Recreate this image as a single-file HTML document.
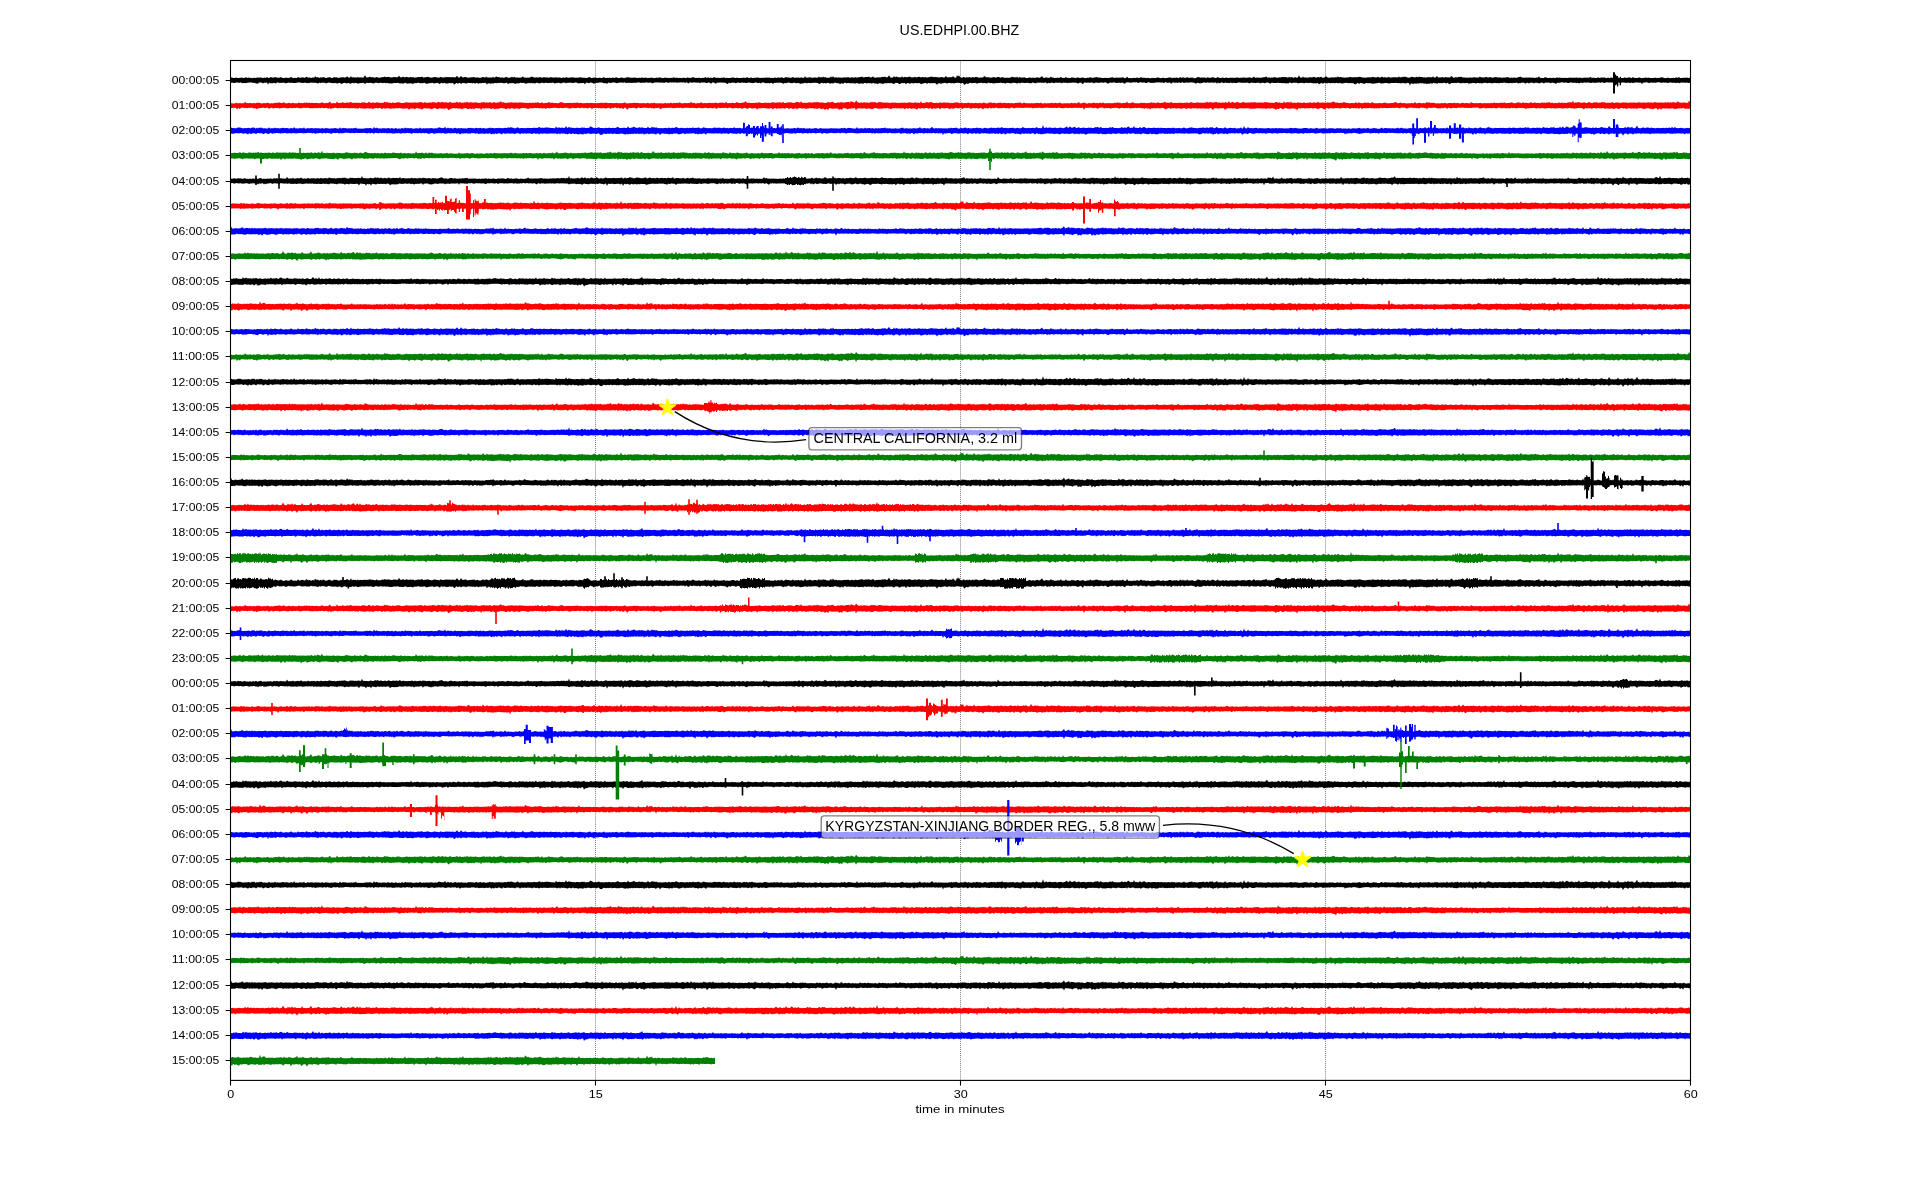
<!DOCTYPE html>
<html><head><meta charset="utf-8"><style>
html,body{margin:0;padding:0;background:#fff;}
svg{display:block;}
text{font-family:"Liberation Sans",sans-serif;}
.g{filter:url(#gs);}
</style></head><body>
<svg width="1920" height="1200" viewBox="0 0 1920 1200">
<rect width="1920" height="1200" fill="#fff"/>
<defs>
<path id="n0" d="M0-12l1 2 1-1 1 0 1-1 1 0 1 1 1 0 1 0 1-1 1-3 1 4 1 1 1-4 1 1 1 2 1 0 1 1 1-1 1-3 1 2 1-1 1 2 1-1 1-1 1 2 1-3 1 3 1-5 1 3 1 3 1-3 1 2 1 0 1 0 1-1 1 0 1 1 1-1 1-2 1 3 1-1 1 2 1-5 1 4 1 1 1-3 1 0 1-1 1 3 1-3 1 3 1-2 1 1 1-1 1 1 1-1 1 1 1 1 1-2 1-2 1 5 1-4 1 1 1 1 1-1 1 1 1 1 1-1 1 1 1-1 1 0 1 1 1-1 1 0 1 1 1 0 1-1 1 0 1 0 1 1 1-3 1 1 1 3 1-1 1-3 1 3 1 0 1-2 1-1 1 3 1-1 1-8 1 10 1-2 1 2 1-1 1-2 1 3 1-2 1 1 1 1 1-2 1 1 1-2 1 3 1 0 1-2 1 1 1 0 1 0 1 1 1 0 1-1 1 1 1-2 1-2 1 1 1 0 1 2 1-1 1 2 1-1 1 1 1-2 1-1 1 3 1-2 1 2 1 0 1-3 1 1 1 2 1 0 1-1 1-5 1 1 1 3 1 0 1 2 1-1 1 1 1-1 1 1 1 0 1-2 1 2 1 0 1-2 1 3 1-1 1 0 1-2 1 3 1-1 1-3 1 2 1 1 1 0 1-2 1 2 1 0 1-1 1-2 1 0 1 2 1 0 1 0 1 1 1-1 1 1 1-4 1 5 1-1 1 0 1-2 1 3 1-1 1-1 1 1 1 0 1 1 1 0 1-1 1 0 1 1 1-9 1 7 1 1 1-2 1 1 1 0 1-2 1 2 1 2 1-1 1-4 1 5 1 0 1-5 1 4 1-2 1 0 1 1 1 2 1-1 1 1 1 0 1 0 1 0 1-1 1 0 1 0 1 2 1-2 1 1 1-1 1-2 1 3 1 1 1-3 1 2 1-1 1 1 1 1 1 0 1-1 1 1 1-1 1-4 1 4 1 0 1 0 1 0 1 0 1-1 1 1 1-2 1 1 1 1 1 0 1-1 1-1 1 1 1 1 1 1 1 0 1-2 1 1 1 1 1-2 1 1 1-1 1 2 1 0 1 0 1-2 1-1 1 2 1 0 1-1 1-1 1 2 1 0 1-3 1 1 1 1 1 0 1 0 1 0 1 0 1 1 1-2 1 2 1-2 1 1 1 0 1 0 1 0 1 1 1-3 1 1 1-1 1 3 1 0 1-3 1 2 1 0 1 1 1 0 1-1 1 1 1-1 1 0 1-2 1 3 1-2 1 0 1 2 1-2 1 0 1 0 1 2 1-1 1 1 1-1 1 1 1-3 1 3 1-1 1-1 1 1 1 1 1-1 1-2 1 2 1 1 1-1 1 0 1 0 1-2 1 3 1-4 1 1 1 3 1-1 1-2 1-5 1 7 1 0 1 0 1-1 1 1 1-1 1-1 1 0 1-1 1 2 1 1 1 0 1 0 1-3 1 3 1 0 1-1 1 1 1 0 1 0 1-2 1 2 1-1 1 1 1-2 1 0 1 2 1-4 1 2 1 2 1-2 1 0 1 0 1-2 1 0 1 2 1 1 1-3 1 3 1-2 1 1 1 0 1-1 1-1 1 4 1-1 1-1 1 1 1-1 1 0 1-3 1 3 1-4 1 0 1 6 1-3 1 1 1-1 1 1 1 1 1-5 1 0 1 4 1-3 1 2 1 2 1-1 1-1 1 2 1-2 1 2 1 0 1-2 1 0 1 2 1-4 1 1 1 3 1-2 1 1 1-3 1 4 1 1 1-5 1 1 1 3 1 0 1 0 1 0 1 0 1-2 1 2 1 0 1 1 1-2 1-7 1 4 1 4 1-1 1 1 1-2 1 1 1 1 1-4 1 3 1 1 1 0 1 0 1-3 1 4 1-3 1-1 1 4 1-3 1 2 1-2 1-2 1 5 1-3 1 3 1-3 1 1 1 1 1-4 1 5 1-6 1 4 1-1 1 1 1 0 1 1 1 1 1-2 1 2 1 0 1-2 1 0 1 1 1-3 1 4 1-2 1 0 1 1 1 0 1 1 1 0 1 0 1-5 1 4 1 0 1-1 1-3 1 5 1-1 1 0 1-2 1 3 1 0 1 0 1 0 1-1 1 1 1 0 1-1 1 2 1-7 1 5 1-1 1 1 1 1 1 1 1 0 1-6 1 5 1-1 1 1 1-1 1 1 1 0 1-3 1 1 1 1 1 2 1-2 1 2 1-1 1 0 1 0 1-2 1-1 1 4 1 0 1 0 1-1 1-1 1 1 1 1 1-1 1 1 1 0 1-2 1 1 1 1 1-2 1-2 1 3 1 0 1 0 1 0 1 0 1 0 1-1 1 0 1 0 1 0 1 2 1 1 1-1 1 0 1 0 1-1 1-4 1 4 1 1 1-2 1 1 1 1 1-2 1 1 1 1 1-3 1 2 1 1 1 0 1-2 1 2 1 1 1-1 1-1 1 0 1 0 1-2 1 2 1 2 1-1 1 0 1 1 1-3 1 0 1 3 1-3 1 1 1 2 1-2 1-1 1 3 1 0 1 0 1-2 1 0 1 0 1-1 1 2 1-1 1-1 1 0 1 2 1-1 1 1 1-3 1 1 1 3 1-5 1-1 1 5 1 0 1 0 1-1 1 1 1 1 1-1 1-2 1 2 1-1 1 1 1 0 1 0 1-2 1 1 1-1 1-1 1 3 1 0 1-1 1-1 1 2 1-1 1 1 1-2 1 1 1-1 1 1 1 0 1-3 1 3 1 1 1-6 1 2 1 3 1 0 1 1 1 0 1-1 1 0 1-3 1 2 1-5 1 5 1 1 1-2 1 2 1 0 1-1 1 2 1-1 1-1 1 0 1 1 1-1 1 1 1 1 1 0 1-3 1 2 1-3 1 2 1-1 1 0 1 0 1 2 1-1 1 0 1 1 1 0 1-1 1 1 1-8 1 8 1-3 1 3 1-2 1 2 1 0 1 0 1-4 1 4 1 0 1 0 1-3 1 1 1 1 1-2 1 3 1-1 1-1 1 2 1 0 1-3 1-1 1 3 1 1 1-2 1-1 1 1 1 2 1-1 1-3 1 4 1 0 1-1 1-2 1 3 1-3 1 1 1-2 1 2 1 2 1-3 1 2 1 0 1-1 1 0 1-2 1-2 1 3 1 0 1 2 1 0 1-3 1 4 1-6 1 4 1-1 1 1 1-1 1 2 1-1 1 1 1-1 1 1 1-4 1 3 1-3 1 5 1-3 1 2 1-2 1 3 1-1 1 0 1 0 1-1 1 1 1-2 1 0 1 2 1-4 1 4 1-1 1 1 1 0 1-4 1-1 1 2 1 3 1 0 1 0 1-1 1-1 1 1 1-2 1 3 1-2 1 2 1-5 1 5 1-1 1-2 1 4 1-4 1 1 1 1 1 2 1-4 1 2 1-1 1 1 1 2 1 0 1-3 1 0 1 1 1 1 1 1 1-2 1 0 1 0 1-2 1-4 1 7 1 0 1 1 1-2 1 0 1 2 1-1 1-2 1 3 1-1 1 0 1-1 1 1 1-3 1 2 1 2 1-2 1-1 1 2 1 1 1-2 1 1 1-1 1 0 1 0 1 1 1-5 1 5 1-2 1 1 1-4 1 6 1 0 1 0 1 0 1-1 1 1 1 0 1-1 1 1 1 0 1-2 1 0 1 0 1 1 1 0 1-1 1 2 1-1 1 2 1-1 1 1 1 0 1-2 1-2 1 1 1 1 1-1 1 0 1 0 1 3 1-3 1 0 1 2 1 0 1 1 1 0 1-3 1 1 1 2 1 0 1-2 1-2 1 2 1 1 1 0 1-2 1 3 1 0 1 0 1 0 1-1 1-1 1 1 1 1 1-1 1 1 1 0 1 0 1 1 1-1 1 0 1 0 1-4 1 5 1-2 1-1 1 2 1-1 1 1 1 1 1-1 1-3 1 3 1-1 1-1 1 1 1 1 1 1 1 0 1-1 1-1 1 0 1 0 1 0 1 1 1-1 1 1 1 1 1-1 1 0 1-1 1 0 1 1 1-1 1 2 1-4 1 3 1 0 1-1 1-4 1 4 1 1 1 0 1 0 1 0 1-1 1 0 1-1 1 2 1 0 1 0 1-1 1-1 1 1 1-3 1 4 1-1 1 1 1-1 1 1 1-6 1 5 1 1 1 1 1-1 1 1 1-1 1-1 1 1 1 0 1-2 1 2 1 0 1 0 1 0 1 0 1-2 1 2 1-1 1 1 1 0 1-2 1 2 1 0 1-1 1 1 1 0 1-1 1 1 1-6 1 5 1 1 1-1 1-1 1 2 1 0 1 0 1-4 1 3 1 1 1-1 1 0 1 0 1-3 1 3 1 1 1 0 1-1 1 0 1-2 1-1 1 4 1-2 1 0 1 1 1-1 1 2 1 0 1-1 1-2 1 0 1 2 1-2 1-3 1 1 1 3 1 2 1-3 1 0 1 2 1-1 1 2 1-3 1 2 1 0 1 0 1-3 1 2 1-2 1 1 1-2 1 3 1 1 1 0 1 0 1 0 1 0 1-2 1 1 1-1 1 2 1-1 1-1 1 1 1-1 1 0 1 1 1-1 1 1 1 0 1-8 1 6 1-1 1 4 1-1 1 0 1 1 1 0 1-1 1 0 1 0 1-3 1 3 1 0 1 0 1-3 1 1 1 2 1-3 1 1 1 1 1 1 1-1 1 0 1 1 1 0 1-1 1 0 1-1 1 2 1 0 1 0 1 0 1 0 1 0 1 0 1 1 1-6 1 5 1 0 1 0 1-2 1 1 1 1 1-2 1 1 1-1 1 0 1 1 1 1 1-1 1-2 1 2 1 2 1-1 1 0 1 0 1 0 1-5 1 4 1-1 1 2 1 0 1-3 1 2 1 0 1-2 1 1 1 1 1 0 1 1 1 1 1-1 1-3 1 1 1 1 1 1 1 0 1-1 1 2 1-3 1 0 1 2 1 0 1 0 1 0 1 1 1-4 1 2 1 0 1-4 1 5 1 1 1-1 1 0 1 0 1-1 1 1 1-4 1 4 1-1 1 1 1-1 1 0 1 2 1 0 1-6 1 4 1 2 1-3 1 2 1 0 1-2 1 2 1 0 1 0 1-2 1 3 1-2 1 0 1-1 1 2 1-2 1 0 1 3 1 1 1-2 1-1 1 2 1 1 1-2 1-2 1 0 1 1 1 2 1 0 1 0 1 1 1-3 1 1 1 0 1-2 1 1 1 2 1-1 1-1 1 0 1-3 1 3 1-1 1 3 1 0 1-2 1 0 1 1 1 0 1 0 1 2 1-2 1 2 1-3 1 3 1 0 1 0 1-4 1 3 1 0 1-1 1 0 1 2 1 0 1-1 1 1 1-3 1 3 1 0 1 0 1-1 1-1 1 1 1 2 1-2 1 1 1-3 1 0 1 3 1 1 1-2 1 0 1-1 1 2 1 1 1-3 1 2 1 1 1-2 1 1 1-1 1 2 1-1 1 1 1 0 1-1 1 1 1-1 1-1 1 1 1 1 1-1 1-1 1 2 1-1 1 0 1 0 1 0 1 0 1 0 1-2 1 3 1-3 1 1 1 1 1 0 1 0 1-2 1 0 1 1 1 1 1-1 1 2 1-1 1-6 1 7 1-3 1 2 1-2 1 2 1-1 1 1 1 0 1-2 1 2 1 0 1 0 1 0 1 1 1-1 1 0 1 0 1-1 1 1 1 0 1 0 1 0 1 0 1 0 1 1 1-1 1-1 1 1 1 0 1-1 1-2 1 2 1 1 1-2 1 0 1 2 1 0 1-1 1-1 1 1 1 1 1-2 1 2 1-1 1 0 1 1 1 0 1-2 1 1 1 1 1 0 1-1 1-1 1 1 1 0 1-1 1 2 1-4 1 3 1 0 1 0 1 1 1-1 1-4 1 3 1 1 1-1 1-1 1 2 1 0 1 0 1-3 1 1 1 2 1-1 1 1 1-3 1 3 1 0 1 0 1-4 1 2 1 1 1 0 1-1 1 1 1 1 1 0 1-3 1 3 1 0 1-7 1 7 1-1 1-2 1 1 1 1 1-8 1 6 1 3 1 0 1 0 1-2 1-2 1 3 1 1 1 0 1-3 1 1 1 2 1-2 1 0 1 2 1-3 1 2 1-3 1 2 1 1 1 0 1 0 1-1 1 1 1-2 1-3 1 5 1 0 1-2 1 3 1-5 1 0 1-1 1 5 1 0 1-1 1-3 1 4 1-2 1 1 1 1 1-5 1 4 1 1 1-2 1 2 1 0 1-2 1 2 1 0 1 1 1-1 1-3 1 3 1 0 1-1 1-3 1 3 1-1 1 0 1 2 1-1 1-1 1 1 1-1 1 1 1-4 1 3 1 1 1-5 1 6 1 1 1-1 1 0 1 0 1-1 1-3 1 5 1-4 1 3 1 1 1-1 1 0l0 24l-1 1-1 0-1-2-1 1-1-1-1 0-1-1-1 2-1 0-1 0-1 0-1 0-1 1-1-3-1 0-1 0-1 3-1-3-1 2-1-1-1 2-1-3-1 1-1 5-1-5-1-1-1 1-1 6-1-4-1 1-1-4-1 1-1 0-1 0-1 2-1-1-1-3-1 2-1-1-1 0-1 0-1 0-1 0-1 0-1 2-1-1-1-1-1 0-1 1-1-2-1 1-1 5-1-6-1 2-1-1-1 0-1 0-1-1-1 1-1 0-1 0-1 0-1-1-1 0-1 3-1 1-1-4-1 0-1 0-1 1-1-1-1 2-1 0-1 0-1-1-1 6-1-5-1-1-1-1-1 3-1-3-1 0-1 1-1 2-1-1-1 1-1-2-1 0-1-1-1 3-1-2-1 0-1-1-1 0-1 0-1 4-1-3-1-1-1 0-1 2-1-2-1 2-1-1-1 0-1 0-1 0-1-1-1 4-1-5-1 3-1-1-1-2-1 3-1 0-1-3-1 0-1 2-1 0-1 0-1 0-1 0-1 0-1-1-1 0-1 2-1-3-1 3-1-2-1 1-1 0-1 0-1-2-1 3-1-2-1 0-1 0-1 3-1-2-1 1-1-2-1-1-1 2-1 0-1-1-1-1-1 0-1 1-1 0-1 2-1 0-1-3-1 0-1 0-1 1-1 0-1-1-1 0-1 2-1-2-1 0-1 0-1 1-1 0-1 0-1 0-1 1-1-2-1 2-1-2-1 1-1-1-1-1-1 0-1 1-1-1-1 1-1 1-1-2-1 3-1-2-1 0-1 1-1-1-1-1-1 0-1 2-1 0-1-1-1 1-1 2-1-3-1 1-1 0-1 0-1-1-1 0-1 0-1-1-1 3-1 2-1-4-1 2-1-1-1-2-1 3-1-1-1 1-1-3-1 0-1 2-1-2-1 5-1-1-1-2-1 1-1-3-1 1-1 5-1-5-1 0-1 1-1 0-1-1-1 2-1-2-1 2-1-2-1 0-1 0-1 1-1-1-1 0-1 0-1 3-1-3-1 0-1 2-1-2-1 0-1 0-1 1-1-1-1 1-1-1-1 3-1 0-1-1-1 1-1 0-1-2-1 0-1 1-1 0-1 1-1 0-1-2-1 2-1 0-1-2-1 1-1-2-1 0-1 1-1-1-1 0-1 0-1 0-1 0-1 1-1 0-1 1-1 2-1-3-1 1-1 0-1-1-1 1-1-2-1 6-1-4-1 0-1 1-1-2-1 1-1 0-1 1-1 0-1-2-1 3-1-2-1-1-1 2-1-2-1 1-1 2-1-2-1 2-1-1-1-1-1-1-1 2-1-1-1 2-1-1-1-2-1 0-1 0-1 1-1-1-1 7-1-4-1-1-1 1-1-2-1 4-1-4-1 0-1 1-1-1-1-1-1 3-1 1-1 0-1-3-1 1-1 0-1 0-1-1-1 1-1 4-1-4-1 0-1 1-1-2-1 2-1-1-1-1-1-1-1 2-1 1-1 0-1-2-1 2-1 0-1 1-1-2-1 2-1 3-1-6-1 4-1-2-1-2-1 0-1 10-1-5-1-2-1 1-1-3-1 0-1-2-1 2-1-1-1 1-1-1-1 1-1 1-1-2-1 1-1 2-1 0-1-1-1-2-1 0-1 3-1-3-1 0-1 3-1-4-1 2-1-2-1 1-1 0-1 6-1-7-1 0-1 5-1-5-1 0-1 1-1 0-1 2-1-2-1 8-1-8-1 0-1-1-1 3-1 1-1 0-1-1-1 0-1 1-1-2-1 2-1-4-1 1-1 1-1 1-1-1-1 2-1-3-1 4-1 0-1-4-1-1-1 4-1-4-1 2-1 0-1-1-1 0-1-1-1 0-1 0-1 2-1-1-1 2-1-1-1-2-1 3-1 2-1-4-1 1-1 0-1-2-1 0-1 0-1 2-1-1-1-1-1 0-1 0-1 0-1 0-1 3-1-2-1 0-1-1-1-1-1 1-1 2-1-1-1 0-1 0-1-2-1 2-1-1-1 1-1 1-1-2-1 0-1 0-1-1-1 3-1 3-1-4-1 4-1-5-1 1-1 2-1-4-1 4-1 1-1-3-1-2-1 3-1-1-1 0-1-2-1 0-1 0-1 0-1 0-1 1-1 1-1-1-1-1-1 2-1-2-1 1-1 0-1 1-1-1-1-1-1 3-1-1-1-2-1-1-1 1-1 0-1-1-1 2-1-1-1 1-1-1-1 0-1 0-1 3-1-3-1 0-1 2-1-2-1 1-1 0-1-1-1 1-1 6-1-6-1 2-1-3-1-1-1 1-1 1-1-1-1-1-1 2-1-1-1 0-1 0-1 0-1 1-1 0-1 0-1-2-1 0-1 1-1-1-1 1-1-1-1 1-1 0-1 0-1 1-1 2-1-4-1 2-1-2-1 1-1 1-1-1-1 0-1-1-1 0-1 1-1 1-1 0-1-1-1 1-1 1-1-3-1 0-1 1-1-1-1 0-1 2-1 0-1 1-1 1-1-4-1 2-1-1-1 2-1 1-1-2-1-1-1 2-1 1-1-2-1 2-1-2-1 0-1-1-1 0-1 1-1 1-1-2-1 0-1 2-1 0-1-1-1 0-1-1-1 1-1 0-1 0-1-1-1 1-1 5-1-5-1 3-1-4-1 1-1 2-1-2-1 5-1-6-1 0-1 4-1-3-1 3-1-2-1 1-1-1-1-1-1 2-1-1-1 2-1 2-1-4-1-1-1 3-1-3-1 0-1 0-1 2-1-2-1 1-1 1-1 1-1-3-1 2-1-1-1 3-1-3-1 2-1 1-1-4-1 1-1 1-1 0-1-2-1 2-1-1-1-1-1 0-1 2-1 0-1 0-1 3-1-5-1 2-1-2-1 0-1 1-1 0-1 1-1 0-1-2-1 4-1-2-1 0-1 1-1-1-1 2-1-4-1 1-1 0-1 1-1 2-1-3-1 1-1 0-1-2-1 1-1 2-1 1-1 0-1 0-1-4-1 1-1 0-1 1-1-1-1 2-1 2-1-5-1 1-1 0-1 2-1-1-1-2-1 2-1-1-1-1-1 0-1 5-1-4-1 0-1 2-1 1-1-1-1-3-1 0-1 1-1 2-1-1-1 0-1 1-1-3-1 1-1 0-1 2-1 1-1-1-1 0-1-1-1-1-1 1-1 3-1-5-1 2-1-1-1 2-1 2-1-4-1 2-1-2-1 0-1 3-1-3-1 2-1-1-1-2-1 2-1 0-1-2-1 3-1-1-1 0-1 0-1 4-1-4-1 1-1-1-1 0-1-1-1 0-1 0-1 0-1 1-1 1-1 1-1-3-1 2-1-2-1 0-1 0-1 1-1 0-1-1-1 1-1 0-1 1-1-2-1-1-1 1-1 2-1 0-1-1-1 1-1-2-1 1-1-1-1 0-1 3-1-4-1 0-1 1-1 3-1-3-1-1-1 0-1 4-1-1-1-3-1 0-1 2-1-2-1 0-1 1-1 0-1-1-1 3-1-1-1-3-1 1-1 1-1 0-1-2-1 2-1 0-1-1-1 1-1-2-1 2-1-2-1 3-1-1-1-1-1 1-1 0-1-2-1 2-1 0-1-1-1 0-1 1-1-2-1 0-1 1-1 2-1-3-1 1-1 0-1 1-1-1-1 1-1 0-1 0-1 1-1-3-1 0-1 1-1-1-1 0-1 2-1-1-1 1-1-1-1-1-1 1-1-1-1 0-1 0-1 0-1 0-1 1-1 0-1-1-1 1-1 0-1 0-1 1-1-2-1 1-1-1-1-1-1 0-1 0-1 1-1 0-1 2-1-2-1 2-1-3-1 6-1-5-1 3-1-4-1 2-1 1-1-2-1 1-1-2-1 2-1 1-1-2-1 1-1-1-1 0-1 2-1-3-1 3-1 1-1-2-1-2-1 1-1 1-1 0-1-2-1 3-1-1-1 2-1-2-1 1-1-1-1-2-1 0-1 2-1-1-1 1-1-1-1 1-1 0-1 1-1-2-1 1-1 0-1-1-1 1-1 0-1-2-1 1-1-1-1 1-1 1-1 1-1 1-1-3-1 0-1 2-1-2-1 1-1-1-1 1-1 2-1-2-1-1-1 0-1 3-1 1-1-4-1 2-1-2-1 1-1 2-1-1-1-2-1 5-1-2-1-2-1-1-1 0-1 1-1 2-1-2-1 0-1 0-1 3-1-4-1 4-1-4-1 7-1-3-1-1-1-1-1 0-1 1-1-1-1-1-1 0-1 0-1 3-1-3-1 0-1 2-1-3-1 1-1 5-1-3-1-2-1 1-1 0-1 1-1-2-1 2-1-2-1 3-1-1-1-2-1 6-1-6-1 2-1-1-1 0-1-1-1 0-1 2-1 0-1 0-1-1-1 0-1-1-1 2-1 0-1-1-1 0-1 1-1-1-1 0-1 1-1 0-1-2-1 1-1 2-1-3-1 0-1 0-1 1-1 2-1-2-1 3-1-2-1-1-1 0-1 2-1-2-1 1-1 1-1 0-1-1-1-1-1 0-1 1-1-1-1 3-1-4-1 3-1 0-1-2-1 0-1 3-1-3-1 1-1-1-1-1-1 2-1-2-1 3-1 0-1 2-1-2-1-2-1 0-1 5-1-5-1 1-1-1-1 3-1-2-1 1-1-1-1-1-1 0-1 1-1 2-1-3-1 0-1 2-1 2-1-2-1-1-1 6-1-5-1-1-1 1-1 1-1-3-1 2-1 0-1-2-1 6-1-6-1 0-1 3-1-3-1 1-1 0-1 0-1 1-1 0-1-1-1 1-1-2-1 2-1 0-1-1-1 2-1-3-1 1-1-1-1-1-1 3-1 2-1-1-1-2-1 2-1-3-1 2-1-1-1 0-1-1-1 4-1-5-1 1-1-1-1 0-1 0-1 1-1 1-1-1-1-1-1 0-1 0-1 1-1 0-1 4-1-5-1 0-1 0-1 0-1 4-1-1-1-3-1 1-1-1-1 3-1-3-1 3-1-2-1 0-1 1-1-2-1 0-1 0-1 6-1-6-1 0-1 1-1-1-1 0-1 0-1 0-1 0-1-1-1 2-1-1-1 3-1-3-1 1-1-2-1 8-1-7-1-1-1 0-1 1-1 2-1-3-1 1-1-1-1 1-1 0-1 0-1 1-1-2-1 3-1 0-1-3-1 2-1 0-1-2-1 2-1-1-1 0-1 0-1-1-1 2-1-2-1 2-1-2-1 0-1 2-1 0-1-1-1-2-1 3-1-2-1 3-1-1-1-2-1 0-1 2-1-1-1 2-1-2-1 0-1-1-1 0-1 0-1 0-1 0-1 2-1-1-1-1-1 0-1 1-1-1-1 1-1-1-1 2-1-1-1 1-1-1-1-1-1 1-1-1-1-1-1 1-1 0-1 4-1-3-1-1-1 0-1-1-1 2-1 1-1-2-1 1-1 0-1 3-1-4-1 0-1 1-1 0-1-1-1 0-1-1-1 2-1-2-1 1-1 0-1 2-1-2-1-1-1 2-1-2-1 3-1-1-1-2-1 2-1-1-1 1-1-2-1 2-1 0-1-1-1 1-1 0-1-1-1 0-1 2-1-2-1 0-1 0-1 1-1 2-1-3-1 0-1 5-1-3-1 0-1 2-1-4-1 0-1 1-1 1-1-2-1 0-1 0-1 1-1-1-1 2-1 0-1-2-1 1-1 1-1 0-1-1-1 1-1 3-1-1-1-2-1-2-1 0-1 0-1 0-1 1-1-1-1 1-1 0-1 1-1-2-1 3-1-2-1 0-1 3-1-3-1 0-1 1-1 0-1-1-1 0-1 1-1-1-1-1-1 2-1 2-1-3-1 2-1-3-1 1-1 3-1-2-1 0-1 1-1 1-1-3-1 0-1 0-1 1-1-1-1 0-1 1-1 0-1 1-1-2-1 1-1 4-1-2-1-2-1-1-1 0-1 2-1-1-1 1-1 2-1-2-1-1-1-1-1 0-1 1-1 6-1-5-1 0-1-2-1 4-1-1-1 0-1-1-1 1-1-1-1 0-1-1-1-1-1 1-1 0-1 0-1 1-1-1-1 4-1-2-1-1-1-1-1-1-1 0-1 3-1-1-1-1-1 0-1 1-1 1-1 0-1 3-1-6-1 1-1 1-1 1-1 0-1 5-1-8-1 4-1-2-1 0-1 0-1-1-1 0-1 1-1 0-1 0-1-1-1 1-1 0-1-1-1 0-1 5-1-5-1 0-1 1-1 6-1-7-1 0-1 2-1-2-1 1-1 0-1 0-1-1-1 2-1-2-1 0-1-1-1 2-1 2-1-3-1 0-1 2-1 0-1 1-1-4-1 2-1-1-1 0-1 0-1 0-1 3-1-1-1-3-1 2-1-1-1 1-1-1-1 1-1-2-1 0-1 2-1-2-1 4-1-1-1-2-1 0-1-1-1 0-1 2-1-2-1 4-1-3-1 0-1 0-1 0-1 1z"/>
<path id="n1" d="M0-10l1-2 1 2 1 0 1 1 1 0 1-2 1 1 1 1 1 0 1-1 1 0 1-1 1 2 1 0 1-2 1 0 1 0 1 2 1-3 1 4 1-2 1 1 1 1 1-3 1 2 1 0 1-2 1 0 1 1 1-1 1 0 1 1 1 1 1-1 1-1 1 2 1-4 1 3 1 1 1-2 1-2 1 2 1 0 1 1 1-4 1 3 1 0 1 1 1 0 1-1 1-2 1 3 1 1 1 0 1 0 1-2 1 1 1 1 1-1 1 0 1-4 1 3 1 2 1 0 1-1 1 1 1 0 1-5 1 4 1 0 1-1 1 0 1-1 1 2 1 0 1-3 1-1 1 4 1-1 1 0 1 2 1-1 1-2 1 3 1-7 1 3 1 2 1-2 1 4 1-2 1-1 1 2 1-3 1 1 1 2 1 1 1-1 1-1 1-1 1 0 1 2 1 1 1-1 1-3 1 2 1-1 1 1 1 1 1 0 1 0 1-3 1 3 1-3 1 2 1 0 1-1 1-3 1 2 1 3 1-1 1-6 1 7 1-3 1 2 1 0 1-1 1 2 1-4 1 4 1-2 1 1 1 0 1 0 1-1 1 0 1 1 1-1 1 1 1-2 1-1 1 2 1 0 1 0 1 1 1 1 1-2 1-1 1 3 1-1 1 1 1-1 1-2 1 1 1-1 1-2 1 3 1-1 1 0 1-1 1 3 1-1 1 1 1-1 1-1 1 0 1 1 1 0 1 0 1-7 1 6 1 2 1-1 1-3 1 3 1 1 1-3 1 1 1 1 1 1 1-2 1 0 1 2 1-2 1 2 1 1 1-2 1 1 1-2 1 0 1 1 1-1 1-2 1 4 1 0 1-1 1 0 1-1 1-1 1 2 1 1 1 0 1 1 1-2 1 0 1-2 1 3 1-1 1 1 1 1 1-2 1-2 1 3 1 0 1-1 1 1 1-3 1 2 1-1 1 1 1-1 1 2 1-2 1 1 1 0 1 1 1-2 1-5 1 5 1 3 1-2 1-6 1 5 1 2 1-1 1-1 1 0 1 2 1 1 1-1 1 0 1 0 1-2 1 2 1-3 1 3 1 1 1-2 1 1 1 1 1 0 1 0 1-2 1-1 1 1 1 2 1-5 1 4 1-1 1 2 1-2 1 2 1-1 1-2 1 2 1 0 1-4 1 1 1 2 1-1 1 2 1 1 1-2 1 2 1 0 1-1 1-3 1 2 1 2 1 0 1-1 1 0 1-4 1 5 1-4 1 2 1 2 1-2 1 2 1-1 1 1 1-1 1-1 1-4 1 6 1-1 1 1 1 0 1-1 1 1 1-1 1-4 1 2 1-1 1 4 1-2 1 2 1-3 1 3 1-2 1 0 1 0 1 2 1-1 1-2 1 2 1 0 1-1 1 2 1-1 1 0 1-2 1 2 1 0 1 0 1 0 1-1 1 1 1 1 1-2 1 2 1 0 1 1 1-2 1 0 1 2 1-4 1 2 1 1 1 0 1-1 1 0 1-1 1 1 1-1 1 3 1-2 1 1 1 0 1-1 1-1 1 1 1 0 1 1 1 0 1 0 1 1 1 0 1-2 1-1 1-1 1 4 1 0 1-1 1-1 1 1 1-1 1 2 1 0 1-1 1 0 1 1 1 0 1-2 1-2 1 4 1 0 1-1 1 1 1-1 1 0 1 1 1-1 1-1 1 2 1-1 1-2 1 1 1 2 1 0 1 0 1-2 1 0 1 2 1-1 1 2 1-4 1 2 1-4 1 4 1-1 1 1 1 0 1 0 1-1 1 1 1-1 1 2 1 0 1-1 1 0 1 1 1-3 1 3 1-1 1 0 1-1 1 3 1-2 1 1 1-1 1 0 1-1 1 2 1 0 1 0 1-1 1-1 1 2 1-2 1-1 1 3 1-1 1 1 1 0 1-2 1 1 1 1 1-1 1 2 1-2 1 1 1-1 1 0 1-2 1 2 1 1 1-2 1 2 1 0 1-1 1 1 1 1 1-3 1 2 1-1 1 2 1-3 1 0 1 2 1-1 1 1 1-2 1-2 1 2 1 2 1-1 1 1 1 0 1-2 1 2 1 0 1 0 1-1 1 1 1-3 1 0 1 4 1-5 1 4 1-1 1 0 1 0 1 1 1-4 1 2 1 2 1-2 1 2 1-1 1 1 1-1 1 0 1 0 1-2 1 3 1 0 1-1 1 1 1 0 1 0 1-1 1-1 1 0 1 0 1 2 1 0 1-2 1 2 1 0 1 0 1-1 1 1 1-1 1-1 1 2 1-1 1-2 1 1 1 2 1 0 1-3 1 3 1 0 1-1 1 1 1-2 1 1 1-2 1 3 1-1 1 1 1-1 1 0 1 1 1-2 1 1 1-1 1 1 1-1 1 1 1 1 1-1 1 1 1 0 1-3 1 3 1-1 1-1 1 1 1-1 1 1 1-3 1 4 1 0 1-2 1-2 1 2 1 0 1 0 1 1 1 0 1-1 1-2 1 3 1 0 1-1 1 1 1-1 1 0 1 2 1-3 1 2 1 0 1 1 1-8 1 7 1-1 1 1 1-2 1 0 1 1 1 1 1 0 1-1 1 0 1 0 1 1 1-1 1-4 1 5 1-4 1 4 1-5 1 4 1-2 1 2 1 1 1 0 1 0 1-1 1-5 1 6 1-7 1 6 1 0 1-1 1 1 1 1 1-2 1 2 1-1 1 1 1-1 1 0 1-1 1 1 1 0 1-2 1 2 1 1 1-1 1-1 1 1 1 1 1-3 1 2 1 0 1 0 1-1 1-1 1 0 1-2 1 3 1 1 1-2 1 0 1 0 1 0 1-2 1 4 1-1 1 0 1-4 1 5 1 1 1-1 1 0 1-1 1 1 1-1 1 1 1-3 1 1 1 0 1-2 1 3 1 1 1-3 1-6 1 7 1 3 1-1 1 0 1-6 1 6 1-4 1 1 1 2 1 0 1 0 1 1 1-5 1 5 1-1 1-2 1 2 1 0 1-1 1-1 1-1 1 4 1-1 1 1 1-1 1-2 1 3 1-1 1-1 1-1 1 1 1 2 1-2 1 0 1 2 1-2 1 1 1 1 1 0 1-2 1 1 1-4 1 3 1-1 1 2 1-1 1 0 1 1 1 0 1 1 1-1 1 0 1-1 1 1 1 2 1-3 1-5 1 7 1-1 1 0 1 0 1-1 1 2 1-6 1 4 1 3 1 0 1-10 1 5 1-5 1 8 1 1 1 1 1-2 1-2 1 4 1-1 1-2 1 3 1-3 1 1 1 2 1-2 1-1 1 3 1-3 1 0 1 0 1 2 1 1 1-1 1 0 1 0 1 0 1-5 1 0 1 5 1-2 1 2 1-1 1 1 1 1 1-1 1-1 1-1 1 2 1 1 1-3 1 0 1 0 1 2 1 1 1-3 1 1 1 2 1 0 1 0 1 0 1 0 1 0 1 0 1-2 1-2 1 1 1 2 1-2 1 3 1-5 1 5 1-1 1-3 1 5 1-3 1 2 1-2 1 1 1 2 1 0 1 0 1-2 1 0 1 1 1 1 1-2 1 1 1 1 1-2 1 0 1-1 1 3 1-2 1-2 1-4 1 6 1 2 1-1 1-2 1 2 1-1 1 2 1-2 1-4 1 5 1-2 1 3 1 0 1-1 1 1 1-2 1 2 1-2 1-3 1 5 1-1 1 1 1-1 1-4 1 5 1-1 1 1 1 0 1-1 1-2 1 2 1-1 1 2 1 0 1-2 1 0 1 1 1 1 1-1 1 0 1-2 1 3 1 1 1-1 1 0 1-2 1 2 1-4 1 2 1 2 1-2 1 1 1-2 1 0 1-1 1 2 1 1 1-1 1 1 1 1 1 0 1 0 1-1 1 1 1-1 1 1 1 1 1-4 1 3 1-5 1 4 1 0 1 0 1 0 1-1 1 1 1 0 1-1 1 1 1-1 1-1 1 2 1 2 1-1 1-6 1 5 1 2 1-1 1 0 1 1 1-1 1-1 1 1 1 0 1-2 1 1 1 2 1-3 1-1 1 1 1 2 1-2 1 2 1-1 1 2 1-2 1 1 1 1 1 0 1-2 1 1 1 0 1 0 1 1 1-4 1 2 1-1 1 3 1-1 1 1 1-3 1 2 1 1 1-1 1 0 1-1 1-1 1 0 1 0 1 2 1 0 1-2 1 2 1-2 1 1 1 0 1 2 1-5 1 2 1 2 1-4 1 4 1-2 1 3 1-6 1 4 1 0 1 0 1 0 1-1 1 1 1 2 1 0 1-1 1-2 1-3 1 3 1-1 1 3 1-3 1 2 1-1 1 0 1 2 1-1 1-3 1 4 1-1 1 0 1-2 1 0 1 1 1 2 1 0 1-2 1-2 1 4 1-1 1 1 1-1 1-1 1 2 1 0 1-3 1 3 1-1 1 1 1-1 1-1 1 2 1-2 1 2 1-1 1-1 1 1 1-2 1 3 1-1 1 0 1-1 1 1 1-2 1 2 1 0 1 0 1-1 1 0 1-1 1 3 1-1 1-1 1-4 1 5 1 0 1-1 1 1 1-1 1 1 1 0 1-1 1 0 1-2 1 2 1-5 1 4 1 3 1-4 1 4 1-2 1 0 1 1 1-3 1 1 1 1 1 1 1 0 1-2 1 1 1-1 1-1 1 0 1 1 1-1 1 1 1 0 1 2 1-4 1 3 1-1 1-1 1 3 1 0 1-3 1 2 1 1 1-2 1-8 1 9 1 0 1 1 1-5 1 5 1-2 1 1 1 1 1-1 1 0 1-2 1 2 1-1 1 0 1-2 1 2 1 2 1-2 1-1 1 2 1-2 1-1 1 3 1 1 1-1 1-1 1-5 1 5 1 1 1 1 1 0 1-2 1 1 1-1 1 1 1 0 1-2 1 2 1-5 1 5 1-2 1 0 1 2 1-1 1 2 1-1 1 1 1-2 1 1 1-1 1-1 1 0 1 2 1-1 1 0 1 0 1-1 1 2 1-2 1-1 1 1 1 0 1 2 1 0 1 1 1-1 1 1 1-1 1-1 1 1 1-2 1 3 1-4 1 1 1 1 1 0 1 1 1-1 1-2 1 3 1 0 1-1 1-3 1 4 1-1 1 0 1 1 1 0 1-1 1-2 1 4 1-1 1 0 1-1 1 0 1 0 1 0 1 1 1-1 1-3 1 4 1-2 1 2 1-4 1 3 1-3 1 2 1 1 1 2 1-1 1 1 1-4 1 1 1 0 1 1 1 1 1-2 1-1 1 3 1-4 1 2 1 0 1 0 1 2 1-1 1 1 1 0 1 0 1-3 1 3 1-2 1 1 1 1 1-5 1 5 1 0 1-1 1-6 1 7 1 0 1-1 1 1 1-1 1-1 1 3 1-2 1-1 1 2 1-1 1 1 1 0 1-5 1 0 1 5 1 1 1-1 1-2 1 2 1-1 1-2 1 2 1-3 1 3 1 1 1 0 1 0 1 1 1-1 1 1 1 0 1-2 1 2 1-1 1 0 1-1 1 0 1 2 1-2 1 2 1-2 1-3 1 4 1-1 1 1 1 0 1-1 1-1 1 0 1 3 1-2 1-1 1 2 1 0 1 1 1-2 1 0 1-1 1 1 1 1 1 0 1 0 1 0 1 1 1 0 1-2 1 2 1-1 1-2 1 1 1 1 1 1 1 0 1-1 1 2 1-3 1 2 1 0 1 0 1-2 1-1 1-1 1 0 1 4 1-1 1 1 1 0 1-1 1 0 1 1 1-1 1 0 1 1 1-1 1 1 1 0 1 1 1-2 1 0 1 0 1-5 1 7 1-1 1 1 1 0 1 0 1-4 1 2 1 1 1 1 1 0 1-1 1 1 1 0 1-1 1 0 1 1 1 0 1-3 1 2 1 0 1-1 1 2 1-1 1 1 1-1 1 1 1-1 1 1 1 0 1-2 1 2 1-3 1 3 1-1 1-1 1 2 1-2 1 0 1 2 1-2 1 2 1-2 1 3 1-2 1 0 1-1 1 1 1 0 1-1 1 2 1-5 1 3 1 1 1 0 1 0 1 1 1 0 1 0 1-3 1 2 1 1 1-2 1 0 1 1 1-2 1 2 1 1 1 0 1-2 1 2 1 0 1-3 1 3 1-2 1 2 1-1 1 0 1 0 1 1 1 0 1 0 1 0 1 0 1 0 1-1 1-2 1 3 1-1 1-1 1 0 1-1 1 4 1-2 1-3 1 4 1-1 1 1 1 0 1 0 1-3 1 2 1 1 1 1 1-2 1 1 1-1 1-2 1 4 1-3 1 1 1 1 1 0 1 0 1 0 1 0 1-2 1 2 1 0 1-1 1 1 1-1 1-2 1 1 1-1 1 4 1-1 1 0 1 0 1-2 1 2 1 1 1-1 1 0 1-1 1 1 1 0 1-3 1 2 1 0 1-3 1 4 1 0 1 0 1-1 1 0 1 0 1 0 1-1 1 2 1 0 1-2l0 23l-1-2-1 1-1-2-1 1-1 0-1-1-1 1-1-1-1 0-1 2-1 1-1-3-1 2-1 0-1-1-1 0-1 0-1 0-1-1-1 0-1 0-1 3-1-2-1-1-1 1-1-1-1 0-1 1-1 0-1-1-1-1-1 0-1 0-1 3-1-2-1 1-1 0-1-1-1 0-1 1-1 2-1-3-1 0-1-1-1 1-1 1-1-1-1 7-1-6-1-1-1 1-1-1-1 0-1 0-1 0-1 1-1 2-1-3-1 1-1 2-1-3-1 1-1 0-1 1-1-2-1 1-1-2-1 2-1-1-1 1-1 0-1-2-1 2-1 3-1-4-1-1-1 1-1 0-1 0-1 0-1 0-1 0-1-1-1 1-1 1-1 1-1-2-1-1-1 2-1 0-1-2-1 2-1-1-1 1-1 0-1 1-1-3-1 3-1-1-1 1-1-2-1 0-1 0-1 1-1-1-1 0-1 1-1 2-1-4-1 4-1 0-1-1-1-1-1 2-1-3-1 1-1 1-1-2-1 0-1 0-1 2-1 0-1-1-1-1-1 0-1 1-1-1-1-1-1 1-1 1-1 0-1 0-1 0-1 5-1-3-1-1-1-1-1-1-1 3-1-1-1-2-1 1-1-1-1 1-1-1-1 5-1-4-1-1-1 1-1 2-1 0-1-1-1-1-1 0-1 0-1 3-1-3-1 0-1-1-1 2-1 2-1-3-1 0-1 2-1 2-1-5-1 1-1 0-1 0-1 3-1-3-1 4-1-5-1 1-1 1-1 0-1-1-1 3-1-3-1 1-1 1-1 0-1-2-1 2-1-3-1 1-1 0-1 1-1 0-1-1-1 3-1-2-1 0-1 1-1-2-1 1-1 1-1 0-1 0-1-1-1-1-1 2-1 0-1-2-1 1-1-1-1 1-1 3-1-4-1 3-1-2-1 0-1-1-1 4-1-3-1 0-1 0-1-1-1 4-1-4-1 5-1-3-1-2-1 2-1-1-1 1-1-2-1 2-1 0-1 0-1-2-1 0-1 0-1 2-1-2-1 1-1 0-1 0-1 0-1 5-1-1-1-4-1-1-1 4-1-4-1 0-1 1-1 1-1-1-1 1-1-1-1 0-1 4-1-4-1 2-1-3-1 1-1 4-1-4-1 3-1-1-1 1-1 1-1-1-1-2-1 3-1-4-1 2-1-2-1 1-1 1-1 0-1-1-1 3-1-3-1 2-1 0-1 0-1-2-1 9-1-9-1-1-1-1-1 4-1-3-1 2-1-3-1 2-1 0-1 0-1-1-1 1-1-1-1-1-1 1-1 0-1 0-1 0-1-1-1 3-1-1-1 1-1-2-1 0-1 0-1 1-1 1-1-2-1 4-1-5-1 0-1 1-1 0-1 2-1-1-1 2-1-1-1 1-1-2-1 0-1-1-1 2-1-2-1 0-1 3-1 0-1-1-1-1-1-1-1 0-1 5-1-6-1 2-1 4-1 0-1-1-1-5-1 3-1-3-1 2-1-1-1 1-1-2-1 1-1-1-1 2-1 0-1 1-1 0-1-3-1 2-1 0-1-1-1-1-1 3-1-3-1 2-1-1-1 0-1 2-1-3-1 1-1 2-1-2-1 0-1-1-1 5-1-4-1 1-1 1-1 4-1-6-1 0-1 3-1-4-1 4-1-3-1 1-1-2-1 0-1 2-1-2-1 1-1-1-1 1-1 2-1-3-1 1-1-1-1 1-1 0-1 2-1-3-1 0-1 0-1 0-1 0-1 2-1-1-1-2-1 1-1 4-1-4-1 4-1-3-1 1-1-1-1 1-1-1-1 0-1 0-1-2-1 2-1 0-1 0-1 0-1 0-1-2-1 3-1 2-1-4-1 0-1-1-1 1-1 2-1-1-1-1-1 0-1 1-1 2-1-4-1 1-1 0-1 1-1 0-1-1-1 1-1-2-1 1-1 1-1 2-1-4-1 1-1 0-1 0-1 1-1-2-1 2-1-1-1-1-1 0-1 0-1 2-1 0-1 0-1-1-1 0-1 2-1-3-1 1-1 2-1-2-1 1-1-1-1-1-1 3-1-2-1-1-1 0-1 3-1-1-1-2-1 5-1-5-1 0-1 1-1 0-1-1-1 0-1 1-1 0-1-1-1 0-1 1-1 0-1-2-1 2-1 1-1 1-1 0-1 0-1-2-1 0-1 4-1-2-1-3-1 1-1-2-1 1-1 0-1 0-1 1-1-1-1 0-1 1-1 1-1-2-1-1-1 2-1 1-1-3-1 2-1 1-1-3-1 4-1-4-1 1-1 1-1 5-1-7-1 2-1 0-1 0-1-2-1 0-1 4-1-3-1 0-1 1-1-2-1 1-1 0-1-1-1 1-1 1-1 0-1 1-1-1-1 1-1-1-1-2-1 0-1 3-1 0-1-1-1-2-1 2-1-1-1-1-1 0-1 2-1 1-1-3-1 0-1 1-1-1-1 0-1 2-1-1-1 1-1-1-1-1-1 1-1 0-1 4-1 1-1-5-1 1-1 0-1 1-1-2-1 1-1 1-1 0-1-2-1 0-1 0-1 1-1 0-1-1-1 3-1 1-1-1-1-3-1-1-1 2-1 0-1-1-1 0-1 1-1 0-1 0-1 0-1-1-1 1-1 3-1-3-1-1-1 0-1 1-1 0-1-1-1 1-1 0-1-1-1 0-1 7-1-3-1-4-1 1-1 0-1 4-1-4-1 1-1-2-1 1-1-1-1 1-1 0-1 1-1-2-1 3-1-1-1-2-1 2-1-2-1 1-1 1-1 1-1-3-1 1-1 0-1 0-1-1-1 1-1 2-1-2-1 0-1-1-1 3-1-1-1-1-1 4-1-5-1 0-1 2-1-1-1 0-1 0-1-1-1 1-1 0-1-1-1 4-1-2-1 0-1-2-1 1-1 3-1-2-1 1-1-2-1 0-1 1-1 0-1 0-1-1-1 0-1 0-1 3-1-3-1 1-1 3-1-3-1 0-1-1-1 0-1 1-1 2-1-1-1-1-1 0-1-1-1 2-1 2-1-4-1 2-1-1-1-1-1 0-1 1-1 1-1-2-1 2-1 0-1 0-1 1-1-2-1 0-1 1-1-2-1 0-1 3-1-1-1-1-1 0-1 1-1-2-1 0-1 1-1 0-1 0-1 4-1-5-1 1-1 0-1 0-1 1-1-1-1-1-1 2-1 3-1-2-1 0-1 4-1 1-1-8-1 2-1 0-1-1-1 0-1-1-1 0-1 1-1 0-1 2-1-1-1-1-1 2-1-3-1 1-1 0-1 3-1-3-1-1-1 1-1 1-1 0-1 3-1-3-1 0-1 1-1 6-1-6-1-1-1-1-1 1-1 0-1-1-1 2-1-2-1 0-1 4-1-4-1 0-1 1-1 1-1 1-1 2-1-4-1-1-1 1-1 0-1-1-1 0-1 2-1-1-1 0-1-1-1 3-1-1-1-2-1 0-1 6-1-6-1 0-1 1-1-1-1 1-1 3-1 0-1-4-1 0-1-1-1 2-1 3-1-1-1-2-1-2-1 3-1-2-1 0-1 1-1 0-1 0-1 0-1 4-1-3-1 0-1-1-1 0-1 3-1-1-1-2-1 2-1-2-1-2-1 4-1-2-1-1-1 2-1-3-1 3-1-1-1-1-1 0-1 4-1-3-1 1-1 0-1 1-1-1-1-2-1 1-1 2-1-2-1 0-1 0-1 0-1 0-1 0-1-2-1 3-1-2-1-1-1 0-1 6-1-5-1 2-1 3-1-4-1 0-1 0-1-2-1 0-1 0-1 4-1-3-1 2-1 0-1-1-1-2-1 1-1 2-1-2-1 1-1 0-1-2-1 2-1 1-1 3-1-5-1 0-1-1-1 0-1 0-1 1-1-1-1 2-1-1-1 0-1-1-1 3-1-2-1-1-1 2-1 0-1 1-1 0-1 2-1-5-1 2-1-1-1 1-1-1-1-2-1 2-1 1-1-1-1 0-1-2-1 0-1 2-1 1-1-2-1 3-1 1-1-4-1 1-1-2-1 1-1 0-1 0-1 0-1 1-1-1-1 6-1-6-1 1-1 1-1 0-1-1-1 1-1-1-1 1-1-3-1 0-1 0-1 4-1-3-1 0-1 2-1-2-1-1-1 0-1 2-1 1-1-2-1 1-1-1-1-1-1 0-1 2-1 0-1-1-1 0-1 0-1-1-1 1-1 1-1-1-1-1-1 1-1 2-1-1-1-2-1 1-1-1-1 2-1 1-1-3-1 5-1 1-1-4-1-1-1 0-1-1-1 1-1-1-1 0-1 1-1 0-1-1-1 5-1-2-1-3-1 0-1 0-1 6-1-5-1-1-1 0-1 2-1 0-1-2-1 0-1 0-1 0-1 0-1 3-1-3-1 0-1 2-1-3-1 2-1-2-1 1-1 1-1-1-1-1-1 3-1 2-1-5-1 1-1 2-1-3-1 1-1 0-1-1-1 1-1 0-1 0-1 1-1-1-1-1-1 2-1-2-1 1-1 0-1-1-1 2-1 0-1-1-1-1-1 1-1 2-1-2-1 1-1-1-1 0-1 1-1-2-1 1-1 0-1 0-1 0-1 3-1 0-1-3-1 0-1 1-1 0-1-1-1 0-1 0-1 2-1-2-1 1-1 1-1-2-1 0-1 0-1 0-1 1-1 1-1-2-1 2-1-1-1 1-1-1-1 0-1 1-1-2-1 3-1-3-1-1-1 3-1-2-1 0-1 0-1 1-1 0-1 2-1-1-1-2-1 0-1 0-1 1-1 0-1 2-1-3-1 1-1 5-1-4-1 1-1 0-1-1-1-2-1 0-1 0-1 0-1 2-1-1-1 1-1-1-1 6-1-5-1 0-1-2-1 0-1 3-1-1-1-1-1-1-1 8-1-6-1 0-1 0-1 1-1-1-1 2-1-1-1-2-1-1-1 0-1 1-1 2-1-2-1 0-1 0-1 0-1 0-1 0-1 3-1-4-1 1-1-1-1 3-1 0-1 0-1-2-1 0-1 2-1-2-1 4-1-3-1-1-1-1-1 3-1-2-1 1-1 0-1 0-1-1-1 0-1 3-1-3-1 0-1 1-1 1-1 1-1-2-1-1-1 0-1 4-1-3-1 1-1 0-1-2-1 3-1-3-1 2-1 0-1 2-1-1-1-3-1 1-1 0-1-1-1 0-1 3-1-1-1 1-1-1-1 4-1-5-1 1-1-1-1 1-1 0-1 0-1 4-1-6-1 0-1 2-1 0-1 0-1-2-1 1-1-1-1 2-1-2-1 2-1-1-1 0-1 1-1 2-1-4-1 6-1-5-1 3-1-3-1 7-1-7-1-1-1 1-1 0-1 0-1 2-1-3-1 4-1-1-1-2-1 0-1 3-1-3-1 1-1 0-1-1-1 0-1 0-1-1-1 2-1 2-1-3-1 1-1-2-1 2-1 3-1-4-1 0-1 3-1-3-1 0-1 5-1 1-1-6-1 0-1 2-1-3-1 2-1 0-1 2-1-2-1 0-1-2-1 3-1-2-1-1-1 5-1-1-1-3-1-1-1 2-1-1-1 3-1-3-1-1-1 2-1-1-1 1-1 1-1 1-1 0-1-3-1-1-1 2-1 0-1-1-1 2-1-3-1 0-1 1-1 1-1-1-1 1-1 3-1-2-1 0-1-1-1 1-1 0-1 1-1-3-1-1-1 3-1 0-1 0-1-1-1 1-1-1-1-2-1 1-1 0-1 0-1 0-1 1-1 1-1 0-1-1-1 1-1-2-1 0-1 1-1-1-1-1-1 2-1-1-1-1-1 0-1 2-1-1-1-1-1 0-1 0-1 3-1 0-1-2-1 0-1-1-1 1-1 0-1-1-1 1-1-1-1 2-1-2-1 1-1 0-1 1-1 0-1 2-1-2-1-1-1-1-1 3-1-3-1 1-1 2-1 1-1-3-1 0-1 2-1-1-1-2-1 1-1 0-1 4-1-1-1-4-1 1-1 1-1 2-1-4-1 2-1-1-1 1-1-1-1 0-1-1-1-1-1 1-1 1-1 2-1-3-1 0-1 0-1-1-1 3-1-2-1 0-1 4-1-3-1 0-1-1-1 0-1 0-1 0-1-1-1 1-1 2-1-2-1 2-1-2-1 0-1 0-1 1-1 0-1-1-1-1-1 0-1 0-1 1-1 0-1 1-1 0-1 0-1-1-1 0-1 1-1-2-1 1-1 1-1 1-1 0-1-3-1 1-1 0-1 1-1-1-1 1-1-2-1 0-1 4-1-1-1-2-1 2-1 0-1 0-1 0-1-3-1 9-1-9-1 1-1 0-1 0-1 3-1-3-1-1-1 0-1 0-1 5-1-1-1 0-1-2-1-1-1 1-1-2-1 0-1 0-1 0-1 1-1 0-1 2-1-1-1 0-1 1-1-1-1-2-1 0-1 2-1-2-1 0-1 0-1 2-1 0-1-1-1 0-1 0-1-1z"/>
<path id="n2" d="M0-11l1-3 1 3 1 0 1 1 1-1 1 2 1-3 1-1 1 0 1 0 1 1 1 2 1 0 1 0 1-1 1 1 1-1 1 0 1-1 1 2 1 0 1-4 1 3 1-3 1 4 1 1 1-4 1 4 1-4 1 2 1-2 1 1 1 3 1-1 1 0 1 1 1 0 1 0 1-5 1 5 1-1 1 0 1 0 1 0 1-3 1 3 1 0 1-1 1 2 1-1 1 0 1-1 1-1 1 1 1 1 1-1 1 0 1 1 1 1 1 0 1-3 1 2 1 1 1-6 1 5 1 1 1-1 1 1 1 0 1-3 1 3 1-2 1 2 1-5 1 6 1-1 1 0 1-3 1 4 1-3 1 1 1-1 1 1 1 1 1-1 1-1 1 2 1-2 1 2 1-1 1 2 1-4 1 3 1 0 1 0 1-3 1 3 1-2 1 3 1-1 1 0 1-1 1 1 1-1 1-1 1 1 1 1 1 0 1 1 1-6 1 5 1 0 1-3 1 2 1-1 1 1 1 1 1 0 1-1 1 1 1-1 1 0 1 1 1-2 1 1 1-3 1 5 1-1 1 0 1 1 1-1 1 1 1-1 1 1 1-3 1 2 1-3 1 3 1-2 1 0 1 1 1 1 1 1 1-8 1 7 1-3 1 0 1 3 1-1 1 1 1 0 1 0 1-2 1 2 1-2 1 3 1-2 1-1 1 1 1 1 1 0 1-3 1 4 1-1 1 0 1-3 1 4 1 0 1-2 1 2 1-1 1-2 1 1 1 2 1-5 1 2 1 2 1-3 1 3 1-2 1 1 1 0 1 2 1-1 1 0 1-1 1 0 1 1 1 0 1-4 1 3 1 2 1-2 1 0 1 1 1-1 1 0 1 0 1 1 1-2 1 1 1-1 1 2 1 0 1-1 1 0 1 1 1-3 1-2 1 2 1 0 1 2 1-2 1 2 1-7 1 8 1-1 1-3 1 3 1 0 1-2 1 3 1 0 1-1 1-2 1 1 1 2 1-1 1-1 1 2 1-2 1 1 1 0 1 1 1-1 1 1 1 0 1-2 1-1 1 2 1-2 1 2 1-1 1 2 1-1 1-2 1 1 1 1 1 0 1-2 1 1 1 2 1-2 1 0 1 2 1 0 1-1 1 0 1-1 1-2 1 3 1-2 1 1 1 1 1 0 1-1 1 0 1 1 1-2 1 1 1 1 1-1 1 1 1-1 1-1 1 1 1 0 1-3 1 2 1-1 1-1 1 1 1 1 1 2 1 0 1 0 1-3 1-1 1 4 1 0 1-1 1 0 1 0 1 1 1-1 1 1 1-1 1-1 1 1 1 0 1 0 1 0 1 0 1-2 1 2 1-1 1 1 1-1 1-3 1 1 1 4 1-3 1 1 1 1 1-2 1 0 1 0 1 0 1 1 1 0 1 1 1 0 1 0 1 1 1 0 1-7 1 5 1 0 1-1 1 0 1 2 1-2 1 1 1 1 1-1 1-7 1 7 1 0 1-4 1 4 1-1 1 1 1 1 1-1 1 2 1-2 1 0 1 0 1 1 1 0 1-1 1-2 1 3 1-3 1 3 1 0 1 0 1-1 1 1 1-6 1 0 1 3 1 1 1 3 1-2 1 1 1 0 1-2 1-1 1 3 1 0 1 0 1 0 1 1 1-1 1-1 1 1 1 0 1-2 1 2 1 0 1 0 1-1 1 1 1 0 1-1 1-2 1-2 1 4 1 1 1 0 1 0 1-1 1 0 1 0 1 1 1 0 1-7 1 6 1 1 1-1 1-1 1-1 1-3 1 4 1 1 1 0 1 1 1-4 1 3 1-1 1 0 1 0 1 2 1 0 1 0 1 0 1-6 1 6 1 0 1-1 1-5 1 5 1-3 1 3 1-1 1 0 1 3 1-1 1 1 1-1 1 1 1 0 1-1 1 0 1-1 1 2 1 0 1-4 1 4 1-1 1-1 1 0 1 1 1-1 1-4 1 3 1 1 1 2 1-1 1-1 1 1 1-1 1 2 1-1 1 1 1-3 1 3 1-1 1-1 1 1 1 0 1-3 1 3 1 0 1-1 1 1 1-2 1 0 1 3 1 0 1 0 1-3 1-1 1 3 1-1 1 2 1-1 1 1 1-1 1 1 1 0 1-1 1-2 1 1 1-1 1 3 1-3 1 1 1 0 1 1 1 1 1-2 1-1 1 2 1 1 1-2 1 2 1 0 1-2 1 1 1 0 1 1 1-4 1 2 1 2 1-1 1-1 1 2 1-2 1 2 1 1 1-2 1-2 1 2 1 0 1-2 1 4 1-2 1-1 1 1 1-3 1 3 1 1 1-1 1 2 1 0 1 0 1-1 1 0 1 0 1 1 1 0 1-3 1 1 1-2 1 3 1 0 1 1 1-1 1 0 1 0 1 0 1-1 1 0 1 2 1-3 1 2 1 0 1 1 1-3 1 2 1 1 1 0 1 0 1 0 1-1 1 0 1 1 1 0 1 0 1-1 1 1 1-2 1 0 1 2 1-1 1-4 1 5 1-3 1 3 1-2 1 2 1-3 1 3 1 1 1-2 1 2 1-2 1 0 1 2 1-1 1 0 1 0 1-2 1 1 1 0 1 2 1 0 1-3 1 1 1 1 1 0 1 0 1 0 1 0 1 0 1 0 1 0 1 0 1-2 1 2 1-1 1 1 1-1 1 1 1-1 1 2 1-2 1 2 1-3 1 0 1 2 1-3 1 1 1 2 1 0 1-3 1 1 1 0 1 0 1 2 1-1 1 2 1-1 1 0 1-6 1 6 1 0 1 0 1-2 1 2 1-1 1 2 1-5 1 4 1-1 1 0 1-1 1 0 1 3 1-3 1 1 1 2 1-1 1-2 1 3 1-3 1 2 1-1 1 0 1-1 1 0 1 1 1-4 1 5 1-1 1 0 1 1 1-2 1 3 1-1 1 0 1 1 1-2 1 0 1 2 1-1 1 0 1 0 1-3 1 1 1-2 1 5 1-2 1 1 1-2 1 3 1-2 1 1 1 0 1 0 1-1 1 0 1 0 1 1 1-1 1 0 1-1 1-4 1 6 1-1 1 1 1-2 1 0 1 2 1-1 1 0 1 1 1 0 1-3 1-4 1 5 1 2 1 0 1-3 1 3 1-1 1 0 1 0 1 0 1 0 1 1 1-1 1 1 1-1 1 1 1 0 1-3 1 3 1-4 1 3 1-1 1 0 1 0 1-2 1 2 1 2 1 0 1 0 1-3 1 2 1 0 1-1 1-2 1 1 1 3 1-2 1 0 1 2 1-1 1 1 1-2 1 0 1 1 1-1 1-2 1 2 1 1 1-2 1 2 1 1 1 0 1-2 1-1 1 1 1 1 1 1 1-3 1 2 1-3 1 1 1 1 1-1 1 1 1 1 1-2 1-1 1 2 1-2 1 2 1-5 1 5 1 0 1 0 1-1 1 2 1-1 1 1 1-2 1 1 1 0 1-2 1 3 1 0 1 0 1-2 1 1 1 1 1 0 1 0 1-2 1-4 1 5 1-1 1 2 1-1 1 1 1-2 1 2 1-1 1 0 1-1 1 1 1 1 1-4 1 0 1 4 1-1 1 0 1 1 1-1 1-12 1 11 1 2 1-5 1 3 1 1 1-2 1 0 1 1 1 1 1-1 1 1 1-2 1 1 1 2 1-1 1-1 1 0 1-1 1 2 1 1 1-2 1 0 1-3 1-2 1 6 1-2 1-5 1 5 1 1 1-1 1-2 1-1 1 5 1 0 1-2 1-1 1 3 1 0 1-1 1 0 1-1 1 2 1 0 1 0 1-1 1-1 1 2 1-2 1 2 1 0 1 0 1-4 1 2 1-2 1-1 1 6 1-4 1-1 1 4 1 0 1 0 1 0 1-1 1 1 1 0 1-1 1-3 1 4 1-4 1 1 1 3 1 0 1 0 1 0 1 1 1-2 1 2 1-3 1-2 1 4 1-1 1-2 1 3 1-2 1-4 1 1 1 5 1 0 1-2 1 2 1-9 1 9 1-2 1 2 1 0 1 0 1-5 1 5 1 0 1-3 1-1 1 1 1 4 1 0 1-2 1 0 1 1 1 0 1 0 1-1 1 0 1 0 1 1 1 0 1-1 1 0 1 2 1-3 1 2 1 0 1 0 1 0 1 0 1 1 1-2 1 1 1 0 1 1 1-3 1 3 1-3 1 3 1 0 1-1 1 1 1-2 1 2 1 0 1 0 1-1 1-3 1 4 1 0 1 0 1 0 1-2 1-1 1 1 1-3 1 5 1-2 1 1 1 0 1 1 1 0 1-2 1 1 1-1 1 0 1-1 1 0 1 3 1-3 1 0 1 1 1 2 1-6 1 5 1-5 1 4 1 2 1-1 1-2 1-3 1 6 1-1 1 0 1 0 1 1 1 0 1 0 1-5 1 4 1 2 1-1 1-1 1-1 1 1 1 0 1 1 1-1 1-1 1 3 1 0 1-1 1 0 1 0 1-4 1 5 1 0 1-11 1 10 1 0 1 1 1-7 1 6 1-1 1 1 1-1 1 2 1-2 1 0 1-1 1 1 1 2 1-1 1-1 1 1 1 0 1 0 1 1 1-1 1 1 1-1 1-1 1 0 1 2 1-1 1 1 1-2 1 2 1-1 1-1 1 1 1 1 1-2 1 1 1 0 1 0 1 0 1 1 1 0 1-1 1 1 1-1 1 1 1-3 1 1 1 0 1 1 1 0 1-2 1 2 1-1 1 2 1 0 1 0 1 0 1 0 1-1 1-1 1 0 1 0 1 0 1 2 1 0 1 0 1-3 1 4 1-2 1 2 1-1 1-3 1 1 1 2 1 0 1 0 1 0 1-1 1 1 1-2 1 2 1-1 1 2 1-1 1-1 1 0 1 0 1 0 1 0 1 1 1 1 1-1 1-1 1-1 1 3 1-3 1 1 1 2 1-1 1 0 1 0 1 0 1 1 1-1 1-1 1 2 1 0 1-1 1-1 1 0 1 1 1 0 1-1 1 0 1-1 1-1 1 4 1-1 1-1 1 0 1 1 1 0 1-1 1-2 1 3 1 1 1-1 1 0 1-1 1-2 1 3 1-2 1 3 1 0 1 0 1 0 1-4 1 0 1 4 1-2 1-1 1 0 1 1 1 0 1 0 1 0 1 1 1-1 1 0 1 1 1 0 1-1 1 0 1-3 1 4 1-1 1-2 1 0 1 3 1-1 1 1 1 0 1 0 1 1 1-3 1 1 1-2 1 4 1-1 1-1 1 1 1-1 1 0 1 1 1 0 1-3 1 1 1 2 1-2 1 1 1-1 1 1 1 0 1-1 1-1 1 2 1 1 1-1 1 0 1 1 1-4 1 3 1-2 1 2 1 1 1-1 1 0 1 0 1 0 1-1 1 2 1-1 1-4 1 5 1-1 1 0 1 0 1-3 1 3 1 1 1-4 1 3 1-3 1 0 1 4 1-2 1-1 1 2 1 0 1-2 1 3 1-2 1 0 1 2 1-6 1 5 1-1 1 1 1 0 1 0 1-3 1 2 1 1 1 0 1-1 1-3 1 1 1 3 1-1 1 0 1 1 1 1 1-5 1 2 1-5 1 7 1-3 1 3 1 0 1 0 1-2 1 1 1 0 1 0 1 0 1-1 1 1 1 0 1-1 1 1 1 0 1 1 1-2 1 2 1-3 1 1 1 1 1 0 1-2 1 1 1 0 1 1 1 1 1-2 1 1 1-2 1 1 1 1 1-1 1 1 1-3 1 1 1 1 1-2 1 2 1 2 1 0 1-1 1-1 1 0 1 1 1 0 1-2 1 1 1 1 1-2 1 3 1-1 1-3 1-1 1 4 1-1 1-1 1 2 1 0 1-1 1-2 1 1 1 0 1-2 1 4 1 0 1-1 1 0 1 1 1-6 1 6 1-3 1-3 1 6 1 0 1-5 1-1 1 3 1 1 1 2 1-4 1 2 1 0 1 3 1-2 1-1 1 2 1-3 1-4 1 7 1 0 1-1 1 0 1 0 1-2 1 0 1 0 1 2 1 0 1 0 1 1 1 0 1-3 1 3 1 0 1-3 1 3 1 0 1 0 1-2 1-1 1-1 1 2 1 2 1-2 1 2 1 1 1-2 1-8 1 6 1 3 1 0 1 0 1 1 1-1 1 0 1-1 1-6 1 7 1 0 1 0 1 0 1 0 1 0 1-4 1 3 1 0 1-5 1 5 1-2 1 2 1-4 1 5 1 1 1 0 1-4 1-7 1 9 1 1 1 1 1 0 1-2 1-1 1 0 1 3 1-2 1-1 1 0 1 1 1 2 1-3 1 1 1 1 1 0 1 1 1 0 1-2 1 2 1-2 1 2 1-1 1 0 1-1 1 1 1 1 1-3 1 2 1 0 1-2 1 1 1 1 1-4 1 3 1 1 1-5 1 5 1 0 1 1 1-1 1 0 1-1 1 1 1 1 1 0 1 0 1 0 1-2 1 2 1-1 1-1l0 22l-1 1-1 1-1-1-1-1-1 4-1-1-1-3-1 1-1 1-1-2-1 1-1 0-1-1-1 1-1 1-1-2-1 3-1-2-1 1-1 0-1-2-1 0-1 1-1 0-1 1-1-1-1 1-1-2-1 3-1-2-1 0-1 0-1 0-1 0-1 0-1 1-1-1-1 0-1 1-1 2-1-3-1 1-1-1-1 0-1 1-1-1-1 0-1-1-1 4-1-4-1 1-1 0-1 0-1 1-1-1-1 0-1 5-1-5-1 1-1-1-1 0-1 5-1-4-1-1-1 0-1 2-1 7-1-8-1-1-1-1-1 4-1-2-1 1-1-2-1 0-1 1-1-1-1-1-1 2-1-1-1 5-1-4-1-1-1 0-1 1-1 2-1-2-1-2-1 3-1 0-1-3-1 0-1 1-1 1-1 0-1 6-1-7-1 3-1-1-1-2-1 0-1 0-1 1-1-1-1 2-1-2-1 2-1-1-1-1-1 1-1 2-1-3-1 2-1-3-1 1-1 1-1 0-1-2-1 2-1 0-1-2-1 1-1 3-1-3-1 2-1 0-1-1-1 0-1 1-1 1-1 0-1-1-1 0-1 0-1-1-1 2-1-3-1 1-1-1-1 1-1 1-1-1-1 1-1-2-1 0-1 0-1-1-1 1-1 4-1-4-1 0-1 1-1 0-1 1-1-2-1 1-1-2-1 2-1 0-1-1-1 0-1 1-1-1-1 0-1-1-1 3-1-1-1 0-1 0-1 0-1 1-1-3-1 2-1-2-1 2-1 0-1-2-1 0-1 3-1-1-1 1-1-2-1 0-1 1-1 0-1 0-1-1-1 1-1-1-1-1-1 0-1 2-1 0-1-1-1 0-1 0-1 2-1-1-1-1-1 0-1 0-1-1-1 1-1-1-1 5-1-4-1-1-1 2-1-2-1 1-1 0-1-2-1 1-1 5-1-4-1-1-1 8-1-7-1 0-1-1-1 1-1-1-1 0-1-1-1 4-1-3-1 0-1 0-1 2-1-3-1 2-1 0-1 3-1-3-1 2-1-1-1-1-1-2-1 3-1-3-1 1-1 0-1 1-1 0-1-2-1 1-1-1-1 3-1-3-1 1-1-1-1 1-1 2-1-3-1 0-1 0-1 2-1-2-1 0-1 1-1-1-1 2-1-2-1 0-1 1-1 0-1 0-1-1-1 0-1 0-1 6-1-4-1-2-1 2-1-2-1 1-1 3-1-4-1 3-1-2-1-1-1 0-1 1-1 1-1-2-1 0-1 3-1-3-1 0-1 1-1 0-1 0-1 0-1-1-1 1-1-1-1-1-1 1-1-1-1 2-1-2-1 0-1 2-1 0-1-1-1 0-1-1-1 2-1-2-1 1-1 2-1 0-1-3-1 2-1-1-1 0-1 0-1 1-1 0-1 1-1-3-1 1-1-1-1 1-1-1-1 2-1-1-1 2-1 0-1 1-1 1-1-3-1 1-1-2-1 0-1-1-1 1-1 1-1 1-1-2-1 1-1 0-1 2-1-2-1 5-1-6-1 0-1 0-1-1-1 1-1 0-1-1-1 1-1 0-1 1-1 0-1-1-1 0-1-1-1 3-1-1-1-1-1 2-1-2-1 2-1-1-1 2-1-2-1-2-1 1-1 0-1 2-1-2-1 3-1-1-1-1-1-2-1 1-1 0-1 1-1 0-1-1-1 2-1-2-1 0-1 2-1 1-1-2-1 0-1 0-1 2-1-1-1-1-1 0-1-1-1 2-1-2-1 3-1-2-1 0-1-1-1 1-1 0-1 0-1-1-1 0-1 0-1 1-1-1-1 1-1-1-1 3-1-2-1 0-1 0-1-1-1 2-1 0-1-1-1-1-1 1-1-1-1 1-1 3-1-3-1 0-1 0-1 1-1-2-1 1-1 0-1 0-1-1-1 1-1 1-1 1-1 0-1 0-1-2-1-1-1 0-1 5-1-2-1-1-1 0-1 0-1 3-1 2-1-7-1 1-1 0-1 1-1-1-1-1-1 3-1-2-1 0-1 0-1 0-1 1-1-1-1 2-1 2-1-3-1 0-1 3-1-3-1 0-1 0-1 1-1-1-1 5-1-7-1 3-1 1-1-1-1 5-1-6-1 2-1-3-1 0-1 3-1-3-1 0-1 2-1-2-1 0-1 0-1 5-1-3-1 4-1-5-1 0-1 0-1-1-1 1-1 0-1 0-1 0-1 0-1 1-1 0-1-2-1 0-1 2-1-1-1 1-1-2-1 2-1-2-1 0-1 1-1 0-1-1-1 0-1 4-1-3-1 1-1-1-1 2-1-2-1 1-1 1-1-2-1 2-1-1-1-2-1 1-1 1-1-1-1 0-1 3-1 0-1 0-1 0-1-2-1 0-1 3-1-3-1-2-1 4-1-1-1 1-1-2-1 1-1-3-1 1-1 0-1 4-1-2-1-2-1 3-1-3-1 3-1-2-1-1-1-1-1 1-1 0-1 2-1-3-1 0-1 5-1-5-1 2-1 0-1 0-1 1-1-1-1 0-1-2-1 1-1 0-1 3-1-3-1 1-1-1-1 0-1 4-1-4-1 2-1-1-1 0-1 2-1 0-1-1-1 1-1-1-1-2-1 0-1 3-1-1-1-2-1 1-1-1-1 2-1-3-1 2-1-1-1 1-1-1-1 1-1 1-1 3-1-2-1-2-1-1-1 3-1-3-1 0-1 4-1-4-1 2-1-2-1 3-1-2-1-1-1-1-1 2-1 0-1 2-1-3-1 2-1-2-1 2-1-1-1-1-1 0-1 1-1 2-1 0-1-2-1-1-1 2-1-1-1 1-1-1-1-1-1 1-1-1-1 1-1-2-1 1-1 0-1 2-1-2-1 4-1-3-1 3-1-3-1 0-1 1-1-3-1 1-1 5-1-5-1-1-1 0-1 2-1 1-1-2-1 0-1 1-1-1-1 0-1 2-1-2-1-1-1 5-1-1-1-2-1 1-1-2-1 1-1 1-1-3-1 0-1 0-1 0-1 2-1-1-1-1-1 0-1 4-1 1-1-5-1 1-1 3-1-1-1-3-1 1-1 2-1-2-1 0-1 2-1-3-1 0-1 2-1-2-1 2-1 0-1-1-1 0-1 0-1-2-1 2-1-1-1 0-1 0-1 3-1-2-1 0-1-1-1 3-1-3-1 0-1 1-1 1-1-1-1-2-1 1-1 4-1-2-1-3-1 2-1-1-1 2-1-3-1 1-1 0-1 2-1-1-1 0-1-2-1 2-1-2-1 2-1 2-1-1-1-3-1 0-1 1-1 0-1 0-1 2-1-3-1 9-1-9-1 1-1 0-1 0-1 1-1-2-1 1-1 1-1-2-1 0-1 1-1 0-1-1-1 1-1-1-1 2-1-2-1 0-1 3-1-2-1-1-1 0-1 1-1-1-1 1-1 2-1-3-1 2-1 4-1-5-1-1-1 0-1 5-1-4-1 1-1 1-1-2-1-1-1 1-1 0-1 0-1 3-1-3-1-2-1 1-1 1-1-1-1 2-1-1-1-1-1 2-1-2-1-1-1 1-1 1-1 0-1-2-1 1-1 1-1-2-1 3-1-2-1 2-1-2-1 2-1-2-1 0-1 3-1-2-1-1-1 3-1-4-1 1-1 0-1 0-1-1-1 2-1-2-1 2-1-1-1 0-1 0-1 1-1 0-1 0-1 1-1-1-1 0-1-1-1 0-1-1-1 1-1-1-1 1-1 0-1 1-1 1-1-1-1-2-1 1-1-1-1 1-1 2-1-3-1 0-1 2-1-1-1 1-1 0-1-1-1 0-1-1-1 1-1 1-1 0-1 1-1 0-1-2-1 0-1 1-1 3-1-4-1-1-1 1-1 0-1 0-1 2-1-1-1-1-1 0-1 0-1 2-1-2-1 0-1 2-1-1-1-1-1 1-1-1-1 3-1-2-1-2-1 2-1-1-1 0-1 0-1 2-1 1-1-3-1 2-1 0-1 0-1 0-1-1-1 0-1-1-1 0-1 1-1 1-1-2-1 0-1 1-1 0-1 0-1-1-1 0-1 1-1-1-1 2-1-2-1 1-1-1-1 1-1-1-1 2-1 0-1 2-1-2-1-1-1 0-1 2-1-2-1 0-1 3-1-2-1-1-1-1-1 1-1 0-1-1-1 5-1-3-1-1-1 1-1 2-1-3-1 1-1-1-1 1-1-1-1 0-1 0-1 4-1-4-1 1-1 1-1 1-1-2-1 1-1-1-1 0-1-1-1-1-1 4-1-1-1-1-1-1-1 2-1-2-1 1-1 1-1 0-1-2-1 1-1 0-1 0-1-1-1 1-1 0-1 0-1 0-1 0-1-1-1 0-1 0-1 0-1 6-1-4-1-2-1 1-1 1-1 2-1-3-1 2-1 2-1-3-1 0-1 1-1-3-1 0-1 1-1 0-1 0-1 0-1 1-1-1-1 0-1 3-1-3-1-1-1 1-1 2-1 0-1 2-1-2-1-2-1 0-1 1-1-2-1 2-1 2-1-2-1 1-1 2-1-3-1 1-1-1-1 0-1 0-1-2-1 1-1 1-1 6-1-7-1 0-1 0-1 5-1-3-1-1-1 0-1-1-1 1-1 0-1 2-1-2-1-2-1 4-1-3-1 6-1-7-1 3-1-1-1 0-1 1-1-1-1-1-1 2-1-1-1-1-1 3-1-3-1 2-1 0-1-1-1 4-1-5-1 4-1-1-1 0-1-2-1-1-1 1-1-1-1 3-1-2-1 1-1 0-1-2-1 1-1 0-1 2-1-4-1 2-1 1-1-2-1 1-1 1-1-1-1-1-1 1-1 5-1-1-1 0-1-5-1-1-1 3-1 0-1-2-1 1-1-1-1 1-1 1-1-1-1-1-1 0-1 0-1 2-1 0-1-3-1 7-1-5-1 3-1-4-1 4-1-1-1-1-1-1-1 1-1 0-1-3-1 2-1 2-1-3-1 0-1 3-1 0-1-2-1 1-1-3-1 2-1-1-1-1-1 5-1-5-1 2-1 2-1-3-1 0-1 0-1 0-1 0-1 0-1 0-1 0-1 1-1 0-1-1-1 0-1 0-1 0-1 1-1-1-1 0-1 4-1-4-1 0-1 2-1-2-1-1-1 1-1 3-1-3-1 0-1 0-1-1-1 1-1 1-1-2-1 1-1 1-1-2-1 1-1 4-1-5-1 0-1 0-1 0-1 4-1-3-1 1-1-2-1 2-1-1-1 0-1 0-1-1-1 2-1 0-1-1-1-2-1 7-1-5-1 1-1-3-1 2-1 2-1-1-1-2-1 5-1-4-1 3-1 0-1-4-1 0-1 3-1-3-1 2-1-1-1 2-1-2-1 0-1 1-1-1-1 2-1-1-1-3-1 3-1-1-1-2-1 1-1-1-1 1-1 2-1-2-1 2-1-2-1 0-1 1-1-1-1 2-1-2-1 2-1 3-1-4-1-2-1 4-1-3-1-1-1 1-1 0-1-1-1 2-1-1-1 0-1-1-1 2-1 0-1 1-1-2-1-1-1 1-1 0-1 0-1-1-1 1-1 0-1 0-1 1-1 2-1-4-1 1-1-1-1 3-1-1-1 2-1-4-1 0-1 1-1 0-1-1-1 0-1 2-1-2-1 0-1 1-1 0-1-1-1 1-1-1-1-1-1 5-1-2-1-2-1 1-1-1-1-1-1 2-1 0-1 0-1-1-1 1-1 1-1 0-1-2-1 1-1 0-1-1-1 2-1 0-1 0-1 0-1-2-1 1-1 0-1-1-1 3-1-4-1 1-1 1-1-2-1 2-1-1-1-1-1 2-1 0-1-1-1 0-1-1-1 4-1-2-1-2-1 2-1 0-1-2-1 2-1 0-1 0-1-2-1 1-1-1-1 1-1 0-1 0-1 0-1 0-1 0-1-1-1 1-1 1-1-1-1-1-1 2-1-1-1 0-1-1-1 0-1 0-1 0-1 1-1 1-1 0-1 0-1-1-1 3-1-4-1 1-1 0-1 1-1-2-1 1-1 2-1 1-1-2-1 0-1-1-1-1-1 3-1-2-1-1-1 3-1-1-1-1-1 0-1 0-1 2-1-3-1 5-1-2-1-2-1 1-1 1-1-3-1 1-1 0-1-1-1 1-1 1-1-1-1 2-1-1-1-1-1 0-1 0-1 0-1 1-1-1-1 3-1-3-1 1-1-1-1 1-1 1-1-2-1 1-1 0-1 1-1-2-1 0-1 0-1 2-1-2-1 2-1 0-1-2-1 1-1-1-1 0-1 2-1-2-1 3-1-1-1-2-1 0-1 4-1-1-1 0-1-3-1 1-1 2-1 2-1-4-1-1-1 2-1-2-1 0-1 1-1 4-1-4-1 1-1-2-1 3-1 1-1-2-1-1-1 6-1-5-1 1-1-3-1 3-1 0-1-3-1 1-1-1-1 2-1-1-1 0-1-1-1 2-1 0-1 1-1 0-1-1-1 1z"/>
<path id="n3" d="M0-10l1 0 1 1 1-1 1 0 1-1 1 2 1 0 1-3 1 2 1-1 1 1 1 1 1 0 1-1 1-2 1 4 1-1 1 0 1 1 1-2 1 1 1 1 1-3 1 2 1 0 1-3 1 3 1 1 1-3 1 0 1-1 1 3 1 1 1-2 1 2 1-1 1 0 1-1 1 1 1-1 1 0 1 2 1-1 1-3 1 2 1 0 1-2 1 3 1-1 1 0 1-2 1 3 1-2 1 2 1-1 1 1 1-8 1 6 1 2 1-2 1 1 1 0 1-3 1 4 1-1 1 0 1-1 1-1 1 2 1-1 1-3 1 3 1 2 1-1 1 0 1 0 1 1 1-4 1 3 1 0 1 0 1-2 1 2 1-2 1 2 1 1 1-3 1 1 1 1 1 0 1-3 1 3 1-1 1 1 1-2 1 1 1 0 1 1 1-4 1 1 1 2 1-1 1 2 1-2 1 2 1 0 1-1 1-1 1 1 1-2 1 3 1-4 1 3 1-3 1 1 1 1 1 2 1 0 1 0 1-3 1 0 1 1 1-1 1 2 1-1 1 0 1 1 1-2 1 0 1 2 1-1 1-8 1 9 1-1 1 1 1 0 1 0 1 1 1-1 1-1 1-1 1 2 1 0 1 0 1-4 1 2 1 0 1-2 1 4 1-1 1-2 1 3 1 0 1 0 1-2 1 2 1 1 1-3 1-1 1 3 1 0 1 0 1-2 1 1 1 0 1 0 1-1 1 2 1-1 1-4 1 6 1-1 1-1 1 0 1 2 1-1 1 1 1-1 1 0 1 0 1 0 1-3 1 4 1-1 1-1 1 1 1 1 1-1 1 0 1-2 1 2 1 0 1-3 1 3 1-2 1 3 1-1 1 0 1-1 1 1 1 1 1 0 1-3 1 3 1-2 1 2 1 0 1 0 1-2 1-1 1-1 1-1 1 4 1 1 1 0 1-1 1 2 1 0 1-1 1-2 1 0 1 0 1 3 1-2 1 0 1 1 1 1 1-1 1 1 1-2 1 2 1-2 1 0 1 1 1-2 1 1 1-2 1 3 1 1 1-1 1 1 1-1 1 1 1-2 1 2 1-1 1 2 1-1 1 0 1 0 1 1 1-2 1 1 1 0 1-2 1 1 1 1 1 0 1-1 1 1 1 0 1 1 1-3 1 2 1 0 1 1 1-1 1-1 1 0 1 0 1 0 1 0 1-1 1 2 1 0 1 1 1-3 1-1 1 2 1 0 1 0 1 0 1 2 1-2 1 1 1-2 1 1 1 1 1 1 1-1 1-1 1 1 1 0 1 1 1-1 1-1 1 0 1-4 1 3 1 2 1-2 1 2 1-1 1 0 1 0 1 0 1 0 1 0 1 0 1-1 1 0 1-1 1 3 1-1 1 0 1 1 1-1 1 1 1 0 1-2 1 2 1-2 1 1 1-1 1 1 1 0 1-2 1 1 1 0 1 1 1-2 1 0 1 1 1-2 1 3 1-1 1-2 1 3 1-11 1 12 1-3 1 1 1 1 1 0 1 0 1-1 1 0 1-2 1 3 1 0 1-3 1-2 1 3 1 1 1-4 1 4 1 1 1-3 1 3 1-1 1-2 1-2 1 5 1-2 1 1 1-3 1-1 1 4 1 1 1 0 1-2 1 2 1 0 1-1 1-2 1-1 1 2 1 1 1-1 1 1 1-1 1 1 1-1 1-1 1 2 1-1 1 1 1-1 1 0 1 0 1-2 1 1 1 3 1 0 1-5 1 5 1-2 1 0 1-1 1-3 1 3 1-1 1 3 1 0 1 0 1-2 1-1 1 0 1 2 1-1 1 3 1-2 1 1 1-1 1-2 1 0 1 4 1-1 1-2 1-1 1 2 1 1 1-1 1 0 1 2 1-2 1-1 1 0 1 3 1-2 1 0 1-1 1 2 1-1 1 0 1 0 1 2 1-4 1 2 1 0 1 1 1-2 1-2 1 5 1 0 1-2 1 0 1 0 1 1 1 0 1 0 1 1 1-4 1 4 1 0 1 0 1-2 1-1 1 3 1-1 1-1 1 0 1-2 1 4 1-1 1 1 1 0 1-1 1 1 1-1 1 2 1 0 1-2 1 2 1-1 1 1 1-2 1 0 1 0 1 1 1 1 1-3 1 3 1-2 1 1 1 0 1 0 1 1 1 0 1-2 1 2 1-1 1-2 1 3 1 0 1 0 1 0 1 0 1 0 1 0 1-2 1 0 1 1 1-1 1 2 1 0 1-1 1 0 1 0 1-1 1 3 1-2 1-1 1 1 1 2 1-1 1-2 1 1 1 1 1 0 1-1 1 0 1 0 1 0 1 1 1 1 1-3 1 3 1-1 1-1 1 2 1-1 1-1 1-6 1 7 1-4 1 2 1 2 1-1 1 1 1 0 1-1 1 1 1-1 1 1 1 0 1 0 1 1 1-1 1-1 1 1 1 0 1-1 1 0 1 2 1-3 1 1 1 1 1-2 1 2 1-2 1 2 1-1 1 0 1-2 1 2 1 0 1 0 1-5 1 5 1 0 1-1 1-1 1 1 1 2 1-2 1 2 1-1 1 0 1 0 1-1 1-3 1 4 1 0 1-1 1-2 1 0 1 3 1-2 1 0 1 3 1-2 1 1 1-2 1-4 1 3 1 2 1 2 1-3 1 2 1-3 1 3 1-1 1 0 1-3 1 4 1-1 1-1 1 0 1 0 1 1 1 1 1-3 1 3 1 0 1-1 1-1 1 1 1-1 1-1 1 0 1 1 1 1 1 0 1-2 1-3 1 5 1 0 1 0 1-1 1 0 1 1 1-1 1 0 1-2 1 2 1 1 1 0 1-1 1 1 1-1 1-2 1 2 1 0 1 0 1-2 1 3 1-1 1 1 1 0 1-2 1-3 1 4 1 0 1 0 1 0 1 1 1 0 1-1 1 0 1 0 1 1 1 0 1 0 1 0 1-1 1 0 1 0 1 1 1-3 1 3 1-3 1 2 1 1 1 0 1 1 1-1 1-1 1 1 1 0 1-3 1 1 1-1 1 4 1 0 1-5 1 3 1-1 1 2 1 0 1 0 1 1 1-1 1-1 1-1 1 2 1-1 1 0 1-1 1 3 1-1 1-2 1 1 1 1 1 0 1 1 1-2 1-1 1 3 1-1 1 1 1-3 1 2 1 0 1 0 1-3 1 2 1 2 1-1 1 0 1 0 1 0 1 1 1 1 1-3 1 2 1 0 1 0 1 0 1-1 1 1 1-4 1 3 1-6 1 8 1-1 1-2 1 3 1-2 1 2 1-2 1 0 1 2 1 0 1-2 1 2 1 0 1-1 1 1 1-3 1 1 1 2 1-1 1 0 1 1 1 0 1 0 1-1 1 1 1-1 1 2 1-1 1 0 1 0 1-1 1 1 1 1 1-9 1 7 1 1 1 1 1 0 1-2 1 0 1 0 1 1 1 0 1 0 1 1 1-3 1 0 1 2 1 1 1-4 1 4 1-1 1 0 1 0 1 0 1-1 1-1 1 2 1-1 1 0 1-1 1 1 1 0 1 1 1 0 1-1 1 1 1-1 1 1 1 0 1 0 1 0 1 0 1-2 1 2 1-2 1 0 1 1 1 1 1 0 1-1 1 1 1-2 1 2 1-1 1 2 1-1 1-1 1 0 1 0 1-2 1 1 1 2 1 0 1-2 1-2 1 3 1 0 1 0 1 1 1-2 1 1 1 1 1-1 1-2 1 2 1 1 1-1 1 0 1-2 1-1 1-1 1 4 1-1 1 0 1 0 1 2 1 0 1-4 1 1 1 0 1 2 1 1 1-2 1 1 1-1 1-2 1 1 1-2 1 3 1-1 1 1 1-2 1 2 1 0 1 0 1 1 1-1 1-1 1 1 1 1 1-1 1-1 1 1 1-1 1 2 1 0 1-2 1 0 1 1 1-7 1 5 1 1 1-2 1 4 1-2 1-1 1 2 1 0 1-2 1 0 1 1 1 0 1 1 1 0 1 0 1 1 1-1 1-3 1 3 1 0 1 0 1 0 1 0 1 0 1 0 1-2 1-1 1 0 1 3 1-1 1 0 1 1 1 0 1 0 1 0 1 1 1-1 1 0 1-1 1 0 1 0 1 1 1 0 1 0 1 0 1 0 1-1 1 1 1-1 1 0 1 2 1-1 1 0 1-1 1-1 1 2 1 1 1-1 1-1 1 0 1 1 1 1 1-1 1-2 1-1 1 2 1 1 1-1 1 1 1 1 1 0 1-4 1 3 1 0 1-1 1 1 1 1 1 0 1 0 1 0 1 0 1-1 1-1 1 2 1-2 1 1 1 0 1 0 1 0 1 0 1 0 1 2 1-1 1-1 1 1 1 0 1-3 1 1 1-2 1 5 1-5 1 4 1 0 1 1 1-1 1 0 1-1 1 1 1 0 1 0 1 1 1-1 1 1 1-2 1 2 1-2 1 2 1 0 1-3 1-1 1 3 1 1 1-3 1 1 1-1 1 3 1 0 1-3 1 2 1-1 1 1 1-4 1 5 1 0 1-2 1 2 1 0 1-2 1 3 1-2 1 1 1-1 1-1 1 3 1-2 1 0 1-2 1 4 1-3 1 1 1 0 1 2 1-7 1 3 1-2 1 3 1 0 1-7 1 8 1 1 1-1 1-1 1 3 1-2 1 1 1-2 1-3 1 6 1-2 1 1 1 0 1-3 1 3 1-3 1 2 1-3 1 2 1 2 1 0 1-2 1 3 1-4 1 1 1 0 1 0 1 0 1 2 1 0 1 0 1 0 1 0 1 0 1-1 1-2 1 2 1 0 1 0 1 1 1 0 1-2 1 1 1-3 1 3 1 0 1 1 1 0 1-1 1 0 1 0 1 0 1-1 1 1 1 1 1-1 1-1 1 1 1 0 1-1 1 1 1 0 1 1 1-2 1 1 1 0 1 0 1-7 1 6 1 1 1 0 1 0 1-2 1 2 1-3 1 3 1-1 1-1 1 1 1 0 1-1 1 1 1-2 1 1 1 1 1 1 1 0 1 0 1-4 1 3 1-5 1 6 1-2 1 0 1 1 1 0 1 1 1-1 1-1 1 1 1 1 1 0 1 0 1-1 1 0 1-2 1-1 1 1 1 1 1 0 1 0 1-1 1 2 1 0 1 1 1-2 1 0 1 0 1-3 1 3 1-5 1-1 1 8 1-3 1 1 1 0 1-1 1 2 1-2 1 0 1 1 1 0 1 0 1 1 1-2 1 2 1-4 1 3 1 1 1-2 1 0 1 1 1 0 1 0 1 1 1 1 1-3 1 3 1-1 1-2 1 0 1 1 1 1 1-1 1 2 1-4 1 3 1-1 1-2 1 4 1-2 1 1 1 0 1 0 1 1 1-1 1 1 1-1 1-1 1 1 1-1 1 2 1-2 1 2 1 0 1-1 1 0 1 0 1 1 1 0 1-1 1 0 1 2 1-8 1 5 1 1 1-2 1 3 1 1 1-3 1 2 1-1 1 0 1 1 1 0 1-1 1 0 1 0 1-1 1 3 1-3 1 2 1-2 1 3 1-2 1 1 1-3 1 2 1-1 1-2 1 0 1 5 1-2 1 2 1-3 1 2 1 1 1-1 1-3 1 3 1 0 1-1 1 2 1-1 1 1 1-1 1 0 1 0 1 1 1-1 1 1 1 1 1-3 1 1 1 0 1-1 1 1 1-1 1 0 1 2 1 0 1-6 1 5 1 1 1 0 1-1 1 1 1 0 1-1 1 1 1 0 1-2 1 1 1 1 1-5 1 5 1 0 1-4 1 4 1 1 1-2 1-2 1 3 1 0 1-1 1 1 1-2 1 2 1 0 1-3 1 3 1 0 1 0 1 0 1 1 1-1 1 0 1-1 1 1 1 0 1-2 1 2 1-2 1 2 1 0 1-1 1-1 1 2 1-1 1 0 1 1 1 0 1-1 1 1 1-5 1 3 1 2 1-1 1 1 1 0 1 0 1 0 1 0 1 0 1-1 1-4 1 3 1 1 1-1 1 0 1 2 1-1 1 0 1 0 1-2 1 3 1-2 1-1 1-1 1 3 1-3 1 3 1-1 1-1 1 1 1 1 1 1 1-2 1 1 1-3 1 1 1 2 1-2 1 2 1-1 1-3 1 3 1 0 1 1 1 0 1 0 1-1 1 0 1-3 1 2 1 1 1-1 1 0 1 2 1-8 1 6 1-1 1 3 1-1 1 1 1-2 1 0 1-2 1 3 1 0 1-1 1 1 1-3 1 3 1 0 1-2 1 1 1 0 1 0 1 1 1-1 1 2 1 0 1-1 1-1 1 2 1-2 1 1 1 0 1 0 1 1 1-4 1-2 1 1 1 3 1 0 1-9 1 10 1 0 1 1 1-2 1 0 1 0 1 1 1-2 1 0 1-1 1 3 1-1 1 0 1 0 1 1 1-1 1 0 1 2 1-1 1-1 1 0 1-3 1 4 1-1 1 0 1 0 1-1 1 0 1 3 1-2l0 27l-1-2-1 3-1-6-1 1-1 3-1-4-1 3-1 0-1 4-1-6-1 1-1 0-1-1-1-1-1 1-1-1-1 1-1 3-1-1-1-1-1-1-1 0-1 1-1-1-1 2-1-2-1 0-1 0-1 3-1-3-1 4-1-4-1 0-1 2-1-1-1-2-1 1-1 0-1 1-1 0-1 1-1-2-1 0-1 1-1-1-1 0-1 0-1 0-1 0-1-1-1 2-1-1-1 6-1-5-1-1-1-1-1 0-1 2-1-2-1 1-1 7-1-6-1-2-1 3-1-3-1 1-1-1-1 2-1 0-1-2-1 5-1 2-1-6-1 1-1-2-1 3-1 5-1-5-1-3-1 2-1-2-1 3-1-2-1-1-1 0-1 2-1-1-1 3-1-2-1-2-1-1-1 2-1-1-1 0-1-1-1 5-1-4-1 2-1-1-1-2-1 2-1-2-1 0-1 3-1-3-1 4-1-4-1 0-1 0-1 2-1-2-1 1-1 2-1-2-1 2-1-1-1 0-1-2-1 0-1 0-1 2-1-2-1 2-1-2-1 1-1 0-1-1-1 1-1 1-1-2-1 0-1 0-1 0-1 1-1-1-1 2-1-2-1 0-1 0-1 0-1 1-1 0-1-1-1 3-1-2-1-1-1 0-1 2-1-1-1-1-1 2-1-2-1 1-1-1-1 1-1-2-1 1-1 1-1-1-1 1-1 0-1 0-1 1-1-1-1-2-1 2-1-1-1 2-1-1-1-2-1 2-1-1-1 0-1-1-1 2-1 0-1 0-1 1-1-1-1 0-1-1-1 1-1-2-1 6-1-5-1 0-1-1-1 2-1 1-1-2-1 3-1-3-1 0-1 1-1 0-1 5-1-5-1-1-1 0-1 2-1-1-1 0-1 2-1-3-1 1-1 0-1 1-1-1-1 0-1 1-1 1-1-2-1 0-1 0-1 1-1-1-1 1-1-1-1 0-1 0-1 1-1 0-1-1-1 3-1-1-1-3-1 3-1-1-1 1-1 1-1-4-1 3-1-1-1 1-1 0-1-1-1-1-1 1-1 4-1-4-1-1-1 3-1-2-1 1-1-2-1 0-1 3-1-3-1 2-1 0-1-2-1 1-1 0-1 1-1-2-1 4-1-4-1 1-1 1-1-1-1-1-1 0-1 1-1 2-1 0-1-1-1-1-1 0-1 1-1-1-1 2-1-1-1-1-1 0-1 0-1 1-1-1-1 1-1-1-1 1-1-1-1 1-1-1-1 1-1 0-1 1-1 0-1-2-1 3-1-4-1 1-1 4-1-3-1-1-1 0-1-1-1 2-1 5-1-6-1 1-1-1-1 1-1-1-1-1-1 1-1 0-1 0-1-1-1 3-1-2-1 0-1 1-1 2-1-1-1 0-1-2-1 0-1 1-1 1-1-3-1 5-1-5-1 2-1 0-1-2-1 1-1 1-1 0-1 0-1-2-1 1-1-1-1 1-1 0-1 3-1-3-1 0-1 0-1 0-1-1-1 4-1-4-1 0-1 1-1-1-1 0-1 7-1-7-1 0-1 0-1 1-1-1-1 0-1 3-1-3-1-1-1 2-1-1-1 0-1 2-1-3-1 0-1 1-1 0-1 0-1 1-1-1-1-1-1 2-1 0-1-2-1 0-1 2-1 0-1 0-1 1-1-3-1 0-1 4-1-1-1-3-1 3-1-3-1 0-1 0-1 3-1-1-1-1-1 2-1-1-1-2-1 1-1-1-1 1-1-1-1 0-1 0-1 3-1-2-1-1-1 0-1 0-1 2-1-1-1-1-1 0-1 2-1-2-1 1-1 1-1 0-1-1-1-1-1 0-1-1-1 3-1-2-1 3-1-3-1 3-1-3-1-1-1 0-1 1-1-1-1 9-1-9-1 1-1 1-1-2-1 1-1 2-1-2-1 1-1-1-1 2-1 0-1-2-1 0-1 0-1-1-1 1-1 0-1 1-1-2-1 1-1 1-1 0-1 1-1-1-1-1-1 1-1-1-1 0-1 2-1-1-1-1-1 2-1-2-1 3-1 0-1-3-1 3-1-1-1-2-1 1-1 0-1 0-1 3-1-4-1 0-1 1-1-1-1 1-1 0-1 0-1 0-1-1-1 1-1 0-1 2-1-2-1 0-1 0-1 0-1 1-1-1-1 2-1-1-1 3-1-4-1 3-1-3-1 0-1 0-1 1-1 0-1 2-1-2-1 5-1-6-1 2-1 2-1-3-1 0-1-1-1 0-1 2-1-1-1-1-1 3-1-3-1 1-1 0-1-1-1 2-1-1-1-1-1 1-1-1-1 4-1-3-1 1-1-1-1 1-1-1-1 1-1-2-1 1-1 2-1-2-1 3-1-2-1 0-1 1-1-1-1 1-1-1-1 0-1-1-1 3-1 0-1-3-1 0-1 0-1 1-1 2-1-2-1-1-1 1-1 0-1 2-1-2-1-1-1 6-1-1-1-4-1 0-1 0-1 1-1-3-1 3-1-2-1 5-1-2-1-3-1-1-1 0-1 1-1 0-1 1-1-2-1 2-1-1-1 2-1-3-1 1-1 0-1 0-1-1-1 0-1 1-1 2-1-1-1-1-1 4-1-2-1-3-1 3-1-1-1-2-1 1-1-1-1 1-1-1-1 4-1-4-1 0-1 0-1 4-1-3-1 0-1 0-1-1-1 1-1 0-1-1-1 0-1 0-1 0-1 1-1 1-1-2-1 1-1-1-1 1-1-1-1-1-1 4-1-3-1 1-1-1-1 0-1-1-1 1-1 3-1-3-1-1-1 2-1-1-1-1-1 1-1 0-1-1-1 1-1 0-1 0-1 0-1 4-1-5-1 0-1 1-1 1-1-1-1 4-1-3-1-3-1 3-1-2-1 2-1-3-1 2-1 2-1-4-1 1-1 1-1-1-1 2-1-3-1 0-1 2-1-1-1 1-1 0-1-1-1 0-1 0-1 1-1 0-1-1-1 1-1-2-1 2-1-2-1 1-1-1-1 1-1 2-1-3-1 2-1-2-1 1-1 0-1 1-1-1-1 1-1 0-1-1-1-1-1 1-1 0-1 0-1 3-1 1-1-4-1 0-1 1-1 0-1 2-1 0-1-3-1 2-1 0-1 0-1-2-1 1-1 1-1-2-1 0-1 0-1 1-1 1-1 1-1-2-1-1-1 0-1 2-1 0-1-2-1 1-1 2-1-2-1 2-1-1-1-2-1 1-1-1-1 3-1-2-1 2-1-3-1 1-1 0-1 2-1-1-1-1-1 1-1-1-1 1-1-1-1 0-1 0-1 0-1 0-1 1-1 7-1-6-1 0-1-2-1 0-1 3-1-3-1 2-1 1-1-1-1 0-1 4-1-6-1 3-1-3-1 3-1-2-1 1-1 0-1-2-1 4-1-1-1 0-1-3-1 1-1 0-1-1-1 2-1 1-1-3-1 3-1-1-1-1-1 2-1 0-1-1-1-1-1 1-1-1-1 1-1 4-1-2-1-2-1 0-1 2-1-3-1 0-1 0-1 6-1-4-1-1-1 0-1 3-1-4-1 3-1-1-1-1-1 0-1-1-1 1-1 0-1-1-1 3-1-1-1-1-1 0-1-2-1 1-1 1-1-1-1 1-1-1-1 1-1 3-1 1-1-3-1-1-1-1-1 2-1 1-1 1-1-4-1 3-1-4-1 1-1 0-1 2-1 0-1-3-1 0-1 2-1 1-1 0-1 1-1-4-1 1-1-1-1 2-1-1-1 4-1-4-1 0-1-1-1 1-1-1-1 4-1-4-1 2-1 4-1-6-1 0-1 1-1-1-1 2-1-1-1-1-1-1-1 2-1 1-1 0-1-1-1 1-1-2-1 0-1-1-1 2-1 0-1 2-1-3-1-1-1 4-1 0-1-4-1 5-1-5-1 0-1 1-1 1-1-2-1 0-1 1-1 6-1-5-1-2-1 2-1 1-1 0-1-3-1 0-1 2-1 1-1-2-1 1-1-2-1 0-1 2-1-2-1 2-1 0-1-1-1-1-1 1-1-1-1 1-1 0-1-1-1 2-1-2-1 3-1-4-1 3-1-2-1 0-1 1-1 0-1 5-1-2-1-3-1-2-1 4-1-2-1-1-1-1-1 3-1-3-1 2-1 0-1-1-1 0-1 0-1 1-1-1-1 3-1-4-1 3-1-2-1 1-1 4-1-1-1-2-1-2-1 1-1 0-1-1-1 2-1 0-1-2-1-1-1 0-1 5-1-3-1 0-1 2-1-2-1-1-1 0-1 2-1-1-1 0-1-1-1 3-1-3-1 0-1 3-1-2-1-1-1 3-1 1-1-2-1-1-1-1-1 0-1 0-1 0-1 1-1 1-1 0-1 0-1-1-1-1-1 1-1 0-1 1-1 1-1-2-1 0-1 2-1 0-1 0-1-1-1 1-1-2-1 2-1-3-1 2-1 1-1-2-1 1-1-1-1 0-1 0-1 1-1-1-1 1-1 0-1 0-1 0-1 0-1 6-1-6-1 0-1 0-1-1-1 0-1 2-1 0-1-2-1 6-1-4-1 1-1-2-1-1-1 1-1-1-1 1-1-1-1 1-1 1-1-2-1 3-1-3-1 1-1 0-1 0-1 1-1 1-1 0-1 2-1 0-1-3-1 0-1 0-1 0-1-1-1 2-1 0-1-1-1 2-1-1-1-2-1 2-1 1-1-3-1 1-1 3-1-1-1-2-1-1-1 3-1-3-1 1-1 8-1-10-1 2-1 2-1-3-1 0-1 0-1 1-1 0-1 1-1-2-1 0-1 0-1 1-1-1-1 0-1 9-1-10-1 1-1 3-1-2-1 0-1-1-1-1-1 0-1 2-1-1-1 0-1 1-1-1-1 1-1-1-1 0-1 0-1 2-1 0-1-1-1 0-1-1-1-1-1 3-1 2-1-2-1-2-1 2-1-2-1 1-1 1-1-3-1 1-1-1-1 2-1-2-1 2-1 2-1-3-1-1-1 0-1 0-1 0-1-1-1 1-1-1-1 1-1 0-1-1-1 0-1 1-1 0-1 1-1-2-1 1-1 0-1-1-1 1-1 0-1 0-1 0-1 1-1-1-1-1-1 1-1-1-1 3-1-3-1 0-1 4-1 0-1-4-1 0-1 1-1 0-1-1-1 0-1 1-1-1-1-1-1 1-1 1-1-2-1 0-1 2-1-1-1 0-1 2-1-2-1 3-1-4-1 2-1 0-1 0-1-2-1 1-1 0-1 0-1 1-1 0-1-1-1 1-1 0-1-1-1 0-1 0-1 0-1 0-1 4-1-4-1-1-1 3-1-1-1-1-1 0-1-1-1 2-1-1-1 0-1 0-1 4-1-2-1-1-1-1-1 1-1 0-1-1-1 0-1 1-1-2-1 1-1 1-1 1-1-1-1-1-1-1-1 2-1-1-1 0-1 4-1-4-1 2-1-1-1-1-1 1-1-1-1 0-1 6-1-6-1 1-1-1-1 2-1-1-1 0-1 0-1 0-1 1-1 1-1-3-1 3-1-2-1 4-1-4-1 0-1 0-1 0-1 0-1 0-1 2-1-1-1-1-1 1-1-1-1 4-1-3-1 5-1-5-1 3-1-4-1 0-1 0-1 1-1-1-1 6-1-6-1 0-1 0-1 2-1-1-1 0-1 1-1-1-1 4-1-4-1 0-1 2-1-3-1 1-1-1-1 2-1-2-1 0-1 1-1 0-1 1-1-1-1 0-1-1-1 3-1 0-1 1-1-1-1 1-1-1-1 0-1 1-1 4-1-7-1 0-1-1-1 3-1-1-1-1-1 1-1 0-1-1-1 1-1 0-1-1-1 0-1 4-1-3-1 1-1-2-1 0-1 8-1-8-1 2-1 0-1-2-1 8-1-7-1 0-1 0-1-1-1-1-1 1-1 7-1-6-1-1-1 0-1 1-1 0-1 0-1-1-1 1-1-2-1 4-1-2-1 0-1-1-1 4-1-3-1-1-1 0-1-1-1 1-1-1-1 1-1 3-1-3-1 1-1-1-1-1-1 1-1-1-1 0-1 4-1-3-1 2-1-3-1 2-1-1-1-1-1 2-1 0-1 0-1-1-1 0-1 1-1 0-1-2-1 3-1-3-1 0-1 1-1-1-1 1-1-1-1 1-1-2-1 3-1-2-1 3-1-2-1 0-1-1-1 1-1-1-1 2-1 0-1-2-1 2-1-1-1 1-1-1-1 0-1-2-1 2-1 0-1-2-1 2-1-1-1 0-1-1-1 0-1 0-1 5-1-4-1 0-1 0-1-1-1 0-1 2-1 0-1-2-1-1-1 2-1 0-1 0-1 3-1-3-1 4-1-5-1 0-1 2-1-1-1 0-1 4-1-4-1 2-1-2-1-1-1 0-1 1-1 0-1 0-1 2-1-2-1-1-1 0-1 0-1 2-1-1-1 1-1-2-1 0-1 1-1-1-1 0-1-1-1 2-1 1-1-3-1 1-1-1-1 1z"/>
<path id="n4" d="M0-9l1 0 1 0 1 1 1 0 1 0 1-4 1 3 1 0 1 0 1-1 1 1 1 1 1-2 1 1 1-6 1 4 1 2 1-1 1 1 1-2 1 2 1 0 1 0 1-2 1 3 1-2 1-1 1 0 1 0 1 1 1 1 1 1 1-1 1-1 1 1 1 0 1-2 1 0 1 2 1 1 1-1 1 0 1 1 1-3 1 2 1-3 1 2 1-1 1-2 1 2 1 0 1 2 1-3 1-1 1 4 1 0 1 0 1 0 1-3 1 3 1 0 1-1 1-1 1 2 1 0 1 0 1 0 1 0 1-4 1 4 1-1 1 0 1 1 1-2 1-1 1 3 1-5 1 5 1-3 1 2 1 0 1-1 1 1 1 0 1 0 1 0 1-1 1 2 1 0 1-1 1-1 1-2 1 2 1 2 1-1 1 1 1-2 1 2 1-4 1-3 1 7 1 0 1 0 1-1 1 1 1 0 1-8 1 7 1 0 1-1 1 1 1-2 1-1 1 3 1-1 1 1 1-3 1 2 1-1 1 0 1-3 1 5 1-1 1 0 1 0 1 0 1 0 1 0 1 0 1 1 1 0 1-3 1 1 1-1 1 1 1 2 1 0 1-2 1-3 1 3 1 2 1-1 1-2 1 2 1 1 1-2 1-1 1 1 1 1 1 0 1 1 1-1 1 1 1-3 1-3 1 5 1-4 1 3 1 1 1-1 1 2 1 0 1-3 1 3 1-1 1 1 1-4 1 2 1-1 1 1 1 2 1 0 1 0 1-1 1 0 1-2 1 0 1 2 1-1 1 0 1 1 1-1 1 1 1-1 1-1 1 2 1-1 1 0 1 0 1-2 1 2 1-2 1 4 1-1 1-4 1 5 1-2 1 2 1-2 1 0 1 0 1 0 1-3 1 3 1-1 1 2 1 0 1-4 1 1 1 2 1 0 1-3 1 1 1 3 1-3 1 2 1 0 1 1 1-1 1-3 1 3 1 1 1 0 1 0 1-1 1 0 1-4 1 5 1-1 1-2 1 3 1 0 1-1 1 1 1-3 1 3 1-4 1 2 1 2 1-2 1 0 1 1 1 0 1 1 1-2 1 0 1 2 1 0 1 1 1-1 1 0 1-2 1 1 1-3 1 4 1-1 1-1 1 2 1-2 1 0 1 1 1 2 1-2 1-2 1 2 1 2 1-2 1 0 1 0 1-3 1-2 1 6 1-3 1 2 1 1 1 1 1 0 1-3 1 3 1-4 1 3 1-3 1 3 1 0 1-2 1 2 1-1 1 1 1-1 1-1 1 2 1-2 1 2 1 0 1 0 1 1 1-1 1 1 1-1 1 0 1 0 1 1 1-2 1 2 1-1 1-2 1 3 1-5 1 5 1 0 1 0 1-4 1 5 1 0 1-1 1 0 1 0 1-2 1-2 1 4 1-2 1 2 1-2 1 3 1-1 1 0 1 1 1 0 1-1 1-2 1-1 1-1 1 3 1 1 1 1 1-1 1 0 1-1 1 1 1 0 1-1 1 2 1-2 1 1 1-2 1 3 1-4 1 2 1 2 1-2 1 1 1 0 1 1 1 0 1-1 1 1 1-2 1 1 1 1 1-2 1 1 1 0 1 0 1 1 1-1 1 2 1-3 1 2 1-1 1-1 1 1 1-2 1 3 1-2 1 0 1 0 1 0 1 2 1-1 1 0 1 0 1 0 1 1 1-1 1 1 1-2 1 1 1 1 1-1 1 1 1 0 1-1 1 1 1-3 1 0 1 2 1 2 1-1 1 0 1-1 1 1 1-1 1 0 1-1 1 0 1 1 1-1 1 1 1 0 1 2 1-2 1 1 1 0 1-1 1 1 1 1 1-2 1-1 1 3 1-1 1 0 1-1 1 1 1-3 1 3 1 0 1 0 1 1 1-2 1 2 1-1 1 0 1 1 1 0 1-3 1 2 1 1 1-2 1 1 1 0 1-3 1 3 1 0 1-2 1 2 1-1 1-1 1 2 1-3 1 0 1 3 1 0 1 1 1-2 1 0 1 1 1-1 1 1 1-2 1 2 1-7 1 5 1 2 1-3 1 3 1 1 1-1 1-1 1 1 1-1 1-3 1 2 1 2 1 0 1-2 1 2 1-1 1 1 1-2 1 0 1 2 1-2 1 2 1-2 1 1 1-2 1 2 1 1 1-1 1-2 1 1 1 0 1-1 1 2 1 1 1-7 1 6 1 1 1-1 1 0 1 1 1-3 1 2 1 0 1 1 1-3 1-2 1 3 1 1 1 0 1-1 1 1 1-3 1 2 1-5 1 0 1 6 1 0 1-2 1 2 1 0 1 0 1 0 1-1 1 2 1-4 1 4 1-3 1 0 1-1 1 3 1 0 1 0 1 0 1-2 1 1 1 1 1-2 1 2 1 0 1-1 1-2 1 1 1-1 1 2 1 0 1-1 1 0 1 0 1-2 1 3 1 0 1-4 1 4 1 1 1 0 1-2 1 0 1-1 1 1 1-1 1 2 1 0 1 1 1-1 1-3 1-1 1 2 1 0 1 2 1-6 1 5 1 2 1-1 1 0 1 0 1 0 1 0 1-3 1 3 1-2 1 2 1-1 1-1 1-1 1 3 1-5 1 4 1-2 1 3 1-1 1-1 1 2 1 0 1 1 1-1 1 0 1-4 1 3 1 0 1-2 1 1 1-3 1 5 1 1 1 0 1-1 1-2 1 2 1-1 1-1 1 0 1 1 1 0 1 1 1-3 1 0 1 0 1-1 1 4 1-7 1 3 1 1 1 2 1 0 1-8 1 4 1 4 1 0 1 2 1-4 1 3 1 0 1-3 1 2 1 1 1-2 1 2 1 1 1-3 1 1 1-4 1 4 1-2 1 0 1 3 1 0 1-1 1-2 1 1 1-1 1 2 1 0 1 1 1-1 1 0 1 1 1-1 1 2 1-1 1 1 1-3 1 2 1 0 1-1 1 1 1 0 1 1 1-1 1 1 1-2 1 1 1 1 1-3 1 3 1-2 1 2 1-1 1-2 1 1 1 0 1 1 1 0 1 1 1-5 1 5 1-2 1 1 1 0 1 1 1-8 1 8 1 0 1-1 1 1 1-4 1 2 1-2 1 4 1-4 1 1 1-1 1 4 1 0 1 0 1-1 1 0 1 2 1-2 1-2 1 3 1-2 1 2 1-4 1 4 1-3 1 2 1 0 1-1 1 3 1-1 1-1 1 2 1-3 1 1 1-2 1 2 1-3 1 5 1-1 1-1 1 0 1 1 1 1 1-1 1 0 1 1 1-3 1 1 1 1 1 1 1-2 1 2 1 0 1-2 1 1 1 1 1-1 1 1 1-2 1 2 1 0 1-2 1-2 1 4 1 0 1 0 1 0 1-3 1 0 1 0 1 1 1 2 1-3 1 2 1 1 1 0 1-2 1 1 1-2 1 1 1 2 1-1 1-1 1 1 1 0 1 1 1-1 1 0 1 1 1 0 1-2 1 3 1-1 1-1 1 0 1-1 1 0 1 1 1-4 1 5 1 0 1 0 1-4 1 3 1 1 1-1 1 2 1-2 1 2 1-1 1-1 1 2 1-1 1-1 1 1 1-2 1 1 1 1 1-1 1-2 1 4 1 0 1-1 1-1 1 2 1-1 1 0 1 0 1-1 1 1 1-3 1 3 1 0 1-2 1 1 1 1 1-1 1 1 1-4 1 5 1-1 1 1 1-1 1 0 1 1 1-2 1 1 1 1 1-1 1-1 1-1 1 3 1-2 1-1 1 3 1-1 1-3 1-2 1 6 1-1 1 0 1-2 1 0 1-1 1 4 1 0 1 0 1-3 1 2 1 0 1 0 1-3 1 1 1 1 1 1 1-2 1 2 1 0 1-3 1 2 1 1 1-4 1 4 1 0 1 0 1 0 1-1 1 1 1-1 1 1 1 0 1 0 1-1 1-2 1 3 1-4 1 2 1 0 1 0 1 2 1 0 1-1 1 0 1-1 1 1 1-6 1 6 1 1 1-1 1 1 1-4 1 0 1 3 1 1 1 0 1 0 1 0 1 0 1 0 1-3 1 2 1 0 1-1 1 1 1 1 1-1 1 1 1-2 1 1 1-3 1 1 1 1 1 0 1 0 1 2 1-2 1-2 1 2 1 1 1-1 1 1 1-2 1 0 1-4 1 5 1 0 1-1 1 1 1 0 1-3 1 2 1 2 1 0 1-1 1 1 1 0 1-1 1 0 1 1 1-2 1 2 1 0 1-1 1 0 1 1 1-3 1 3 1-1 1 0 1-3 1 2 1 1 1 0 1 1 1-2 1 1 1-2 1 1 1 2 1-2 1 1 1 0 1 0 1-1 1 1 1-5 1 4 1 0 1-2 1 1 1 1 1 1 1-2 1 1 1-4 1 3 1 2 1-1 1 0 1 2 1-2 1 0 1 1 1-1 1-2 1 3 1-1 1-6 1 8 1-2 1-1 1-2 1 4 1 0 1-2 1 0 1-1 1 3 1 0 1 0 1 0 1-4 1 2 1 1 1 1 1-1 1 0 1 0 1 1 1-2 1 0 1 1 1-1 1 0 1 1 1 1 1-1 1 0 1 0 1 0 1 1 1-1 1 1 1-3 1 1 1 0 1 1 1 0 1 1 1 0 1 0 1 0 1 1 1-2 1-2 1 0 1 3 1-1 1 0 1 2 1-1 1 1 1-7 1 7 1-2 1-2 1 2 1-2 1 4 1-7 1 7 1-1 1 0 1 0 1 0 1 1 1-4 1 3 1 0 1-1 1 2 1 0 1-4 1 4 1 0 1 0 1-2 1 2 1-4 1 3 1 0 1 0 1-2 1 2 1-1 1 1 1-5 1 5 1 0 1 0 1-1 1 0 1 1 1-1 1 1 1 0 1-3 1 4 1-2 1 0 1-1 1-3 1 1 1 2 1 3 1-3 1 2 1 1 1-1 1 0 1 1 1-3 1 0 1 0 1 3 1-1 1 1 1 1 1 0 1-1 1 0 1 0 1 1 1-2 1-2 1 3 1 1 1-5 1 5 1-2 1 2 1 0 1-3 1 1 1-1 1 3 1-4 1 3 1 1 1-1 1-3 1 1 1 3 1 0 1 0 1 0 1 0 1-1 1 0 1 1 1 0 1-1 1-1 1-1 1 2 1 1 1 0 1 0 1 0 1-1 1 0 1-1 1 1 1-5 1 2 1 3 1 1 1-1 1-1 1-1 1 4 1-2 1 0 1 1 1 0 1 1 1-1 1 0 1 0 1 0 1-2 1 3 1-2 1-4 1 4 1 2 1-2 1-1 1 1 1 0 1 2 1-3 1 2 1 0 1-2 1-4 1 5 1-3 1 2 1 0 1 1 1-1 1 0 1 2 1 1 1-1 1 0 1 1 1-1 1 0 1-1 1 1 1 0 1-2 1 2 1 1 1-1 1-1 1 0 1 0 1 0 1 1 1-2 1 0 1 3 1-3 1 1 1 1 1 1 1-1 1-2 1 0 1 2 1 0 1-1 1 0 1 1 1 0 1 1 1-6 1 3 1 1 1 0 1 2 1-3 1 2 1 0 1-1 1 0 1 0 1 2 1-1 1 0 1-1 1 1 1 0 1-1 1 1 1 0 1-2 1 2 1-1 1-3 1 4 1-2 1 1 1 1 1-2 1 1 1-1 1-1 1 3 1-4 1 2 1 2 1-1 1 0 1 0 1-1 1-1 1-1 1 3 1 1 1 0 1-1 1-1 1-3 1 3 1-1 1 3 1-1 1-4 1 4 1 0 1-2 1 2 1 0 1 1 1-3 1-1 1 2 1 2 1-3 1 0 1 2 1 0 1-1 1 1 1 1 1-2 1-2 1 3 1-3 1 3 1-1 1-1 1 0 1-2 1 3 1 1 1-2 1 2 1 1 1-1 1-1 1 2 1-1 1-3 1 3 1-1 1 0 1 0 1 1 1-1 1 1 1 0 1-4 1 3 1-3 1 1 1 1 1-7 1 9 1-1 1-2 1 2 1-3 1 1 1 1 1 1 1 1 1-2 1-1 1 1 1 2 1 0 1-2 1-3 1 4 1 0 1 1 1-1 1-2 1 1 1-1 1 0 1 3 1-2 1 1 1-1 1-2 1 1 1 0 1 0 1 3 1-1 1 0 1 0 1 0 1 0 1-2 1 0 1 3 1 0 1-3 1 2 1-2 1 2 1 1 1-1 1 0 1-2 1 1 1 0 1 0 1 1 1 0 1 0 1-1 1 0 1 1 1-1 1 0 1 0 1 1 1 0 1-1 1-2 1 3 1-1 1 1 1-1 1-1 1 3 1-2 1 0 1 0 1-1 1 2 1-2 1 2 1 0 1-2 1-1 1 2 1 0 1 0 1 1 1-2 1 2 1-2 1 2 1 0 1-2 1 1 1 1 1-4 1 5 1-4 1 3 1-2 1 0 1 0 1 1 1 1 1-2 1-5 1 7 1-3 1 4 1-2 1 1 1-1 1-1 1 3 1-1 1 0 1-9 1 7l0 26l-1 0-1 0-1 0-1-1-1 2-1-4-1 0-1 2-1-1-1 1-1-1-1 1-1 0-1 3-1-3-1 3-1-4-1 0-1 1-1 1-1-2-1 2-1-1-1-1-1 2-1-2-1 1-1 0-1 4-1-4-1 0-1 6-1-5-1-3-1 3-1-1-1 3-1-1-1-2-1 2-1-3-1 0-1 0-1 2-1-1-1 4-1-4-1 0-1-2-1 1-1 0-1-1-1 5-1-4-1 1-1 0-1 0-1 0-1 1-1-2-1 0-1 0-1 2-1 1-1-4-1 3-1-2-1-1-1 0-1 1-1 3-1 0-1-3-1 0-1 1-1 2-1-1-1-1-1-1-1 3-1-2-1 0-1 0-1-1-1 4-1-5-1 1-1-1-1 2-1-1-1 0-1-1-1 1-1 2-1-3-1 0-1 1-1 2-1-1-1-2-1 2-1-2-1 3-1-3-1 1-1 5-1-3-1-3-1 0-1 1-1-1-1 0-1 1-1 0-1 1-1 1-1-2-1 1-1-1-1-1-1 0-1 1-1 1-1-2-1 1-1 1-1-1-1 2-1-2-1-1-1 1-1-1-1 2-1-1-1 1-1 0-1-2-1 1-1 1-1-2-1 0-1 0-1 1-1 1-1 0-1 0-1-2-1 0-1 1-1 1-1-3-1 2-1 0-1 2-1-4-1 1-1 0-1 0-1 1-1 0-1-1-1 3-1-4-1 7-1-5-1 0-1-2-1 2-1-2-1 1-1-1-1 2-1-1-1 2-1-2-1-1-1 2-1-1-1-1-1 3-1 0-1-3-1 3-1-2-1 2-1-3-1 2-1 0-1 0-1-2-1 0-1 0-1 3-1-1-1 0-1-1-1-1-1 2-1 0-1-1-1 0-1 1-1-1-1 3-1-3-1-1-1 1-1 1-1 0-1 2-1-3-1-1-1-1-1 0-1 1-1 0-1-1-1 2-1 0-1-1-1 1-1 0-1-1-1 0-1 1-1-1-1-1-1 1-1 0-1 0-1 0-1-1-1 3-1-1-1 0-1-1-1 1-1-1-1 4-1-3-1-1-1 1-1 4-1-5-1 0-1 0-1 3-1-2-1-1-1 5-1-5-1 4-1-3-1 0-1-1-1-1-1 1-1 1-1-1-1 1-1-1-1 0-1 7-1-7-1 3-1-3-1 0-1 0-1-1-1 2-1 3-1-4-1 2-1-1-1 0-1-1-1 2-1-3-1 1-1 0-1-1-1 4-1-1-1 1-1-3-1-1-1 1-1-1-1 1-1 2-1 0-1-2-1 0-1 0-1 1-1-1-1 1-1-1-1 1-1 0-1 0-1 0-1 1-1-1-1 0-1-1-1 2-1 0-1-2-1 1-1 3-1-3-1 2-1-1-1 0-1 2-1-4-1 3-1-2-1 0-1 0-1 1-1-1-1 2-1-2-1 1-1-1-1 6-1-7-1 0-1 5-1-3-1-2-1 4-1-4-1 2-1 0-1-1-1 1-1 3-1-4-1 0-1-1-1 2-1-1-1 0-1-1-1 1-1 1-1 2-1-3-1 1-1-1-1 1-1-1-1 2-1 0-1-1-1 0-1-1-1 4-1-3-1 0-1 0-1 4-1 0-1-2-1-3-1 0-1 1-1 1-1 3-1-3-1-1-1 0-1-1-1 3-1-3-1 0-1 1-1 0-1 1-1-2-1 1-1 2-1-3-1 1-1-1-1 2-1 0-1-2-1 2-1 9-1-10-1 4-1-4-1 1-1 0-1 0-1 2-1-2-1 1-1-1-1-2-1 1-1 1-1 3-1-1-1-4-1 0-1 4-1 0-1-2-1 7-1-6-1 0-1-2-1 0-1 0-1 2-1-2-1 0-1 2-1 0-1-1-1 0-1 0-1 0-1 0-1-1-1 0-1 1-1-2-1 2-1 1-1-1-1 1-1 0-1-1-1 2-1-3-1 0-1 0-1 0-1 1-1-1-1 1-1-1-1 0-1 0-1 1-1 1-1 1-1 0-1-3-1 0-1 1-1-1-1 0-1 1-1-1-1-1-1 3-1-1-1 7-1-8-1-1-1 2-1-1-1-1-1 3-1-1-1-1-1 0-1 0-1 0-1 8-1-6-1-2-1-1-1 2-1 2-1-3-1 3-1-3-1 2-1-3-1 2-1 0-1 0-1-1-1 2-1-2-1 1-1-1-1 1-1-2-1 1-1 3-1-2-1-2-1 2-1-1-1 4-1-4-1-1-1 1-1 2-1 0-1-1-1-1-1 0-1 1-1 0-1-1-1-1-1 2-1-2-1 4-1-3-1-1-1 1-1 1-1 3-1 0-1-5-1 0-1-1-1 1-1 3-1-3-1 1-1 0-1 0-1 0-1 0-1 0-1 1-1-1-1 6-1-7-1 3-1-1-1-3-1 3-1 1-1-3-1 2-1-2-1 0-1-1-1 1-1 1-1-1-1-1-1 1-1 1-1-1-1 1-1 2-1-4-1 1-1 1-1-2-1 2-1 0-1-1-1-1-1 1-1 1-1 2-1-3-1 0-1-1-1 1-1-1-1 1-1 0-1 3-1-2-1-1-1 0-1 1-1-2-1 2-1 1-1-3-1-1-1 1-1 0-1 0-1 5-1-3-1-1-1-1-1 1-1 1-1-2-1 0-1-1-1 1-1 1-1-1-1 0-1 1-1 8-1-9-1 0-1 1-1 0-1-1-1 0-1 1-1-1-1 0-1 0-1 1-1 0-1 0-1-1-1 0-1 2-1-2-1 0-1 0-1 2-1 0-1-1-1 1-1-2-1-1-1 1-1 1-1 0-1-1-1 0-1 1-1 0-1-1-1 1-1-1-1 0-1-1-1 1-1 0-1 1-1-1-1 3-1-3-1 1-1-2-1 2-1-1-1 1-1-1-1 1-1 2-1-3-1 0-1 1-1-2-1 2-1-2-1 1-1 0-1 0-1 1-1 0-1-1-1 0-1 0-1 0-1 0-1 0-1 1-1 3-1-4-1 0-1-1-1 4-1-1-1 1-1-3-1 3-1-2-1 0-1-1-1 1-1 2-1-3-1 3-1-1-1-2-1 0-1 0-1 3-1-3-1 1-1 2-1-3-1 0-1 5-1-5-1 3-1-2-1 1-1 5-1-4-1-2-1 0-1 2-1 1-1-4-1 2-1 0-1-1-1 1-1-1-1 5-1-4-1-2-1 0-1 2-1-2-1 1-1 0-1 2-1 3-1-6-1 0-1 3-1-1-1 0-1-2-1 1-1 3-1-1-1 1-1-3-1 4-1 0-1-4-1 0-1 1-1 0-1 1-1-1-1-1-1 1-1 5-1-6-1 1-1 0-1 0-1 3-1-4-1 2-1 3-1-4-1-1-1 3-1-1-1-2-1 0-1 0-1 3-1-2-1 0-1 0-1 3-1-4-1 1-1 6-1-3-1-2-1 0-1-1-1 2-1 0-1-2-1-1-1 4-1-3-1-1-1 6-1-4-1-1-1 1-1-2-1 3-1-2-1 0-1 1-1-1-1-1-1 2-1-2-1 2-1 3-1-3-1 1-1-3-1 0-1 2-1-1-1 0-1 1-1 1-1-2-1 3-1-3-1 3-1-3-1 0-1-1-1 1-1 3-1-1-1 2-1-3-1 0-1-1-1 3-1-1-1-2-1 1-1 0-1 0-1 0-1-1-1 0-1 1-1 0-1 8-1-9-1-1-1 2-1-1-1 1-1 1-1-1-1 3-1 0-1-4-1 1-1-2-1 1-1 7-1-4-1 1-1 2-1-4-1-2-1 2-1-1-1 0-1 1-1 0-1-1-1-2-1 2-1 7-1-6-1 1-1 4-1-5-1 0-1 0-1 2-1-4-1-1-1 3-1 0-1-1-1 0-1 1-1-2-1-1-1 2-1-2-1 2-1 0-1 1-1 0-1-1-1-2-1 3-1-1-1-1-1-1-1 1-1 0-1 6-1-7-1 3-1-1-1 2-1-2-1-1-1-1-1 7-1-7-1 0-1 0-1 3-1-1-1-2-1 2-1-1-1 2-1-2-1 0-1 3-1-2-1-2-1 1-1 5-1-4-1-2-1 2-1 0-1 1-1-2-1 1-1-2-1 0-1 1-1-1-1 1-1 0-1 1-1-1-1 6-1-6-1-1-1 2-1-2-1 4-1-4-1-1-1 1-1 3-1 0-1-2-1-1-1-1-1 3-1 1-1-1-1-3-1 2-1 0-1-1-1-1-1 2-1-1-1 3-1-2-1-1-1-1-1 0-1 1-1 2-1-3-1 0-1 2-1-2-1 1-1 0-1 1-1-2-1 0-1 3-1 2-1-5-1 0-1 3-1-1-1-1-1-1-1 2-1 0-1-1-1-1-1 0-1 1-1 1-1 0-1 0-1-2-1 1-1-1-1 3-1-2-1 0-1 0-1-1-1 0-1 1-1 0-1-1-1 0-1 0-1 0-1 0-1 0-1 2-1 0-1-3-1 2-1-1-1 1-1-2-1 3-1-2-1 2-1 0-1-2-1 0-1 0-1 0-1 1-1-1-1 1-1 1-1-3-1 4-1-3-1 7-1-3-1-3-1-1-1 1-1 1-1-2-1 6-1-6-1 2-1 0-1-3-1 3-1-1-1-1-1 0-1 0-1-1-1 1-1 1-1 0-1 0-1-2-1 1-1 2-1 2-1-4-1 0-1 1-1-1-1 1-1 0-1-1-1 5-1 3-1-7-1-2-1 4-1 2-1-4-1 0-1 3-1-4-1 0-1 3-1-4-1 0-1 1-1 2-1-2-1 3-1 1-1-5-1 3-1-2-1 5-1-4-1 1-1-1-1 1-1 1-1-3-1 2-1 0-1-2-1 1-1-1-1 2-1-2-1 7-1-6-1-1-1 0-1 3-1-1-1-1-1-1-1 3-1-3-1 0-1 0-1 3-1-3-1 0-1 1-1 0-1 1-1-1-1-1-1 2-1-1-1 3-1-1-1-2-1-1-1 0-1 0-1 1-1 1-1-1-1 0-1-1-1 3-1-2-1 0-1-1-1 0-1 0-1 1-1-1-1 2-1-1-1 2-1-2-1 0-1 4-1-2-1-3-1 4-1-2-1-1-1 2-1-2-1 0-1 0-1 1-1-2-1 2-1 0-1 0-1 0-1 0-1 1-1 3-1-3-1-1-1 0-1-1-1 0-1 0-1 1-1 1-1 3-1-3-1-1-1 1-1 0-1 3-1-4-1 0-1-1-1 5-1-3-1-1-1 2-1 2-1-2-1-2-1 1-1-2-1 1-1-1-1 4-1-3-1 4-1-4-1 5-1-3-1-2-1 2-1 1-1-2-1-2-1 2-1-1-1 0-1 0-1 2-1-2-1 0-1 8-1-9-1 3-1-2-1 0-1-1-1 2-1 3-1-4-1 3-1-1-1-1-1 1-1 2-1-2-1-3-1 2-1-2-1 4-1-1-1 1-1-3-1 2-1-1-1-1-1 0-1 1-1-2-1 1-1 0-1 3-1-1-1 6-1-2-1-6-1 0-1 1-1 1-1-1-1 1-1-1-1-1-1 1-1 2-1 0-1-2-1-1-1-1-1 2-1 3-1-1-1-2-1 0-1-1-1 2-1-2-1 0-1 0-1 1-1 4-1-2-1-2-1 1-1-2-1-1-1 2-1 2-1-1-1-1-1 0-1-1-1 2-1 4-1-5-1-1-1 1-1 0-1 0-1 2-1-3-1 1-1-2-1 1-1 0-1 0-1 0-1 0-1 2-1-2-1 1-1 1-1-1-1 0-1-1-1-1-1 2-1 1-1-2-1 0-1 4-1-4-1-1-1 0-1 2-1-2-1 1-1-1-1 2-1 3-1-4-1 1-1 1-1-2-1 1-1-2-1 3-1-1-1 1-1-1-1-1-1 1-1-2-1-1-1 6-1-5-1 2-1 0-1-2-1 0-1 2-1-2-1 2-1-1-1-1-1 1-1-1-1 1-1-1-1 2-1-3-1 1-1 1-1-2-1 3-1-1-1-2-1 0-1 1-1 2-1-2-1 6-1-6-1 1-1 3-1-5-1 1-1 0-1 1-1-1-1-1-1 1-1 1-1-2-1 2-1-1-1 2-1-3-1 2-1 0-1 0-1 0-1 0-1-1-1-1-1 0-1 1-1-1-1 0-1 0-1 2-1-1-1 3-1-4-1 1-1-1-1 0-1 2-1-2-1 1-1 1-1-1-1-1-1 2-1 1-1-1-1 0-1-2-1 0-1 1-1 0-1 0-1 3-1-2-1-2-1 1-1 0-1-1-1 2-1 1-1-3-1 0-1 2-1 3-1-5-1 0-1 0-1 2-1-2-1 0-1 0-1 1-1 1-1-1-1 1-1 4-1-3-1-1-1 1-1-1-1-3-1 1-1 1-1-1-1 1-1 1-1-2-1 1-1 0-1-2-1 2-1-2-1 7-1-4-1-1-1 7-1-8-1 0-1 1-1-1-1 1-1 1-1 1z"/>
<filter id="gs" x="-5%" y="-20%" width="110%" height="140%"><feColorMatrix type="saturate" values="0"/></filter>
<clipPath id="ax"><rect x="230" y="60" width="1460" height="1020"/></clipPath>
<clipPath id="lt"><rect x="230" y="1040" width="485" height="40"/></clipPath>
</defs>
<text class="g" x="959.4" y="34.8" font-size="14.6" text-anchor="middle" textLength="119.6" lengthAdjust="spacingAndGlyphs">US.EDHPI.00.BHZ</text>
<line x1="595.5" y1="60.5" x2="595.5" y2="1080" stroke="#333" stroke-width="0.8" stroke-dasharray="0.8 1.23"/>
<line x1="960.5" y1="60.5" x2="960.5" y2="1080" stroke="#333" stroke-width="0.8" stroke-dasharray="0.8 1.23"/>
<line x1="1325.5" y1="60.5" x2="1325.5" y2="1080" stroke="#333" stroke-width="0.8" stroke-dasharray="0.8 1.23"/>
<g clip-path="url(#ax)">
<use href="#n1" transform="translate(230.00 80.35) scale(1 0.2500)" fill="#000000"/>
<use href="#n4" transform="translate(230.00 105.49) scale(1 0.2500)" fill="#ff0000"/>
<use href="#n2" transform="translate(230.00 130.64) scale(1 0.2500)" fill="#0000ff"/>
<use href="#n0" transform="translate(230.00 155.78) scale(1 0.2500)" fill="#008000"/>
<use href="#n3" transform="translate(230.00 180.93) scale(1 0.2500)" fill="#000000"/>
<use href="#n1" transform="translate(1690.00 206.07) scale(-1 0.2500)" fill="#ff0000"/>
<use href="#n4" transform="translate(1690.00 231.22) scale(-1 0.2500)" fill="#0000ff"/>
<use href="#n2" transform="translate(1690.00 256.37) scale(-1 0.2500)" fill="#008000"/>
<use href="#n0" transform="translate(1690.00 281.51) scale(-1 0.2500)" fill="#000000"/>
<use href="#n3" transform="translate(1690.00 306.65) scale(-1 0.2500)" fill="#ff0000"/>
<use href="#n1" transform="translate(230.00 331.80) scale(1 0.2500)" fill="#0000ff"/>
<use href="#n4" transform="translate(230.00 356.94) scale(1 0.2500)" fill="#008000"/>
<use href="#n2" transform="translate(230.00 382.09) scale(1 0.2500)" fill="#000000"/>
<use href="#n0" transform="translate(230.00 407.24) scale(1 0.2500)" fill="#ff0000"/>
<use href="#n3" transform="translate(230.00 432.38) scale(1 0.2500)" fill="#0000ff"/>
<use href="#n1" transform="translate(1690.00 457.52) scale(-1 0.2500)" fill="#008000"/>
<use href="#n4" transform="translate(1690.00 482.67) scale(-1 0.2500)" fill="#000000"/>
<use href="#n2" transform="translate(1690.00 507.81) scale(-1 0.2625)" fill="#ff0000"/>
<use href="#n0" transform="translate(1690.00 532.96) scale(-1 0.2700)" fill="#0000ff"/>
<use href="#n3" transform="translate(1690.00 558.11) scale(-1 0.2875)" fill="#008000"/>
<use href="#n1" transform="translate(230.00 583.25) scale(1 0.2875)" fill="#000000"/>
<use href="#n4" transform="translate(230.00 608.39) scale(1 0.2500)" fill="#ff0000"/>
<use href="#n2" transform="translate(230.00 633.54) scale(1 0.2500)" fill="#0000ff"/>
<use href="#n0" transform="translate(230.00 658.69) scale(1 0.2625)" fill="#008000"/>
<use href="#n3" transform="translate(230.00 683.83) scale(1 0.2500)" fill="#000000"/>
<use href="#n1" transform="translate(1690.00 708.98) scale(-1 0.2500)" fill="#ff0000"/>
<use href="#n4" transform="translate(1690.00 734.12) scale(-1 0.2500)" fill="#0000ff"/>
<use href="#n2" transform="translate(1690.00 759.26) scale(-1 0.2625)" fill="#008000"/>
<use href="#n0" transform="translate(1690.00 784.41) scale(-1 0.2500)" fill="#000000"/>
<use href="#n3" transform="translate(1690.00 809.56) scale(-1 0.2500)" fill="#ff0000"/>
<use href="#n1" transform="translate(230.00 834.70) scale(1 0.2500)" fill="#0000ff"/>
<use href="#n4" transform="translate(230.00 859.85) scale(1 0.2500)" fill="#008000"/>
<use href="#n2" transform="translate(230.00 884.99) scale(1 0.2500)" fill="#000000"/>
<use href="#n0" transform="translate(230.00 910.13) scale(1 0.2500)" fill="#ff0000"/>
<use href="#n3" transform="translate(230.00 935.28) scale(1 0.2500)" fill="#0000ff"/>
<use href="#n1" transform="translate(1690.00 960.42) scale(-1 0.2500)" fill="#008000"/>
<use href="#n4" transform="translate(1690.00 985.57) scale(-1 0.2500)" fill="#000000"/>
<use href="#n2" transform="translate(1690.00 1010.72) scale(-1 0.2500)" fill="#ff0000"/>
<use href="#n0" transform="translate(1690.00 1035.86) scale(-1 0.2500)" fill="#0000ff"/>
<g clip-path="url(#lt)"><use href="#n3" transform="translate(1690.00 1061.00) scale(-1 0.3000)" fill="#008000"/></g>
<path d="M364.2 75.8H365.8V83.8H364.2zM1613.0 72.3H1615.0V93.6H1613.0zM1615.0 74.6H1616.0V85.3H1615.0zM1616.0 75.7H1617.0V84.4H1616.0zM1617.0 76.0H1618.0V86.6H1617.0zM1618.0 76.7H1618.3V86.0H1618.0zM1619.7 76.8H1621.0V85.3H1619.7z" fill="#000000"/>
<path d="M743.0 122.7H744.9V133.6H743.0zM745.8 126.6H747.7V136.3H745.8zM747.0 126.0H748.0V134.7H747.0zM748.0 124.2H749.0V133.5H748.0zM749.0 125.0H750.0V133.9H749.0zM753.0 126.1H755.0V137.5H753.0zM755.0 127.9H756.0V135.6H755.0zM756.0 126.5H757.0V134.2H756.0zM757.0 126.1H758.0V135.6H757.0zM758.0 126.3H758.8V134.0H758.0zM760.0 126.2H761.3V137.9H760.0zM761.0 126.5H762.0V135.6H761.0zM762.0 123.0H763.0V134.0H762.0zM763.0 126.0H763.9V135.1H763.0zM761.8 127.6H763.9V141.7H761.8zM764.5 124.9H766.4V136.6H764.5zM768.6 122.0H770.5V134.7H768.6zM770.8 126.5H772.7V136.3H770.8zM776.8 123.9H778.7V134.1H776.8zM778.7 127.6H779.7V135.0H778.7zM779.7 127.5H780.7V134.7H779.7zM780.7 126.2H781.7V134.9H780.7zM781.7 125.2H781.9V137.2H781.7zM782.2 124.2H783.8V142.9H782.2zM1411.8 128.3H1412.8V135.7H1411.8zM1412.8 127.6H1413.8V137.2H1412.8zM1413.8 128.2H1414.8V138.0H1413.8zM1414.8 128.3H1415.8V135.9H1414.8zM1412.2 123.5H1414.2V133.6H1412.2zM1412.4 127.6H1414.0V144.5H1412.4zM1416.2 118.3H1418.0V133.6H1416.2zM1424.0 127.6H1426.0V142.8H1424.0zM1428.0 127.6H1429.4V136.4H1428.0zM1430.0 121.1H1432.0V133.6H1430.0zM1432.8 127.6H1434.0V135.7H1432.8zM1434.0 124.9H1435.8V133.6H1434.0zM1449.0 125.5H1451.0V138.7H1449.0zM1453.7 123.2H1455.8V133.6H1453.7zM1459.0 124.5H1461.2V138.7H1459.0zM1461.9 127.6H1463.9V142.5H1461.9zM1572.3 126.6H1573.3V136.9H1572.3zM1573.3 125.3H1574.3V134.5H1573.3zM1574.3 126.1H1575.3V136.1H1574.3zM1575.3 126.6H1575.7V134.8H1575.3zM1577.7 123.7H1578.7V142.3H1577.7zM1578.7 119.3H1579.7V137.4H1578.7zM1579.7 122.2H1580.7V138.2H1579.7zM1580.7 122.6H1581.7V137.8H1580.7zM1613.0 118.9H1615.0V133.6H1613.0zM1615.7 124.6H1618.3V136.9H1615.7z" fill="#0000ff"/>
<path d="M260.0 152.8H262.0V163.6H260.0zM299.2 147.9H300.8V158.8H299.2zM988.0 152.6H989.0V161.1H988.0zM989.0 150.8H990.0V161.0H989.0zM990.0 151.9H991.0V160.0H990.0zM991.0 151.5H992.0V161.8H991.0zM989.2 148.7H990.8V169.9H989.2zM1041.7 151.8H1043.3V159.8H1041.7z" fill="#008000"/>
<path d="M255.2 175.4H256.8V184.9H255.2zM278.2 173.7H279.8V188.7H278.2zM746.7 175.9H748.3V188.7H746.7zM785.0 178.1H786.0V183.9H785.0zM786.0 177.9H787.0V184.3H786.0zM787.0 177.1H788.0V185.1H787.0zM788.0 177.9H789.0V184.6H788.0zM789.0 177.7H790.0V185.0H789.0zM790.0 177.1H791.0V184.1H790.0zM791.0 178.1H792.0V184.5H791.0zM792.0 177.6H793.0V185.3H792.0zM793.0 176.9H794.0V184.9H793.0zM794.0 176.5H795.0V185.0H794.0zM795.0 176.9H796.0V184.5H795.0zM796.0 177.5H797.0V183.9H796.0zM797.0 178.1H798.0V185.0H797.0zM798.0 177.0H799.0V184.4H798.0zM799.0 177.8H800.0V185.0H799.0zM800.0 177.9H801.0V185.2H800.0zM801.0 176.8H802.0V184.7H801.0zM802.0 177.6H803.0V184.4H802.0zM803.0 178.1H804.0V185.1H803.0zM804.0 176.9H805.0V183.9H804.0zM805.0 177.3H806.0V184.3H805.0zM832.2 176.4H833.8V190.7H832.2zM1506.2 177.9H1507.8V186.9H1506.2z" fill="#000000"/>
<path d="M432.5 197.0H434.2V209.3H432.5zM435.0 199.7H436.7V214.1H435.0zM437.0 203.7H438.0V210.0H437.0zM438.0 202.1H439.0V209.2H438.0zM439.0 203.4H440.0V210.5H439.0zM440.0 202.7H441.0V208.9H440.0zM441.0 202.4H442.0V209.9H441.0zM442.0 202.1H443.0V210.6H442.0zM443.0 203.6H444.0V209.5H443.0zM444.0 203.0H445.0V210.5H444.0zM445.0 195.7H447.0V210.1H445.0zM447.0 201.1H448.8V214.1H447.0zM448.8 201.4H449.8V210.1H448.8zM449.8 199.3H450.8V209.0H449.8zM450.8 198.6H451.7V211.3H450.8zM451.7 202.1H454.0V210.1H451.7zM454.0 201.5H455.0V211.7H454.0zM455.0 198.6H456.0V213.2H455.0zM456.0 198.1H456.7V213.6H456.0zM458.8 200.3H460.0V211.9H458.8zM462.0 203.1H463.8V211.9H462.0zM466.0 185.9H468.0V219.4H466.0zM468.0 190.3H470.0V219.4H468.0zM470.0 193.6H470.8V214.3H470.0zM473.0 200.3H474.0V216.9H473.0zM474.6 199.3H475.6V215.3H474.6zM475.6 200.6H476.6V212.9H475.6zM476.6 201.2H477.6V214.2H476.6zM477.6 200.7H478.6V214.5H477.6zM478.6 199.9H478.8V211.7H478.6zM484.0 199.1H485.8V209.1H484.0zM379.2 202.1H380.8V210.1H379.2zM533.2 201.6H534.8V209.1H533.2zM1072.0 201.9H1074.0V210.6H1072.0zM1083.0 196.6H1085.0V223.6H1083.0zM1089.3 199.1H1091.0V211.7H1089.3zM1098.0 201.7H1099.0V212.7H1098.0zM1099.0 201.9H1100.0V210.6H1099.0zM1100.0 200.1H1101.0V210.3H1100.0zM1101.7 202.6H1103.3V212.7H1101.7zM1114.0 199.6H1115.0V208.4H1114.0zM1115.0 201.2H1116.0V208.7H1115.0zM1116.0 202.1H1117.0V208.7H1116.0zM1117.0 201.1H1118.0V209.0H1117.0zM1118.0 202.3H1119.0V209.6H1118.0zM1114.0 202.6H1115.7V216.2H1114.0z" fill="#ff0000"/>
<path d="M1388.2 300.7H1389.8V309.7H1388.2z" fill="#ff0000"/>
<path d="M704.0 402.9H705.0V410.4H704.0zM705.0 403.1H706.0V411.0H705.0zM706.0 403.0H707.0V410.7H706.0zM707.0 403.3H708.0V411.2H707.0zM708.0 402.9H709.0V411.2H708.0zM709.0 403.4H710.0V410.4H709.0zM710.0 402.5H711.0V411.5H710.0zM711.0 402.8H712.0V411.7H711.0zM712.0 402.6H713.0V411.3H712.0zM713.0 403.8H714.0V411.5H713.0zM714.0 402.8H715.0V411.3H714.0zM715.0 403.2H716.0V410.6H715.0zM716.0 402.8H717.0V411.9H716.0zM716.0 403.6H717.0V410.9H716.0zM717.0 404.0H718.0V410.5H717.0zM718.0 404.5H719.0V409.8H718.0zM719.0 404.4H720.0V410.8H719.0zM720.0 404.3H721.0V410.0H720.0zM721.0 404.1H722.0V409.9H721.0zM722.0 404.5H723.0V410.9H722.0zM723.0 404.0H724.0V410.8H723.0zM724.0 403.7H725.0V410.8H724.0zM725.0 403.7H726.0V410.5H725.0zM726.0 403.7H727.0V410.6H726.0zM727.0 404.4H728.0V411.1H727.0zM728.0 404.7H729.0V409.8H728.0zM729.0 403.8H730.0V410.4H729.0zM730.0 403.5H731.0V411.0H730.0zM708.3 401.5H709.3V411.9H708.3zM709.3 402.5H710.3V413.4H709.3zM710.3 400.3H711.3V412.1H710.3zM711.3 399.9H711.5V413.2H711.3z" fill="#ff0000"/>
<path d="M1263.2 450.5H1264.8V460.5H1263.2z" fill="#008000"/>
<path d="M1584.2 477.6H1585.2V490.2H1584.2zM1585.2 476.9H1586.2V488.9H1585.2zM1586.2 475.0H1587.2V489.3H1586.2zM1587.2 476.4H1588.2V489.4H1587.2zM1588.2 477.0H1589.2V490.4H1588.2zM1589.2 476.8H1590.0V486.9H1589.2zM1586.0 479.7H1588.0V498.4H1586.0zM1590.7 457.7H1592.0V499.1H1590.7zM1592.0 461.5H1593.7V497.0H1592.0zM1602.0 473.5H1603.0V486.6H1602.0zM1603.0 471.3H1604.0V487.1H1603.0zM1604.0 471.8H1605.0V487.7H1604.0zM1605.0 476.6H1606.0V489.0H1605.0zM1606.0 478.8H1607.0V488.9H1606.0zM1607.0 478.3H1608.0V487.7H1607.0zM1608.0 476.0H1609.0V486.9H1608.0zM1609.0 477.9H1609.6V486.7H1609.0zM1614.0 475.5H1615.0V487.5H1614.0zM1615.0 475.0H1616.0V486.9H1615.0zM1616.0 475.6H1617.0V486.5H1616.0zM1617.0 475.3H1618.0V489.1H1617.0zM1618.0 475.6H1618.5V489.5H1618.0zM1620.0 477.7H1621.0V487.9H1620.0zM1621.0 479.4H1622.0V489.0H1621.0zM1622.0 479.5H1622.7V488.1H1622.0zM1641.3 476.0H1643.7V491.4H1641.3zM1259.2 477.7H1260.8V485.7H1259.2z" fill="#000000"/>
<path d="M447.0 503.0H448.0V510.6H447.0zM448.0 503.2H449.0V511.6H448.0zM449.0 502.9H450.0V511.5H449.0zM450.0 503.7H451.0V510.6H450.0zM451.0 504.9H452.0V511.5H451.0zM452.0 502.8H453.0V511.0H452.0zM453.0 503.7H454.0V511.2H453.0zM454.0 504.0H455.0V510.1H454.0zM455.0 504.4H456.0V511.8H455.0zM456.0 504.7H457.0V510.4H456.0zM449.2 500.3H450.8V511.8H449.2zM497.2 504.8H498.8V514.8H497.2zM644.2 501.8H645.8V513.8H644.2zM687.0 504.4H688.0V512.2H687.0zM688.0 505.0H689.0V510.9H688.0zM689.0 504.3H690.0V510.7H689.0zM690.0 503.8H691.0V512.3H690.0zM691.0 504.1H692.0V511.1H691.0zM692.0 504.4H693.0V512.2H692.0zM693.0 502.8H694.0V511.4H693.0zM694.0 502.9H695.0V512.6H694.0zM695.0 504.0H696.0V512.4H695.0zM696.0 503.8H697.0V510.8H696.0zM697.0 504.4H698.0V512.5H697.0zM698.0 504.8H699.0V512.8H698.0zM699.0 504.2H700.0V512.2H699.0zM688.2 499.3H689.8V514.8H688.2zM696.2 499.8H697.8V513.8H696.2zM710.0 504.5H711.0V510.3H710.0zM711.0 504.5H712.0V510.9H711.0zM712.0 505.3H713.0V511.2H712.0zM713.0 504.5H714.0V511.5H713.0zM714.0 504.1H715.0V510.4H714.0zM715.0 504.2H716.0V511.4H715.0zM716.0 504.3H717.0V510.8H716.0zM717.0 504.4H718.0V510.4H717.0zM718.0 504.2H719.0V511.5H718.0zM719.0 505.4H720.0V510.9H719.0zM720.0 505.1H721.0V511.1H720.0zM721.0 504.2H722.0V510.4H721.0zM722.0 504.3H723.0V510.6H722.0zM723.0 505.1H724.0V511.1H723.0zM724.0 504.6H725.0V511.4H724.0zM725.0 504.5H726.0V510.6H725.0zM726.0 504.3H727.0V510.3H726.0zM727.0 504.1H728.0V510.5H727.0zM728.0 504.8H729.0V510.5H728.0zM729.0 504.2H730.0V511.2H729.0zM730.0 505.4H731.0V511.5H730.0zM731.0 504.7H732.0V510.6H731.0zM732.0 505.0H733.0V510.5H732.0zM733.0 504.6H734.0V511.1H733.0zM734.0 505.1H735.0V510.2H734.0zM735.0 504.9H736.0V510.2H735.0zM736.0 504.4H737.0V511.2H736.0zM737.0 505.4H738.0V510.5H737.0zM738.0 504.3H739.0V510.2H738.0zM739.0 504.1H740.0V511.2H739.0zM740.0 504.5H741.0V510.9H740.0zM741.0 504.6H742.0V510.5H741.0zM742.0 504.1H743.0V511.5H742.0zM743.0 504.2H744.0V510.5H743.0zM744.0 505.0H745.0V511.2H744.0zM745.0 504.6H746.0V510.5H745.0zM746.0 505.1H747.0V510.3H746.0zM747.0 505.2H748.0V510.3H747.0zM748.0 504.7H749.0V511.3H748.0zM749.0 505.2H750.0V510.4H749.0zM750.0 504.6H751.0V510.9H750.0zM751.0 504.3H752.0V510.8H751.0zM752.0 505.0H753.0V511.0H752.0zM753.0 504.1H754.0V511.2H753.0zM754.0 504.3H755.0V511.4H754.0zM755.0 504.1H756.0V511.3H755.0zM756.0 504.8H757.0V510.2H756.0zM757.0 504.8H758.0V511.3H757.0zM758.0 504.5H759.0V511.5H758.0zM759.0 505.1H760.0V510.7H759.0zM760.0 505.2H761.0V511.5H760.0zM761.0 504.5H762.0V511.0H761.0zM762.0 504.5H763.0V510.8H762.0zM763.0 504.3H764.0V511.4H763.0zM764.0 504.7H765.0V510.5H764.0zM765.0 505.3H766.0V511.3H765.0zM766.0 504.9H767.0V510.9H766.0zM767.0 504.9H768.0V510.7H767.0zM768.0 504.3H769.0V511.0H768.0zM769.0 504.6H770.0V510.8H769.0zM770.0 504.1H771.0V510.5H770.0zM771.0 504.6H772.0V510.7H771.0zM772.0 504.8H773.0V511.1H772.0zM773.0 504.1H774.0V510.6H773.0zM774.0 505.1H775.0V510.3H774.0zM775.0 505.3H776.0V510.5H775.0zM776.0 504.2H777.0V510.3H776.0zM777.0 504.5H778.0V511.5H777.0zM778.0 504.3H779.0V511.5H778.0zM779.0 504.7H780.0V510.9H779.0zM780.0 504.7H781.0V511.5H780.0zM781.0 505.0H782.0V511.4H781.0zM782.0 505.1H783.0V510.8H782.0zM783.0 504.1H784.0V510.4H783.0zM784.0 505.0H785.0V510.6H784.0zM785.0 504.6H786.0V510.4H785.0zM786.0 505.3H787.0V510.6H786.0zM787.0 505.1H788.0V510.6H787.0zM788.0 504.5H789.0V511.5H788.0zM789.0 505.4H790.0V511.0H789.0zM790.0 504.3H791.0V511.0H790.0zM791.0 504.4H792.0V510.5H791.0zM792.0 504.9H793.0V511.5H792.0zM793.0 505.0H794.0V511.1H793.0zM794.0 504.5H795.0V510.3H794.0zM795.0 504.1H796.0V510.5H795.0zM796.0 504.3H797.0V510.7H796.0zM797.0 505.2H798.0V511.1H797.0zM798.0 505.4H799.0V511.4H798.0zM799.0 504.8H800.0V510.6H799.0zM800.0 504.3H801.0V510.6H800.0zM801.0 504.9H802.0V510.9H801.0zM802.0 504.9H803.0V511.1H802.0zM803.0 504.8H804.0V511.0H803.0zM804.0 504.4H805.0V511.4H804.0zM805.0 505.0H806.0V510.9H805.0zM806.0 505.3H807.0V511.2H806.0zM807.0 505.4H808.0V511.5H807.0zM808.0 505.3H809.0V511.2H808.0zM809.0 504.3H810.0V510.4H809.0zM810.0 504.2H811.0V510.7H810.0zM811.0 505.2H812.0V511.5H811.0zM812.0 504.9H813.0V510.8H812.0zM813.0 505.1H814.0V511.1H813.0zM814.0 504.5H815.0V510.4H814.0zM815.0 504.6H816.0V511.3H815.0zM816.0 504.4H817.0V511.1H816.0zM817.0 504.6H818.0V511.1H817.0zM818.0 504.9H819.0V511.4H818.0zM819.0 504.5H820.0V511.2H819.0zM820.0 504.3H821.0V510.4H820.0zM821.0 505.4H822.0V510.4H821.0zM822.0 504.7H823.0V511.0H822.0zM823.0 504.1H824.0V510.9H823.0zM824.0 504.7H825.0V510.3H824.0zM825.0 504.4H826.0V510.6H825.0zM826.0 505.4H827.0V511.1H826.0zM827.0 504.3H828.0V510.4H827.0zM828.0 504.4H829.0V510.2H828.0zM829.0 505.0H830.0V510.6H829.0zM830.0 504.3H831.0V510.8H830.0zM831.0 505.1H832.0V510.3H831.0zM832.0 504.3H833.0V510.6H832.0zM833.0 505.0H834.0V510.9H833.0zM834.0 505.3H835.0V510.8H834.0zM835.0 504.8H836.0V511.4H835.0zM836.0 505.2H837.0V510.7H836.0zM837.0 504.4H838.0V511.0H837.0zM838.0 505.4H839.0V511.0H838.0zM839.0 505.2H840.0V510.7H839.0zM840.0 504.4H841.0V511.1H840.0zM841.0 505.3H842.0V511.4H841.0zM842.0 505.2H843.0V510.3H842.0zM843.0 505.3H844.0V510.5H843.0zM844.0 504.3H845.0V511.2H844.0zM845.0 505.2H846.0V510.4H845.0zM846.0 504.5H847.0V511.1H846.0zM847.0 505.2H848.0V510.4H847.0zM848.0 505.2H849.0V510.2H848.0zM849.0 504.7H850.0V511.4H849.0zM850.0 505.3H851.0V510.5H850.0zM851.0 504.4H852.0V510.3H851.0zM852.0 504.5H853.0V511.5H852.0zM853.0 505.3H854.0V511.1H853.0zM854.0 504.7H855.0V510.8H854.0zM855.0 504.5H856.0V510.9H855.0zM856.0 504.4H857.0V510.8H856.0zM857.0 504.4H858.0V510.3H857.0zM858.0 504.9H859.0V511.1H858.0zM859.0 505.3H860.0V510.9H859.0zM860.0 504.5H861.0V511.4H860.0zM861.0 504.2H862.0V511.1H861.0zM862.0 505.4H863.0V510.2H862.0zM863.0 505.3H864.0V510.7H863.0zM864.0 504.2H865.0V511.4H864.0zM865.0 504.2H866.0V511.2H865.0zM866.0 504.9H867.0V511.1H866.0zM867.0 505.2H868.0V510.9H867.0zM868.0 504.8H869.0V511.1H868.0zM869.0 504.3H870.0V511.4H869.0zM870.0 504.7H871.0V510.4H870.0zM871.0 505.4H872.0V510.5H871.0zM872.0 504.2H873.0V510.3H872.0zM873.0 504.7H874.0V511.3H873.0zM874.0 504.6H875.0V511.2H874.0zM875.0 504.5H876.0V511.0H875.0zM876.0 504.3H877.0V511.3H876.0zM877.0 505.4H878.0V511.5H877.0zM878.0 504.1H879.0V510.4H878.0zM879.0 504.8H880.0V510.7H879.0zM880.0 505.4H881.0V510.9H880.0zM881.0 504.4H882.0V510.8H881.0zM882.0 504.8H883.0V510.6H882.0zM883.0 504.3H884.0V511.0H883.0zM884.0 504.2H885.0V511.3H884.0zM885.0 505.1H886.0V510.7H885.0zM886.0 504.1H887.0V510.9H886.0zM887.0 505.1H888.0V510.6H887.0zM888.0 505.4H889.0V510.5H888.0zM889.0 504.4H890.0V511.1H889.0zM890.0 504.7H891.0V511.4H890.0zM891.0 505.1H892.0V510.6H891.0zM892.0 504.3H893.0V510.7H892.0zM893.0 505.0H894.0V511.2H893.0zM894.0 504.8H895.0V510.4H894.0zM895.0 504.2H896.0V510.6H895.0zM896.0 504.3H897.0V510.5H896.0zM897.0 504.3H898.0V510.6H897.0zM898.0 504.1H899.0V510.6H898.0zM899.0 505.0H900.0V510.3H899.0zM900.0 504.1H901.0V510.8H900.0zM901.0 505.0H902.0V510.3H901.0zM902.0 504.5H903.0V510.6H902.0zM903.0 504.6H904.0V510.9H903.0zM904.0 504.8H905.0V511.5H904.0zM905.0 504.9H906.0V510.6H905.0zM906.0 505.3H907.0V510.3H906.0zM907.0 505.1H908.0V510.6H907.0zM908.0 504.7H909.0V510.4H908.0zM909.0 504.8H910.0V511.1H909.0zM910.0 504.3H911.0V510.6H910.0zM911.0 505.2H912.0V510.8H911.0zM912.0 504.1H913.0V510.8H912.0zM913.0 504.1H914.0V510.5H913.0zM914.0 504.7H915.0V510.5H914.0zM915.0 505.1H916.0V510.3H915.0zM916.0 504.6H917.0V510.3H916.0zM917.0 504.1H918.0V511.4H917.0z" fill="#ff0000"/>
<path d="M800.0 529.7H801.0V536.0H800.0zM801.0 529.3H802.0V536.6H801.0zM802.0 529.8H803.0V536.4H802.0zM803.0 530.1H804.0V536.2H803.0zM804.0 529.8H805.0V536.3H804.0zM805.0 529.4H806.0V536.4H805.0zM806.0 530.4H807.0V536.3H806.0zM807.0 530.1H808.0V535.9H807.0zM808.0 530.5H809.0V535.5H808.0zM809.0 529.3H810.0V536.0H809.0zM810.0 529.6H811.0V536.0H810.0zM811.0 530.1H812.0V535.9H811.0zM812.0 530.0H813.0V536.3H812.0zM813.0 530.2H814.0V535.8H813.0zM814.0 530.4H815.0V535.5H814.0zM815.0 529.4H816.0V536.5H815.0zM816.0 530.2H817.0V535.6H816.0zM817.0 530.2H818.0V536.4H817.0zM818.0 530.1H819.0V536.1H818.0zM819.0 529.7H820.0V535.5H819.0zM820.0 529.8H821.0V536.8H820.0zM821.0 529.9H822.0V536.5H821.0zM822.0 530.2H823.0V536.1H822.0zM823.0 529.1H824.0V535.7H823.0zM824.0 530.0H825.0V536.2H824.0zM825.0 529.8H826.0V536.0H825.0zM826.0 529.8H827.0V535.8H826.0zM827.0 529.6H828.0V535.8H827.0zM828.0 530.4H829.0V536.5H828.0zM829.0 530.5H830.0V535.7H829.0zM830.0 530.4H831.0V536.2H830.0zM831.0 529.5H832.0V535.7H831.0zM832.0 529.3H833.0V536.1H832.0zM833.0 530.2H834.0V535.4H833.0zM834.0 529.6H835.0V536.5H834.0zM835.0 530.0H836.0V536.7H835.0zM836.0 529.9H837.0V535.5H836.0zM837.0 529.5H838.0V535.9H837.0zM838.0 529.3H839.0V536.4H838.0zM839.0 530.1H840.0V536.8H839.0zM840.0 530.2H841.0V535.6H840.0zM841.0 530.3H842.0V536.6H841.0zM842.0 529.3H843.0V535.7H842.0zM843.0 530.3H844.0V536.0H843.0zM844.0 529.8H845.0V536.7H844.0zM845.0 529.1H846.0V536.4H845.0zM846.0 529.5H847.0V535.9H846.0zM847.0 529.2H848.0V535.6H847.0zM848.0 529.1H849.0V536.2H848.0zM849.0 529.1H850.0V536.7H849.0zM850.0 529.5H851.0V536.5H850.0zM851.0 529.6H852.0V535.9H851.0zM852.0 530.2H853.0V536.4H852.0zM853.0 529.3H854.0V536.5H853.0zM854.0 529.3H855.0V536.6H854.0zM855.0 529.6H856.0V536.8H855.0zM856.0 529.6H857.0V536.3H856.0zM857.0 529.2H858.0V536.7H857.0zM858.0 530.2H859.0V535.5H858.0zM859.0 530.4H860.0V536.4H859.0zM860.0 529.8H861.0V535.9H860.0zM861.0 530.3H862.0V536.2H861.0zM862.0 529.4H863.0V535.5H862.0zM863.0 530.2H864.0V536.3H863.0zM864.0 529.1H865.0V536.8H864.0zM865.0 529.5H866.0V536.7H865.0zM866.0 529.2H867.0V536.8H866.0zM867.0 529.9H868.0V536.2H867.0zM868.0 529.8H869.0V535.6H868.0zM869.0 529.8H870.0V536.5H869.0zM870.0 530.2H871.0V535.9H870.0zM871.0 530.4H872.0V535.6H871.0zM872.0 529.3H873.0V536.5H872.0zM873.0 529.7H874.0V535.7H873.0zM874.0 529.3H875.0V536.7H874.0zM875.0 529.2H876.0V536.2H875.0zM876.0 530.3H877.0V535.6H876.0zM877.0 529.9H878.0V536.1H877.0zM878.0 529.6H879.0V535.9H878.0zM879.0 530.0H880.0V536.2H879.0zM880.0 529.4H881.0V535.7H880.0zM881.0 530.0H882.0V536.0H881.0zM882.0 529.6H883.0V536.1H882.0zM883.0 529.2H884.0V535.6H883.0zM884.0 530.4H885.0V536.3H884.0zM885.0 529.8H886.0V535.4H885.0zM886.0 530.0H887.0V535.5H886.0zM887.0 529.5H888.0V536.2H887.0zM888.0 530.0H889.0V535.6H888.0zM889.0 530.1H890.0V536.8H889.0zM890.0 530.2H891.0V536.0H890.0zM891.0 529.6H892.0V535.5H891.0zM892.0 529.8H893.0V535.4H892.0zM893.0 530.3H894.0V535.8H893.0zM894.0 529.7H895.0V536.3H894.0zM895.0 530.0H896.0V535.4H895.0zM896.0 529.2H897.0V536.6H896.0zM897.0 529.8H898.0V535.7H897.0zM898.0 530.2H899.0V536.1H898.0zM899.0 529.6H900.0V536.1H899.0zM900.0 530.5H901.0V535.9H900.0zM901.0 529.7H902.0V536.4H901.0zM902.0 530.3H903.0V536.2H902.0zM903.0 529.8H904.0V535.4H903.0zM904.0 529.4H905.0V536.0H904.0zM905.0 529.8H906.0V535.9H905.0zM906.0 529.6H907.0V536.3H906.0zM907.0 529.5H908.0V535.6H907.0zM908.0 529.2H909.0V536.8H908.0zM909.0 529.6H910.0V535.8H909.0zM910.0 529.1H911.0V535.5H910.0zM911.0 530.0H912.0V536.6H911.0zM912.0 530.0H913.0V535.7H912.0zM913.0 530.2H914.0V536.8H913.0zM914.0 530.2H915.0V536.7H914.0zM915.0 530.4H916.0V536.7H915.0zM916.0 530.2H917.0V536.1H916.0zM917.0 530.0H918.0V536.7H917.0zM918.0 530.2H919.0V536.2H918.0zM919.0 529.8H920.0V535.5H919.0zM920.0 529.2H921.0V536.1H920.0zM921.0 530.2H922.0V536.7H921.0zM922.0 530.4H923.0V535.8H922.0zM923.0 529.6H924.0V535.9H923.0zM924.0 529.4H925.0V536.3H924.0zM925.0 530.3H926.0V536.6H925.0zM926.0 530.2H927.0V536.5H926.0zM927.0 529.2H928.0V536.2H927.0zM928.0 529.9H929.0V536.7H928.0zM929.0 529.4H930.0V536.5H929.0zM930.0 529.7H931.0V536.3H930.0zM931.0 529.6H932.0V535.9H931.0zM932.0 530.1H933.0V536.4H932.0zM933.0 530.4H934.0V536.6H933.0zM934.0 529.7H935.0V535.7H934.0zM935.0 530.3H936.0V536.6H935.0zM803.7 530.0H805.3V542.3H803.7zM866.7 530.0H868.3V542.8H866.7zM881.7 525.8H883.3V536.0H881.7zM896.7 530.0H898.3V544.0H896.7zM929.2 530.0H930.8V541.3H929.2zM1557.2 523.0H1558.8V536.0H1557.2zM1075.2 528.0H1076.8V536.0H1075.2zM1185.2 528.0H1186.8V536.0H1185.2z" fill="#0000ff"/>
<path d="M230.0 554.6H231.0V562.0H230.0zM231.0 554.1H232.0V562.7H231.0zM232.0 554.6H233.0V562.5H232.0zM233.0 554.5H234.0V561.4H233.0zM234.0 554.0H235.0V562.2H234.0zM235.0 553.7H236.0V562.1H235.0zM236.0 554.4H237.0V561.5H236.0zM237.0 553.3H238.0V561.5H237.0zM238.0 554.0H239.0V561.4H238.0zM239.0 553.3H240.0V562.9H239.0zM240.0 553.2H241.0V563.0H240.0zM241.0 554.5H242.0V562.2H241.0zM242.0 553.5H243.0V562.6H242.0zM243.0 553.2H244.0V561.7H243.0zM244.0 553.2H245.0V561.7H244.0zM245.0 553.5H246.0V561.4H245.0zM246.0 554.2H247.0V562.5H246.0zM247.0 553.5H248.0V562.3H247.0zM248.0 553.3H249.0V561.7H248.0zM249.0 553.9H250.0V562.5H249.0zM250.0 553.7H251.0V562.3H250.0zM251.0 554.8H252.0V562.2H251.0zM252.0 553.8H253.0V562.0H252.0zM253.0 554.3H254.0V561.5H253.0zM254.0 553.7H255.0V563.0H254.0zM255.0 553.2H256.0V561.6H255.0zM256.0 553.5H257.0V562.5H256.0zM257.0 554.1H258.0V561.8H257.0zM258.0 553.6H259.0V562.7H258.0zM259.0 553.8H260.0V562.2H259.0zM260.0 554.8H261.0V561.3H260.0zM261.0 554.9H262.0V562.7H261.0zM262.0 554.2H263.0V561.9H262.0zM263.0 554.0H264.0V561.3H263.0zM264.0 554.1H265.0V562.7H264.0zM265.0 554.2H266.0V561.8H265.0zM266.0 553.8H267.0V562.5H266.0zM267.0 554.6H268.0V562.9H267.0zM268.0 553.3H269.0V562.4H268.0zM269.0 553.9H270.0V561.9H269.0zM270.0 553.7H271.0V561.9H270.0zM271.0 554.9H272.0V562.5H271.0zM272.0 553.9H273.0V562.8H272.0zM273.0 554.2H274.0V563.0H273.0zM274.0 554.2H275.0V563.1H274.0zM275.0 554.5H276.0V562.8H275.0zM276.0 554.1H277.0V562.8H276.0zM490.0 554.1H491.0V561.4H490.0zM491.0 553.7H492.0V561.5H491.0zM492.0 554.9H493.0V561.4H492.0zM493.0 553.4H494.0V562.5H493.0zM494.0 553.6H495.0V562.8H494.0zM495.0 554.0H496.0V561.5H495.0zM496.0 553.9H497.0V562.0H496.0zM497.0 554.7H498.0V562.3H497.0zM498.0 554.1H499.0V561.9H498.0zM499.0 553.3H500.0V561.5H499.0zM500.0 553.6H501.0V562.8H500.0zM501.0 553.3H502.0V561.4H501.0zM502.0 554.5H503.0V562.6H502.0zM503.0 554.3H504.0V562.9H503.0zM504.0 553.4H505.0V562.8H504.0zM505.0 554.0H506.0V561.6H505.0zM506.0 554.9H507.0V562.5H506.0zM507.0 554.7H508.0V561.4H507.0zM508.0 553.6H509.0V561.6H508.0zM509.0 553.9H510.0V561.4H509.0zM510.0 553.8H511.0V561.7H510.0zM511.0 554.6H512.0V561.4H511.0zM512.0 553.2H513.0V561.6H512.0zM513.0 554.5H514.0V562.4H513.0zM514.0 554.1H515.0V562.0H514.0zM515.0 554.8H516.0V562.8H515.0zM516.0 553.5H517.0V562.1H516.0zM517.0 554.1H518.0V562.2H517.0zM518.0 553.9H519.0V562.4H518.0zM519.0 553.4H520.0V562.7H519.0zM520.0 554.7H521.0V561.3H520.0zM720.0 554.4H721.0V561.8H720.0zM721.0 553.2H722.0V561.7H721.0zM722.0 553.2H723.0V562.0H722.0zM723.0 554.3H724.0V563.0H723.0zM724.0 554.7H725.0V561.7H724.0zM725.0 553.3H726.0V562.7H725.0zM726.0 554.6H727.0V562.7H726.0zM727.0 553.9H728.0V563.0H727.0zM728.0 553.8H729.0V562.4H728.0zM729.0 553.7H730.0V562.1H729.0zM730.0 553.7H731.0V561.4H730.0zM731.0 554.2H732.0V562.6H731.0zM732.0 553.7H733.0V561.3H732.0zM733.0 554.7H734.0V562.0H733.0zM734.0 554.9H735.0V562.0H734.0zM735.0 553.9H736.0V561.8H735.0zM736.0 553.8H737.0V561.3H736.0zM737.0 554.5H738.0V561.3H737.0zM738.0 554.5H739.0V562.4H738.0zM739.0 553.9H740.0V562.3H739.0zM740.0 554.5H741.0V561.9H740.0zM741.0 554.5H742.0V562.7H741.0zM742.0 553.8H743.0V562.4H742.0zM743.0 553.8H744.0V562.1H743.0zM744.0 553.7H745.0V562.2H744.0zM745.0 554.7H746.0V562.6H745.0zM746.0 554.7H747.0V562.9H746.0zM747.0 553.4H748.0V561.7H747.0zM748.0 553.4H749.0V561.7H748.0zM749.0 554.2H750.0V562.9H749.0zM750.0 554.5H751.0V562.6H750.0zM751.0 554.7H752.0V562.0H751.0zM752.0 553.3H753.0V562.6H752.0zM753.0 554.4H754.0V562.8H753.0zM754.0 554.9H755.0V561.8H754.0zM755.0 553.9H756.0V561.9H755.0zM756.0 553.9H757.0V561.4H756.0zM757.0 553.4H758.0V561.9H757.0zM758.0 553.5H759.0V561.8H758.0zM759.0 553.2H760.0V562.5H759.0zM760.0 553.9H761.0V562.2H760.0zM761.0 553.5H762.0V562.2H761.0zM762.0 554.6H763.0V562.9H762.0zM763.0 553.8H764.0V561.7H763.0zM764.0 553.8H765.0V561.5H764.0zM765.0 554.9H766.0V562.6H765.0zM915.0 553.5H916.0V562.8H915.0zM916.0 554.1H917.0V562.2H916.0zM917.0 554.9H918.0V562.0H917.0zM918.0 553.5H919.0V562.7H918.0zM919.0 553.3H920.0V561.4H919.0zM920.0 554.1H921.0V561.7H920.0zM921.0 554.4H922.0V561.4H921.0zM922.0 554.9H923.0V562.8H922.0zM923.0 554.9H924.0V562.3H923.0zM924.0 553.5H925.0V561.4H924.0zM925.0 554.1H926.0V562.5H925.0zM970.0 554.5H971.0V562.7H970.0zM971.0 554.2H972.0V562.8H971.0zM972.0 554.1H973.0V561.7H972.0zM973.0 553.4H974.0V562.6H973.0zM974.0 553.9H975.0V561.4H974.0zM975.0 553.4H976.0V562.8H975.0zM976.0 554.4H977.0V562.0H976.0zM977.0 554.4H978.0V562.3H977.0zM978.0 554.7H979.0V562.2H978.0zM979.0 554.7H980.0V562.6H979.0zM980.0 554.9H981.0V562.5H980.0zM981.0 554.8H982.0V561.6H981.0zM982.0 553.8H983.0V562.4H982.0zM983.0 553.8H984.0V562.6H983.0zM984.0 554.2H985.0V562.2H984.0zM985.0 554.7H986.0V561.8H985.0zM986.0 554.3H987.0V561.3H986.0zM987.0 553.7H988.0V561.8H987.0zM988.0 553.5H989.0V563.1H988.0zM989.0 554.8H990.0V561.8H989.0zM990.0 553.6H991.0V562.2H990.0zM991.0 554.7H992.0V561.7H991.0zM992.0 554.8H993.0V561.4H992.0zM993.0 554.7H994.0V561.8H993.0zM994.0 554.2H995.0V561.5H994.0zM995.0 554.7H996.0V562.5H995.0zM1206.0 554.8H1207.0V561.3H1206.0zM1207.0 554.4H1208.0V562.5H1207.0zM1208.0 554.0H1209.0V561.6H1208.0zM1209.0 553.6H1210.0V562.3H1209.0zM1210.0 554.1H1211.0V561.3H1210.0zM1211.0 554.9H1212.0V561.8H1211.0zM1212.0 553.4H1213.0V562.4H1212.0zM1213.0 553.3H1214.0V561.8H1213.0zM1214.0 554.8H1215.0V561.7H1214.0zM1215.0 553.9H1216.0V561.5H1215.0zM1216.0 554.4H1217.0V561.5H1216.0zM1217.0 553.7H1218.0V562.9H1217.0zM1218.0 553.3H1219.0V562.1H1218.0zM1219.0 553.2H1220.0V562.3H1219.0zM1220.0 553.8H1221.0V563.0H1220.0zM1221.0 553.7H1222.0V562.0H1221.0zM1222.0 553.8H1223.0V562.2H1222.0zM1223.0 553.7H1224.0V562.3H1223.0zM1224.0 554.1H1225.0V562.4H1224.0zM1225.0 553.6H1226.0V562.2H1225.0zM1226.0 554.5H1227.0V561.6H1226.0zM1227.0 553.9H1228.0V561.7H1227.0zM1228.0 554.0H1229.0V563.0H1228.0zM1229.0 553.7H1230.0V561.8H1229.0zM1230.0 554.9H1231.0V561.6H1230.0zM1231.0 553.2H1232.0V561.7H1231.0zM1232.0 554.9H1233.0V562.0H1232.0zM1233.0 553.8H1234.0V561.3H1233.0zM1234.0 554.2H1235.0V561.6H1234.0zM1235.0 553.5H1236.0V562.4H1235.0zM1455.0 553.7H1456.0V561.9H1455.0zM1456.0 554.4H1457.0V562.2H1456.0zM1457.0 553.5H1458.0V562.4H1457.0zM1458.0 554.9H1459.0V561.5H1458.0zM1459.0 553.3H1460.0V563.0H1459.0zM1460.0 553.8H1461.0V562.1H1460.0zM1461.0 554.0H1462.0V562.1H1461.0zM1462.0 554.6H1463.0V562.4H1462.0zM1463.0 554.7H1464.0V562.6H1463.0zM1464.0 554.6H1465.0V562.9H1464.0zM1465.0 553.5H1466.0V562.7H1465.0zM1466.0 554.9H1467.0V562.5H1466.0zM1467.0 554.6H1468.0V562.8H1467.0zM1468.0 553.6H1469.0V563.0H1468.0zM1469.0 554.3H1470.0V562.3H1469.0zM1470.0 553.8H1471.0V563.0H1470.0zM1471.0 555.0H1472.0V562.3H1471.0zM1472.0 554.5H1473.0V562.4H1472.0zM1473.0 554.2H1474.0V563.0H1473.0zM1474.0 554.1H1475.0V562.9H1474.0zM1475.0 553.6H1476.0V561.9H1475.0zM1476.0 554.7H1477.0V562.7H1476.0zM1477.0 554.5H1478.0V562.9H1477.0zM1478.0 554.3H1479.0V561.8H1478.0zM1479.0 553.3H1480.0V562.0H1479.0zM1480.0 554.4H1481.0V562.4H1480.0zM1481.0 553.4H1482.0V561.8H1481.0zM1482.0 553.7H1483.0V562.1H1482.0zM1655.2 555.1H1656.8V563.3H1655.2z" fill="#008000"/>
<path d="M230.0 578.6H231.0V587.3H230.0zM231.0 579.6H232.0V588.2H231.0zM232.0 579.6H233.0V587.6H232.0zM233.0 578.8H234.0V587.8H233.0zM234.0 578.3H235.0V587.6H234.0zM235.0 578.0H236.0V588.2H235.0zM236.0 579.7H237.0V588.5H236.0zM237.0 578.5H238.0V588.2H237.0zM238.0 578.3H239.0V588.5H238.0zM239.0 579.3H240.0V587.4H239.0zM240.0 579.0H241.0V588.6H240.0zM241.0 579.4H242.0V588.0H241.0zM242.0 578.3H243.0V588.6H242.0zM243.0 577.9H244.0V588.3H243.0zM244.0 578.3H245.0V588.1H244.0zM245.0 578.2H246.0V588.5H245.0zM246.0 578.8H247.0V587.3H246.0zM247.0 578.6H248.0V588.3H247.0zM248.0 577.8H249.0V587.7H248.0zM249.0 577.8H250.0V588.6H249.0zM250.0 578.1H251.0V587.9H250.0zM251.0 579.0H252.0V587.7H251.0zM252.0 578.5H253.0V587.2H252.0zM253.0 579.0H254.0V587.4H253.0zM254.0 577.8H255.0V588.2H254.0zM255.0 579.3H256.0V588.3H255.0zM256.0 578.0H257.0V588.7H256.0zM257.0 578.0H258.0V588.5H257.0zM258.0 579.6H259.0V588.0H258.0zM259.0 579.6H260.0V586.8H259.0zM260.0 578.5H261.0V587.7H260.0zM261.0 578.7H262.0V587.4H261.0zM262.0 579.6H263.0V588.1H262.0zM263.0 579.6H264.0V587.2H263.0zM264.0 579.5H265.0V588.6H264.0zM265.0 579.3H266.0V587.1H265.0zM266.0 579.0H267.0V588.0H266.0zM267.0 579.6H268.0V588.7H267.0zM268.0 577.8H269.0V587.3H268.0zM269.0 578.5H270.0V587.4H269.0zM270.0 578.4H271.0V588.0H270.0zM271.0 579.5H272.0V587.0H271.0zM272.0 578.7H273.0V587.3H272.0zM490.0 579.4H491.0V587.4H490.0zM491.0 578.6H492.0V587.0H491.0zM492.0 578.5H493.0V587.8H492.0zM493.0 579.2H494.0V587.3H493.0zM494.0 578.3H495.0V588.3H494.0zM495.0 577.8H496.0V587.4H495.0zM496.0 579.2H497.0V587.7H496.0zM497.0 578.8H498.0V588.7H497.0zM498.0 579.2H499.0V588.0H498.0zM499.0 578.7H500.0V587.4H499.0zM500.0 579.5H501.0V588.5H500.0zM501.0 578.3H502.0V586.9H501.0zM502.0 578.2H503.0V587.1H502.0zM503.0 578.6H504.0V587.2H503.0zM504.0 578.6H505.0V587.5H504.0zM505.0 579.7H506.0V588.6H505.0zM506.0 579.3H507.0V587.4H506.0zM507.0 577.8H508.0V587.4H507.0zM508.0 578.0H509.0V588.7H508.0zM509.0 578.6H510.0V587.6H509.0zM510.0 578.0H511.0V588.5H510.0zM511.0 579.4H512.0V588.0H511.0zM512.0 578.2H513.0V588.0H512.0zM513.0 578.1H514.0V587.0H513.0zM514.0 577.8H515.0V586.8H514.0zM515.0 579.6H516.0V587.8H515.0zM583.0 579.4H584.0V587.7H583.0zM584.0 578.7H585.0V588.7H584.0zM585.0 579.0H586.0V587.1H585.0zM586.0 578.5H587.0V587.5H586.0zM587.0 578.2H588.0V587.0H587.0zM588.0 578.8H589.0V587.2H588.0zM740.0 579.0H741.0V588.1H740.0zM741.0 579.4H742.0V588.6H741.0zM742.0 579.1H743.0V587.7H742.0zM743.0 578.8H744.0V588.1H743.0zM744.0 578.7H745.0V588.2H744.0zM745.0 578.9H746.0V588.1H745.0zM746.0 579.0H747.0V587.9H746.0zM747.0 577.8H748.0V588.4H747.0zM748.0 578.0H749.0V587.1H748.0zM749.0 578.1H750.0V587.7H749.0zM750.0 579.2H751.0V587.6H750.0zM751.0 578.0H752.0V587.1H751.0zM752.0 579.7H753.0V588.1H752.0zM753.0 578.0H754.0V587.5H753.0zM754.0 577.9H755.0V588.0H754.0zM755.0 578.6H756.0V588.3H755.0zM756.0 579.0H757.0V587.7H756.0zM757.0 579.1H758.0V587.2H757.0zM758.0 578.1H759.0V587.1H758.0zM759.0 578.8H760.0V588.6H759.0zM760.0 579.6H761.0V586.8H760.0zM761.0 579.7H762.0V586.9H761.0zM762.0 578.2H763.0V587.8H762.0zM763.0 578.9H764.0V586.9H763.0zM764.0 578.0H765.0V587.5H764.0zM1000.0 578.0H1001.0V587.2H1000.0zM1001.0 578.0H1002.0V587.0H1001.0zM1002.0 577.9H1003.0V586.9H1002.0zM1003.0 578.3H1004.0V586.9H1003.0zM1004.0 579.7H1005.0V588.6H1004.0zM1005.0 579.6H1006.0V588.7H1005.0zM1006.0 579.7H1007.0V588.6H1006.0zM1007.0 578.4H1008.0V588.6H1007.0zM1008.0 579.7H1009.0V587.7H1008.0zM1009.0 578.1H1010.0V588.4H1009.0zM1010.0 578.1H1011.0V588.3H1010.0zM1011.0 578.3H1012.0V587.8H1011.0zM1012.0 577.9H1013.0V588.5H1012.0zM1013.0 578.2H1014.0V586.9H1013.0zM1014.0 578.8H1015.0V587.1H1014.0zM1015.0 577.9H1016.0V586.9H1015.0zM1016.0 578.5H1017.0V588.5H1016.0zM1017.0 579.6H1018.0V588.3H1017.0zM1018.0 579.2H1019.0V588.4H1018.0zM1019.0 578.1H1020.0V587.9H1019.0zM1020.0 579.0H1021.0V587.3H1020.0zM1021.0 577.9H1022.0V588.7H1021.0zM1022.0 579.3H1023.0V588.5H1022.0zM1023.0 577.9H1024.0V588.4H1023.0zM1024.0 578.8H1025.0V586.8H1024.0zM1025.0 577.8H1026.0V586.9H1025.0zM1275.0 578.8H1276.0V588.5H1275.0zM1276.0 577.9H1277.0V586.8H1276.0zM1277.0 577.9H1278.0V587.9H1277.0zM1278.0 577.8H1279.0V587.2H1278.0zM1279.0 578.2H1280.0V587.3H1279.0zM1280.0 578.7H1281.0V587.8H1280.0zM1281.0 579.2H1282.0V587.5H1281.0zM1282.0 579.5H1283.0V587.5H1282.0zM1283.0 579.2H1284.0V588.4H1283.0zM1284.0 578.9H1285.0V588.2H1284.0zM1285.0 578.3H1286.0V588.7H1285.0zM1286.0 578.2H1287.0V588.3H1286.0zM1287.0 579.4H1288.0V587.8H1287.0zM1288.0 579.3H1289.0V588.4H1288.0zM1289.0 579.2H1290.0V587.6H1289.0zM1290.0 579.1H1291.0V588.0H1290.0zM1291.0 578.2H1292.0V586.8H1291.0zM1292.0 578.3H1293.0V587.2H1292.0zM1293.0 578.3H1294.0V587.7H1293.0zM1294.0 578.2H1295.0V587.3H1294.0zM1295.0 579.5H1296.0V587.7H1295.0zM1296.0 578.9H1297.0V588.7H1296.0zM1297.0 578.6H1298.0V587.1H1297.0zM1298.0 579.0H1299.0V587.1H1298.0zM1299.0 579.6H1300.0V587.4H1299.0zM1300.0 578.1H1301.0V587.5H1300.0zM1301.0 579.2H1302.0V588.7H1301.0zM1302.0 578.2H1303.0V586.9H1302.0zM1303.0 578.5H1304.0V588.1H1303.0zM1304.0 578.4H1305.0V587.6H1304.0zM1305.0 578.2H1306.0V586.9H1305.0zM1306.0 579.2H1307.0V588.1H1306.0zM1307.0 579.1H1308.0V586.9H1307.0zM1308.0 578.2H1309.0V588.2H1308.0zM1309.0 578.8H1310.0V588.0H1309.0zM1310.0 579.2H1311.0V586.8H1310.0zM1311.0 578.1H1312.0V588.2H1311.0zM1312.0 579.5H1313.0V588.5H1312.0zM1461.0 579.2H1462.0V587.0H1461.0zM1462.0 578.4H1463.0V587.1H1462.0zM1463.0 579.0H1464.0V587.8H1463.0zM1464.0 579.7H1465.0V588.7H1464.0zM1465.0 579.4H1466.0V587.8H1465.0zM1466.0 578.4H1467.0V587.1H1466.0zM1467.0 578.3H1468.0V587.3H1467.0zM1468.0 579.6H1469.0V587.1H1468.0zM1469.0 578.6H1470.0V588.5H1469.0zM1470.0 579.6H1471.0V588.1H1470.0zM1471.0 578.9H1472.0V586.9H1471.0zM1472.0 579.2H1473.0V588.5H1472.0zM1473.0 578.1H1474.0V586.9H1473.0zM1474.0 578.5H1475.0V587.5H1474.0zM1475.0 578.1H1476.0V586.8H1475.0zM1476.0 578.6H1477.0V587.2H1476.0zM1477.0 578.2H1478.0V587.8H1477.0zM600.0 579.1H601.0V587.2H600.0zM601.0 579.0H602.0V587.8H601.0zM602.0 580.4H603.0V587.4H602.0zM603.0 580.5H604.0V587.6H603.0zM604.0 579.9H605.0V586.3H604.0zM605.0 578.8H606.0V587.0H605.0zM606.0 579.2H607.0V586.2H606.0zM607.0 580.6H608.0V587.1H607.0zM608.0 579.0H609.0V586.9H608.0zM609.0 580.0H610.0V586.9H609.0zM610.0 580.3H611.0V586.2H610.0zM611.0 580.0H612.0V587.0H611.0zM612.0 579.7H613.0V585.9H612.0zM613.0 579.7H614.0V586.1H613.0zM614.0 579.7H615.0V587.4H614.0zM615.0 580.0H616.0V587.5H615.0zM616.0 578.9H617.0V587.1H616.0zM617.0 580.3H618.0V586.0H617.0zM618.0 580.4H619.0V587.3H618.0zM619.0 579.5H620.0V586.3H619.0zM620.0 580.6H621.0V586.9H620.0zM621.0 579.8H622.0V586.6H621.0zM622.0 579.8H623.0V586.2H622.0zM623.0 578.9H624.0V586.1H623.0zM624.0 580.5H625.0V587.1H624.0zM625.0 580.2H626.0V587.5H625.0zM626.0 578.9H627.0V587.6H626.0zM627.0 579.5H628.0V586.2H627.0zM628.0 580.5H629.0V586.2H628.0zM629.0 580.5H630.0V587.0H629.0zM604.2 576.2H605.8V587.2H604.2zM613.2 573.2H614.8V587.2H613.2zM621.2 577.2H622.8V588.2H621.2zM646.2 576.2H647.8V586.2H646.2zM342.2 577.0H343.8V586.2H342.2zM347.5 580.2H349.1V588.5H347.5zM270.0 580.2H271.6V587.9H270.0zM1490.2 576.2H1491.8V586.2H1490.2zM1616.2 580.2H1617.8V587.9H1616.2z" fill="#000000"/>
<path d="M495.2 605.4H496.8V624.1H495.2zM748.0 597.4H749.5V611.4H748.0zM720.0 605.5H721.0V612.4H720.0zM721.0 606.0H722.0V611.5H721.0zM722.0 604.4H723.0V611.3H722.0zM723.0 606.0H724.0V610.7H723.0zM724.0 605.9H725.0V611.3H724.0zM725.0 604.5H726.0V612.3H725.0zM726.0 604.9H727.0V611.8H726.0zM727.0 605.2H728.0V611.2H727.0zM728.0 605.4H729.0V612.2H728.0zM729.0 604.9H730.0V610.7H729.0zM730.0 604.8H731.0V611.7H730.0zM731.0 604.4H732.0V611.7H731.0zM732.0 605.4H733.0V612.0H732.0zM733.0 604.5H734.0V612.0H733.0zM734.0 605.2H735.0V612.4H734.0zM735.0 605.7H736.0V612.2H735.0zM736.0 605.0H737.0V611.0H736.0zM737.0 604.9H738.0V611.5H737.0zM738.0 605.1H739.0V610.8H738.0zM739.0 606.0H740.0V612.3H739.0zM740.0 605.3H741.0V611.4H740.0zM741.0 606.0H742.0V610.9H741.0zM742.0 604.9H743.0V611.2H742.0zM743.0 605.8H744.0V610.9H743.0zM744.0 604.8H745.0V610.7H744.0zM745.0 605.5H746.0V610.7H745.0zM746.0 605.5H747.0V611.4H746.0zM747.0 605.4H748.0V611.2H747.0zM748.0 605.5H749.0V610.7H748.0zM749.0 605.7H750.0V611.5H749.0zM750.0 605.9H751.0V611.6H750.0zM751.0 606.0H752.0V612.1H751.0zM1124.2 605.4H1125.8V612.4H1124.2zM1194.2 604.4H1195.8V612.4H1194.2zM1397.7 601.4H1399.3V611.4H1397.7zM1607.2 604.4H1608.8V612.4H1607.2zM1623.2 604.4H1624.8V612.4H1623.2z" fill="#ff0000"/>
<path d="M239.7 627.5H241.3V640.0H239.7zM945.0 630.8H946.0V637.1H945.0zM946.0 628.7H947.0V638.5H946.0zM947.0 629.5H948.0V638.0H947.0zM948.0 629.3H949.0V637.2H948.0zM949.0 629.6H950.0V638.3H949.0zM950.0 629.1H951.0V638.2H950.0zM951.0 628.5H952.0V637.9H951.0z" fill="#0000ff"/>
<path d="M571.2 648.4H572.8V664.2H571.2zM261.7 654.7H263.3V661.7H261.7zM316.7 654.7H318.3V661.7H316.7zM741.7 655.7H743.3V664.2H741.7zM1150.0 655.5H1151.0V662.7H1150.0zM1151.0 654.6H1152.0V662.5H1151.0zM1152.0 654.8H1153.0V661.8H1152.0zM1153.0 655.9H1154.0V661.8H1153.0zM1154.0 655.0H1155.0V662.5H1154.0zM1155.0 655.5H1156.0V661.6H1155.0zM1156.0 655.6H1157.0V661.8H1156.0zM1157.0 654.9H1158.0V662.5H1157.0zM1158.0 655.4H1159.0V661.8H1158.0zM1159.0 655.5H1160.0V662.7H1159.0zM1160.0 655.5H1161.0V662.6H1160.0zM1161.0 656.0H1162.0V662.5H1161.0zM1162.0 654.8H1163.0V661.5H1162.0zM1163.0 655.4H1164.0V661.5H1163.0zM1164.0 655.4H1165.0V662.6H1164.0zM1165.0 655.9H1166.0V661.9H1165.0zM1166.0 655.0H1167.0V662.2H1166.0zM1167.0 655.2H1168.0V661.4H1167.0zM1168.0 655.4H1169.0V662.8H1168.0zM1169.0 654.6H1170.0V662.0H1169.0zM1170.0 655.5H1171.0V661.7H1170.0zM1171.0 655.6H1172.0V661.7H1171.0zM1172.0 654.6H1173.0V662.6H1172.0zM1173.0 655.1H1174.0V662.4H1173.0zM1174.0 655.4H1175.0V662.4H1174.0zM1175.0 655.7H1176.0V661.5H1175.0zM1176.0 655.0H1177.0V661.5H1176.0zM1177.0 655.8H1178.0V661.6H1177.0zM1178.0 654.6H1179.0V661.7H1178.0zM1179.0 654.9H1180.0V662.7H1179.0zM1180.0 655.9H1181.0V661.5H1180.0zM1181.0 655.4H1182.0V662.0H1181.0zM1182.0 655.2H1183.0V662.2H1182.0zM1183.0 654.8H1184.0V662.1H1183.0zM1184.0 655.1H1185.0V662.5H1184.0zM1185.0 654.5H1186.0V661.5H1185.0zM1186.0 654.7H1187.0V662.3H1186.0zM1187.0 655.4H1188.0V661.8H1187.0zM1188.0 655.2H1189.0V661.7H1188.0zM1189.0 654.8H1190.0V662.2H1189.0zM1190.0 655.9H1191.0V661.4H1190.0zM1191.0 654.6H1192.0V662.4H1191.0zM1192.0 655.2H1193.0V662.4H1192.0zM1193.0 655.7H1194.0V661.8H1193.0zM1194.0 654.9H1195.0V662.5H1194.0zM1195.0 654.9H1196.0V662.5H1195.0zM1196.0 655.8H1197.0V662.5H1196.0zM1197.0 655.9H1198.0V662.1H1197.0zM1198.0 655.4H1199.0V661.8H1198.0zM1199.0 655.0H1200.0V662.0H1199.0zM1200.0 654.5H1201.0V662.3H1200.0zM1395.0 655.0H1396.0V661.6H1395.0zM1396.0 655.7H1397.0V662.5H1396.0zM1397.0 655.4H1398.0V661.5H1397.0zM1398.0 655.8H1399.0V662.0H1398.0zM1399.0 655.8H1400.0V661.7H1399.0zM1400.0 654.7H1401.0V662.1H1400.0zM1401.0 655.7H1402.0V661.5H1401.0zM1402.0 655.9H1403.0V661.7H1402.0zM1403.0 655.1H1404.0V662.3H1403.0zM1404.0 654.7H1405.0V662.6H1404.0zM1405.0 655.3H1406.0V662.8H1405.0zM1406.0 655.0H1407.0V662.2H1406.0zM1407.0 655.2H1408.0V662.0H1407.0zM1408.0 654.7H1409.0V661.6H1408.0zM1409.0 654.5H1410.0V661.5H1409.0zM1410.0 655.9H1411.0V661.9H1410.0zM1411.0 655.8H1412.0V661.5H1411.0zM1412.0 654.7H1413.0V661.8H1412.0zM1413.0 654.6H1414.0V662.0H1413.0zM1414.0 655.4H1415.0V662.0H1414.0zM1415.0 654.8H1416.0V661.7H1415.0zM1416.0 655.4H1417.0V662.9H1416.0zM1417.0 655.4H1418.0V662.2H1417.0zM1418.0 654.5H1419.0V662.3H1418.0zM1419.0 655.1H1420.0V661.8H1419.0zM1420.0 655.4H1421.0V662.9H1420.0zM1421.0 655.4H1422.0V661.4H1421.0zM1422.0 655.9H1423.0V661.6H1422.0zM1423.0 656.0H1424.0V662.1H1423.0zM1424.0 654.6H1425.0V661.8H1424.0zM1425.0 655.5H1426.0V662.7H1425.0zM1426.0 654.7H1427.0V662.7H1426.0zM1427.0 655.4H1428.0V662.6H1427.0zM1428.0 654.6H1429.0V661.4H1428.0zM1429.0 655.6H1430.0V662.2H1429.0zM1430.0 654.5H1431.0V662.6H1430.0zM1431.0 654.8H1432.0V662.6H1431.0zM1432.0 654.9H1433.0V661.4H1432.0zM1433.0 654.8H1434.0V661.6H1433.0zM1434.0 655.8H1435.0V662.4H1434.0zM1435.0 655.6H1436.0V662.1H1435.0zM1436.0 655.2H1437.0V662.0H1436.0zM1437.0 655.2H1438.0V662.1H1437.0zM1438.0 655.0H1439.0V662.3H1438.0zM1439.0 655.7H1440.0V662.4H1439.0zM1440.0 655.8H1441.0V662.1H1440.0z" fill="#008000"/>
<path d="M1194.0 680.8H1195.6V695.4H1194.0zM1211.0 677.4H1212.6V686.8H1211.0zM1519.9 672.2H1521.5V688.1H1519.9zM1620.0 680.1H1621.0V687.4H1620.0zM1621.0 680.0H1622.0V688.6H1621.0zM1622.0 679.6H1623.0V687.1H1622.0zM1623.0 679.1H1624.0V688.4H1623.0zM1624.0 679.5H1625.0V687.4H1624.0zM1625.0 679.2H1626.0V687.7H1625.0zM1626.0 678.9H1627.0V687.8H1626.0zM1627.0 679.7H1628.0V687.8H1627.0z" fill="#000000"/>
<path d="M271.2 703.0H272.8V715.0H271.2zM582.2 705.0H583.8V713.0H582.2zM926.0 698.6H928.0V720.2H926.0zM928.0 705.5H929.0V717.0H928.0zM928.9 702.8H931.0V715.6H928.9zM931.0 705.0H932.0V714.5H931.0zM933.0 703.4H934.0V713.2H933.0zM934.0 704.3H935.0V715.4H934.0zM935.0 705.5H935.8V714.3H935.0zM936.0 706.0H938.0V713.5H936.0zM940.9 699.7H942.7V716.7H940.9zM943.3 703.9H944.3V712.4H943.3zM944.3 704.8H945.3V713.9H944.3zM945.3 704.2H946.0V714.3H945.3zM946.0 698.4H947.8V713.5H946.0z" fill="#ff0000"/>
<path d="M524.0 729.0H525.7V743.9H524.0zM525.7 724.7H527.8V740.5H525.7zM527.8 730.1H529.0V740.5H527.8zM529.0 730.1H531.0V742.9H529.0zM543.8 729.3H544.8V737.6H543.8zM544.8 730.2H545.8V740.2H544.8zM545.8 731.1H546.5V738.8H545.8zM546.5 725.8H548.6V743.4H546.5zM548.6 727.1H550.7V738.6H548.6zM550.7 727.1H552.9V743.1H550.7zM343.0 730.0H344.0V736.4H343.0zM344.0 728.4H345.0V737.1H344.0zM345.0 729.3H346.0V736.4H345.0zM346.0 727.5H346.7V736.7H346.0zM1386.3 727.7H1387.3V739.1H1386.3zM1387.3 728.3H1388.3V737.4H1387.3zM1388.3 729.0H1389.0V737.3H1388.3zM1393.0 724.7H1394.7V738.1H1393.0zM1395.0 729.0H1396.0V741.0H1395.0zM1396.0 725.4H1397.0V741.7H1396.0zM1397.0 726.5H1397.7V740.1H1397.0zM1398.3 729.3H1399.3V740.4H1398.3zM1399.3 730.2H1400.3V738.6H1399.3zM1400.3 727.4H1401.3V742.1H1400.3zM1401.3 729.2H1401.7V741.7H1401.3zM1402.0 730.1H1403.0V736.4H1402.0zM1403.0 730.8H1404.0V738.1H1403.0zM1404.0 731.6H1405.0V737.1H1404.0zM1405.0 725.4H1406.7V744.1H1405.0zM1409.0 724.1H1410.0V741.7H1409.0zM1410.0 724.1H1411.0V741.4H1410.0zM1411.0 727.0H1411.7V740.3H1411.0zM1411.7 724.1H1413.0V739.6H1411.7zM1414.3 724.7H1415.7V739.6H1414.3z" fill="#0000ff"/>
<path d="M298.0 756.5H299.0V763.2H298.0zM299.0 755.3H300.0V765.8H299.0zM300.0 755.2H301.0V764.7H300.0zM301.0 756.5H302.0V765.2H301.0zM302.0 754.3H303.0V764.7H302.0zM303.0 754.3H304.0V765.9H303.0zM304.0 755.7H305.0V766.3H304.0zM305.0 756.3H305.3V764.8H305.0zM299.0 750.3H300.7V772.0H299.0zM303.0 745.3H305.0V767.0H303.0zM318.7 756.3H319.7V764.0H318.7zM322.0 754.9H323.0V762.0H322.0zM323.0 754.4H324.0V764.3H323.0zM324.0 754.5H325.0V763.8H324.0zM325.0 756.1H326.0V762.0H325.0zM326.0 754.3H327.0V764.1H326.0zM327.0 756.4H328.0V762.7H327.0zM328.0 755.7H329.0V762.6H328.0zM329.0 756.4H329.3V764.0H329.0zM324.7 748.3H326.3V764.3H324.7zM322.0 754.3H324.0V769.0H322.0zM327.5 755.3H328.5V768.0H327.5zM345.3 756.3H346.3V764.0H345.3zM349.7 753.3H351.7V768.0H349.7zM382.0 755.3H383.0V763.6H382.0zM383.0 754.3H384.0V765.7H383.0zM384.0 754.9H385.0V766.1H384.0zM385.0 756.2H386.0V766.3H385.0zM382.3 742.6H384.0V766.3H382.3zM392.3 756.3H393.7V765.0H392.3zM412.9 754.3H414.6V764.3H412.9zM431.2 755.3H432.8V763.3H431.2zM533.7 754.3H535.3V764.3H533.7zM553.7 754.3H555.3V764.3H553.7zM575.2 754.3H576.8V764.3H575.2zM615.7 745.6H617.5V799.6H615.7zM617.5 750.6H619.2V799.6H617.5zM623.8 754.4H625.6V765.4H623.8zM649.2 753.4H650.2V762.9H649.2zM650.2 753.9H651.2V763.4H650.2zM651.2 754.2H652.2V763.7H651.2zM652.2 752.9H652.4V762.9H652.2zM1353.0 756.3H1355.0V768.6H1353.0zM1363.7 756.3H1365.7V766.6H1363.7zM1399.0 752.4H1400.0V767.1H1399.0zM1400.0 752.9H1401.0V766.7H1400.0zM1401.0 751.3H1402.0V767.3H1401.0zM1402.0 751.3H1403.0V764.6H1402.0zM1400.3 741.6H1401.7V788.9H1400.3zM1405.0 756.3H1406.7V772.9H1405.0zM1408.0 745.9H1409.7V762.3H1408.0zM1412.0 751.6H1413.7V762.3H1412.0zM1416.3 756.3H1418.0V768.9H1416.3zM1498.2 755.3H1499.8V763.3H1498.2zM1685.9 756.3H1687.5V764.3H1685.9z" fill="#008000"/>
<path d="M724.7 778.0H726.3V787.4H724.7zM741.7 781.4H743.3V795.4H741.7zM689.2 781.4H690.8V788.4H689.2z" fill="#000000"/>
<path d="M409.9 804.1H412.0V817.1H409.9zM430.0 806.6H431.8V815.1H430.0zM434.9 804.9H435.9V813.1H434.9zM435.9 805.0H436.9V813.4H435.9zM436.9 804.6H437.9V813.5H436.9zM437.9 806.4H438.5V814.6H437.9zM435.5 795.3H437.5V826.0H435.5zM441.0 807.3H442.0V818.4H441.0zM442.0 806.6H443.0V815.5H442.0zM443.0 806.7H444.0V816.2H443.0zM444.0 807.3H444.3V820.3H444.0zM491.7 805.6H492.7V819.0H491.7zM492.7 804.1H493.7V816.0H492.7zM493.7 805.1H494.7V818.4H493.7zM494.7 804.1H495.7V818.8H494.7zM495.7 806.0H495.8V817.8H495.7z" fill="#ff0000"/>
<path d="M987.5 831.4H988.5V837.0H987.5zM988.5 829.7H989.5V837.5H988.5zM989.5 830.1H990.5V837.8H989.5zM990.5 830.7H991.5V837.1H990.5zM991.5 829.7H992.5V837.0H991.5zM992.5 830.4H993.5V838.2H992.5zM993.5 831.3H994.5V837.3H993.5zM994.5 831.9H995.5V837.2H994.5zM995.5 831.9H995.6V837.9H995.5zM995.0 832.2H996.0V841.6H995.0zM996.0 831.6H997.0V839.9H996.0zM997.0 831.7H998.0V840.3H997.0zM998.0 832.1H999.0V842.2H998.0zM999.0 830.7H1000.0V842.0H999.0zM1000.0 832.0H1001.0V839.5H1000.0zM1001.0 831.8H1001.9V841.4H1001.0zM1007.2 799.9H1009.4V855.6H1007.2zM1015.0 826.7H1016.0V843.2H1015.0zM1016.0 826.1H1017.0V841.8H1016.0zM1017.0 826.8H1018.0V845.3H1017.0zM1018.0 826.0H1019.0V845.0H1018.0zM1019.0 828.1H1020.0V842.3H1019.0zM1020.0 827.4H1021.0V841.2H1020.0zM1021.0 829.0H1021.2V844.9H1021.0zM1021.9 830.7H1023.8V841.6H1021.9z" fill="#0000ff"/>
</g>
<rect x="230.5" y="60.5" width="1460" height="1019.9" fill="none" stroke="#000" stroke-width="1.1"/>
<line x1="225.6" y1="80.50" x2="230.5" y2="80.50" stroke="#000" stroke-width="1"/>
<text class="g" x="219.2" y="84.40" font-size="11" text-anchor="end" textLength="47.4" lengthAdjust="spacingAndGlyphs">00:00:05</text>
<line x1="225.6" y1="105.50" x2="230.5" y2="105.50" stroke="#000" stroke-width="1"/>
<text class="g" x="219.2" y="109.40" font-size="11" text-anchor="end" textLength="47.4" lengthAdjust="spacingAndGlyphs">01:00:05</text>
<line x1="225.6" y1="130.50" x2="230.5" y2="130.50" stroke="#000" stroke-width="1"/>
<text class="g" x="219.2" y="134.40" font-size="11" text-anchor="end" textLength="47.4" lengthAdjust="spacingAndGlyphs">02:00:05</text>
<line x1="225.6" y1="155.50" x2="230.5" y2="155.50" stroke="#000" stroke-width="1"/>
<text class="g" x="219.2" y="159.40" font-size="11" text-anchor="end" textLength="47.4" lengthAdjust="spacingAndGlyphs">03:00:05</text>
<line x1="225.6" y1="181.50" x2="230.5" y2="181.50" stroke="#000" stroke-width="1"/>
<text class="g" x="219.2" y="185.40" font-size="11" text-anchor="end" textLength="47.4" lengthAdjust="spacingAndGlyphs">04:00:05</text>
<line x1="225.6" y1="206.50" x2="230.5" y2="206.50" stroke="#000" stroke-width="1"/>
<text class="g" x="219.2" y="210.40" font-size="11" text-anchor="end" textLength="47.4" lengthAdjust="spacingAndGlyphs">05:00:05</text>
<line x1="225.6" y1="231.50" x2="230.5" y2="231.50" stroke="#000" stroke-width="1"/>
<text class="g" x="219.2" y="235.40" font-size="11" text-anchor="end" textLength="47.4" lengthAdjust="spacingAndGlyphs">06:00:05</text>
<line x1="225.6" y1="256.50" x2="230.5" y2="256.50" stroke="#000" stroke-width="1"/>
<text class="g" x="219.2" y="260.40" font-size="11" text-anchor="end" textLength="47.4" lengthAdjust="spacingAndGlyphs">07:00:05</text>
<line x1="225.6" y1="281.50" x2="230.5" y2="281.50" stroke="#000" stroke-width="1"/>
<text class="g" x="219.2" y="285.40" font-size="11" text-anchor="end" textLength="47.4" lengthAdjust="spacingAndGlyphs">08:00:05</text>
<line x1="225.6" y1="306.50" x2="230.5" y2="306.50" stroke="#000" stroke-width="1"/>
<text class="g" x="219.2" y="310.40" font-size="11" text-anchor="end" textLength="47.4" lengthAdjust="spacingAndGlyphs">09:00:05</text>
<line x1="225.6" y1="331.50" x2="230.5" y2="331.50" stroke="#000" stroke-width="1"/>
<text class="g" x="219.2" y="335.40" font-size="11" text-anchor="end" textLength="47.4" lengthAdjust="spacingAndGlyphs">10:00:05</text>
<line x1="225.6" y1="356.50" x2="230.5" y2="356.50" stroke="#000" stroke-width="1"/>
<text class="g" x="219.2" y="360.40" font-size="11" text-anchor="end" textLength="47.4" lengthAdjust="spacingAndGlyphs">11:00:05</text>
<line x1="225.6" y1="382.50" x2="230.5" y2="382.50" stroke="#000" stroke-width="1"/>
<text class="g" x="219.2" y="386.40" font-size="11" text-anchor="end" textLength="47.4" lengthAdjust="spacingAndGlyphs">12:00:05</text>
<line x1="225.6" y1="407.50" x2="230.5" y2="407.50" stroke="#000" stroke-width="1"/>
<text class="g" x="219.2" y="411.40" font-size="11" text-anchor="end" textLength="47.4" lengthAdjust="spacingAndGlyphs">13:00:05</text>
<line x1="225.6" y1="432.50" x2="230.5" y2="432.50" stroke="#000" stroke-width="1"/>
<text class="g" x="219.2" y="436.40" font-size="11" text-anchor="end" textLength="47.4" lengthAdjust="spacingAndGlyphs">14:00:05</text>
<line x1="225.6" y1="457.50" x2="230.5" y2="457.50" stroke="#000" stroke-width="1"/>
<text class="g" x="219.2" y="461.40" font-size="11" text-anchor="end" textLength="47.4" lengthAdjust="spacingAndGlyphs">15:00:05</text>
<line x1="225.6" y1="482.50" x2="230.5" y2="482.50" stroke="#000" stroke-width="1"/>
<text class="g" x="219.2" y="486.40" font-size="11" text-anchor="end" textLength="47.4" lengthAdjust="spacingAndGlyphs">16:00:05</text>
<line x1="225.6" y1="507.50" x2="230.5" y2="507.50" stroke="#000" stroke-width="1"/>
<text class="g" x="219.2" y="511.40" font-size="11" text-anchor="end" textLength="47.4" lengthAdjust="spacingAndGlyphs">17:00:05</text>
<line x1="225.6" y1="532.50" x2="230.5" y2="532.50" stroke="#000" stroke-width="1"/>
<text class="g" x="219.2" y="536.40" font-size="11" text-anchor="end" textLength="47.4" lengthAdjust="spacingAndGlyphs">18:00:05</text>
<line x1="225.6" y1="557.50" x2="230.5" y2="557.50" stroke="#000" stroke-width="1"/>
<text class="g" x="219.2" y="561.40" font-size="11" text-anchor="end" textLength="47.4" lengthAdjust="spacingAndGlyphs">19:00:05</text>
<line x1="225.6" y1="583.50" x2="230.5" y2="583.50" stroke="#000" stroke-width="1"/>
<text class="g" x="219.2" y="587.40" font-size="11" text-anchor="end" textLength="47.4" lengthAdjust="spacingAndGlyphs">20:00:05</text>
<line x1="225.6" y1="608.50" x2="230.5" y2="608.50" stroke="#000" stroke-width="1"/>
<text class="g" x="219.2" y="612.40" font-size="11" text-anchor="end" textLength="47.4" lengthAdjust="spacingAndGlyphs">21:00:05</text>
<line x1="225.6" y1="633.50" x2="230.5" y2="633.50" stroke="#000" stroke-width="1"/>
<text class="g" x="219.2" y="637.40" font-size="11" text-anchor="end" textLength="47.4" lengthAdjust="spacingAndGlyphs">22:00:05</text>
<line x1="225.6" y1="658.50" x2="230.5" y2="658.50" stroke="#000" stroke-width="1"/>
<text class="g" x="219.2" y="662.40" font-size="11" text-anchor="end" textLength="47.4" lengthAdjust="spacingAndGlyphs">23:00:05</text>
<line x1="225.6" y1="683.50" x2="230.5" y2="683.50" stroke="#000" stroke-width="1"/>
<text class="g" x="219.2" y="687.40" font-size="11" text-anchor="end" textLength="47.4" lengthAdjust="spacingAndGlyphs">00:00:05</text>
<line x1="225.6" y1="708.50" x2="230.5" y2="708.50" stroke="#000" stroke-width="1"/>
<text class="g" x="219.2" y="712.40" font-size="11" text-anchor="end" textLength="47.4" lengthAdjust="spacingAndGlyphs">01:00:05</text>
<line x1="225.6" y1="733.50" x2="230.5" y2="733.50" stroke="#000" stroke-width="1"/>
<text class="g" x="219.2" y="737.40" font-size="11" text-anchor="end" textLength="47.4" lengthAdjust="spacingAndGlyphs">02:00:05</text>
<line x1="225.6" y1="758.50" x2="230.5" y2="758.50" stroke="#000" stroke-width="1"/>
<text class="g" x="219.2" y="762.40" font-size="11" text-anchor="end" textLength="47.4" lengthAdjust="spacingAndGlyphs">03:00:05</text>
<line x1="225.6" y1="784.50" x2="230.5" y2="784.50" stroke="#000" stroke-width="1"/>
<text class="g" x="219.2" y="788.40" font-size="11" text-anchor="end" textLength="47.4" lengthAdjust="spacingAndGlyphs">04:00:05</text>
<line x1="225.6" y1="809.50" x2="230.5" y2="809.50" stroke="#000" stroke-width="1"/>
<text class="g" x="219.2" y="813.40" font-size="11" text-anchor="end" textLength="47.4" lengthAdjust="spacingAndGlyphs">05:00:05</text>
<line x1="225.6" y1="834.50" x2="230.5" y2="834.50" stroke="#000" stroke-width="1"/>
<text class="g" x="219.2" y="838.40" font-size="11" text-anchor="end" textLength="47.4" lengthAdjust="spacingAndGlyphs">06:00:05</text>
<line x1="225.6" y1="859.50" x2="230.5" y2="859.50" stroke="#000" stroke-width="1"/>
<text class="g" x="219.2" y="863.40" font-size="11" text-anchor="end" textLength="47.4" lengthAdjust="spacingAndGlyphs">07:00:05</text>
<line x1="225.6" y1="884.50" x2="230.5" y2="884.50" stroke="#000" stroke-width="1"/>
<text class="g" x="219.2" y="888.40" font-size="11" text-anchor="end" textLength="47.4" lengthAdjust="spacingAndGlyphs">08:00:05</text>
<line x1="225.6" y1="909.50" x2="230.5" y2="909.50" stroke="#000" stroke-width="1"/>
<text class="g" x="219.2" y="913.40" font-size="11" text-anchor="end" textLength="47.4" lengthAdjust="spacingAndGlyphs">09:00:05</text>
<line x1="225.6" y1="934.50" x2="230.5" y2="934.50" stroke="#000" stroke-width="1"/>
<text class="g" x="219.2" y="938.40" font-size="11" text-anchor="end" textLength="47.4" lengthAdjust="spacingAndGlyphs">10:00:05</text>
<line x1="225.6" y1="959.50" x2="230.5" y2="959.50" stroke="#000" stroke-width="1"/>
<text class="g" x="219.2" y="963.40" font-size="11" text-anchor="end" textLength="47.4" lengthAdjust="spacingAndGlyphs">11:00:05</text>
<line x1="225.6" y1="985.50" x2="230.5" y2="985.50" stroke="#000" stroke-width="1"/>
<text class="g" x="219.2" y="989.40" font-size="11" text-anchor="end" textLength="47.4" lengthAdjust="spacingAndGlyphs">12:00:05</text>
<line x1="225.6" y1="1010.50" x2="230.5" y2="1010.50" stroke="#000" stroke-width="1"/>
<text class="g" x="219.2" y="1014.40" font-size="11" text-anchor="end" textLength="47.4" lengthAdjust="spacingAndGlyphs">13:00:05</text>
<line x1="225.6" y1="1035.50" x2="230.5" y2="1035.50" stroke="#000" stroke-width="1"/>
<text class="g" x="219.2" y="1039.40" font-size="11" text-anchor="end" textLength="47.4" lengthAdjust="spacingAndGlyphs">14:00:05</text>
<line x1="225.6" y1="1060.50" x2="230.5" y2="1060.50" stroke="#000" stroke-width="1"/>
<text class="g" x="219.2" y="1064.40" font-size="11" text-anchor="end" textLength="47.4" lengthAdjust="spacingAndGlyphs">15:00:05</text>
<line x1="230.5" y1="1080.4" x2="230.5" y2="1085.6" stroke="#000" stroke-width="1.1"/>
<text class="g" x="230.8" y="1097.9" font-size="11.3" text-anchor="middle" textLength="7.0" lengthAdjust="spacingAndGlyphs">0</text>
<line x1="595.5" y1="1080.4" x2="595.5" y2="1085.6" stroke="#000" stroke-width="1.1"/>
<text class="g" x="595.8" y="1097.9" font-size="11.3" text-anchor="middle" textLength="14.0" lengthAdjust="spacingAndGlyphs">15</text>
<line x1="960.5" y1="1080.4" x2="960.5" y2="1085.6" stroke="#000" stroke-width="1.1"/>
<text class="g" x="960.8" y="1097.9" font-size="11.3" text-anchor="middle" textLength="14.0" lengthAdjust="spacingAndGlyphs">30</text>
<line x1="1325.5" y1="1080.4" x2="1325.5" y2="1085.6" stroke="#000" stroke-width="1.1"/>
<text class="g" x="1325.8" y="1097.9" font-size="11.3" text-anchor="middle" textLength="14.0" lengthAdjust="spacingAndGlyphs">45</text>
<line x1="1690.5" y1="1080.4" x2="1690.5" y2="1085.6" stroke="#000" stroke-width="1.1"/>
<text class="g" x="1690.8" y="1097.9" font-size="11.3" text-anchor="middle" textLength="14.0" lengthAdjust="spacingAndGlyphs">60</text>
<text class="g" x="960" y="1112.9" font-size="11" text-anchor="middle" textLength="89.2" lengthAdjust="spacingAndGlyphs">time in minutes</text>
<path d="M806.10 439.70Q735.11 450.60 674.80 411.60" stroke="#000" stroke-width="1.3" fill="none"/>
<polygon points="667.40,399.00 669.35,405.01 675.67,405.01 670.56,408.73 672.51,414.74 667.40,411.02 662.29,414.74 664.24,408.73 659.13,405.01 665.45,405.01" fill="#ffff00" stroke="#ffff00" stroke-width="1.3" stroke-linejoin="bevel"/>
<rect x="808.9" y="427.6" width="212.6" height="22.2" rx="3" ry="3" fill="#fff" fill-opacity="0.6" stroke="#000" stroke-opacity="0.5" stroke-width="1.35"/>
<text class="g" x="813.6" y="442.8" font-size="14.1" textLength="203.6" lengthAdjust="spacingAndGlyphs">CENTRAL CALIFORNIA, 3.2 ml</text>
<path d="M1163.00 825.40Q1233.14 817.28 1293.70 853.60" stroke="#000" stroke-width="1.3" fill="none"/>
<polygon points="1302.50,851.00 1304.45,857.01 1310.77,857.01 1305.66,860.73 1307.61,866.74 1302.50,863.02 1297.39,866.74 1299.34,860.73 1294.23,857.01 1300.55,857.01" fill="#ffff00" stroke="#ffff00" stroke-width="1.3" stroke-linejoin="bevel"/>
<rect x="821.2" y="815.9" width="338.2" height="22.2" rx="3" ry="3" fill="#fff" fill-opacity="0.6" stroke="#000" stroke-opacity="0.5" stroke-width="1.35"/>
<text class="g" x="825.3" y="831.2" font-size="14.1" textLength="329.8" lengthAdjust="spacingAndGlyphs">KYRGYZSTAN-XINJIANG BORDER REG., 5.8 mww</text>
</svg></body></html>
